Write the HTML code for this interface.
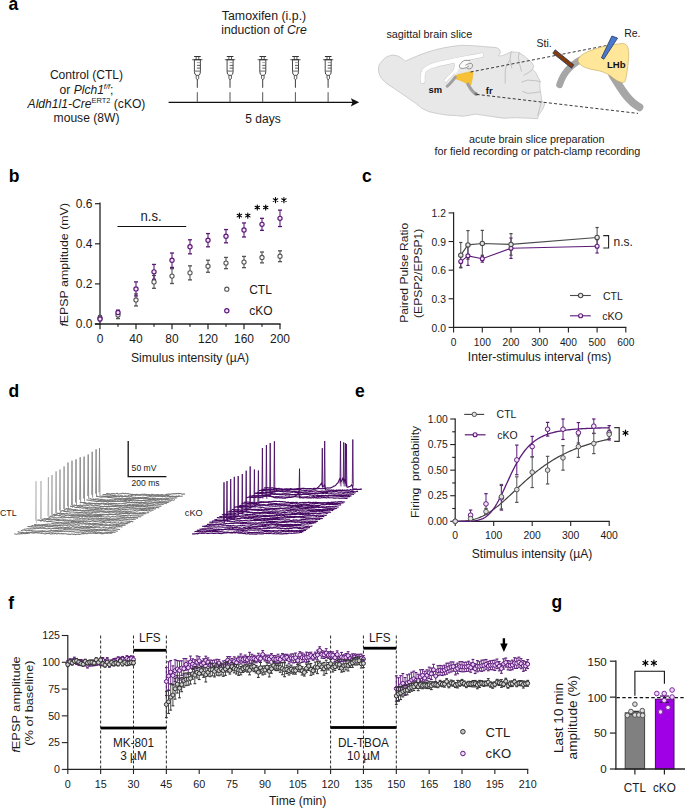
<!DOCTYPE html>
<html><head><meta charset="utf-8"><style>
html,body{margin:0;padding:0;background:#fff;}
svg{display:block;}
text{font-family:"Liberation Sans", sans-serif;}
</style></head><body>
<svg width="685" height="808" viewBox="0 0 685 808">
<rect x="0" y="0" width="685" height="808" fill="#fff"/>
<text transform="translate(8.6 9.8) scale(1 1.06)" font-size="17.5" text-anchor="start" font-weight="bold" font-style="normal" fill="#000" >a</text>
<text transform="translate(8.8 181.9) scale(1 1.06)" font-size="17.5" text-anchor="start" font-weight="bold" font-style="normal" fill="#000" >b</text>
<text transform="translate(362 181.9) scale(1 1.06)" font-size="17.5" text-anchor="start" font-weight="bold" font-style="normal" fill="#000" >c</text>
<text transform="translate(8.6 396.9) scale(1 1.06)" font-size="17.5" text-anchor="start" font-weight="bold" font-style="normal" fill="#000" >d</text>
<text transform="translate(355 396.9) scale(1 1.06)" font-size="17.5" text-anchor="start" font-weight="bold" font-style="normal" fill="#000" >e</text>
<text transform="translate(8.2 608.5) scale(1 1.06)" font-size="17.5" text-anchor="start" font-weight="bold" font-style="normal" fill="#000" >f</text>
<text transform="translate(551.6 608.4) scale(1 1.06)" font-size="17.5" text-anchor="start" font-weight="bold" font-style="normal" fill="#000" >g</text>
<text transform="translate(86.5 79.3) scale(1 1.06)" font-size="12.1" text-anchor="middle" fill="#1a1a1a">Control (CTL)</text>
<text transform="translate(86.5 93.6) scale(1 1.06)" font-size="12.1" text-anchor="middle" fill="#1a1a1a">or <tspan font-style="italic">Plch1</tspan><tspan font-style="italic" font-size="7.5" dy="-4.5">f/f</tspan><tspan dy="4.5">;</tspan></text>
<text transform="translate(86.5 108.2) scale(1 1.06)" font-size="12.1" text-anchor="middle" fill="#1a1a1a"><tspan font-style="italic">Aldh1l1-Cre</tspan><tspan font-size="7.5" dy="-4.5">ERT2</tspan><tspan dy="4.5"> (cKO)</tspan></text>
<text transform="translate(86.5 122.3) scale(1 1.06)" font-size="12.1" text-anchor="middle" fill="#1a1a1a">mouse (8W)</text>
<text transform="translate(264.0 19.8) scale(1 1.06)" font-size="12.35" text-anchor="middle" fill="#1a1a1a">Tamoxifen (i.p.)</text>
<text transform="translate(264.0 34.0) scale(1 1.06)" font-size="12.2" text-anchor="middle" fill="#1a1a1a">induction of <tspan font-style="italic">Cre</tspan></text>
<text transform="translate(263.0 123.3) scale(1 1.06)" font-size="12" text-anchor="middle" fill="#1a1a1a">5 days</text>
<line x1="168.6" y1="102.3" x2="353" y2="102.3" stroke="#111" stroke-width="1.35" />
<path d="M359.2,102.2 L350.8,98.2 L352.6,102.2 L350.8,106.4 Z" stroke="none" stroke-width="1" fill="#111" />
<line x1="197.3" y1="92.2" x2="197.3" y2="102.2" stroke="#555" stroke-width="1.0" />
<line x1="197.3" y1="79.2" x2="197.3" y2="87.8" stroke="#333333" stroke-width="0.95" />
<path d="M196.2,75.2 L196.2,78.6 L197.3,79.6 L198.7,78.6 L198.7,75.2" stroke="#333333" stroke-width="0.8" fill="#fff" />
<path d="M194.4,59.8 L194.4,71.6 Q194.4,74.8 196.3,75.3 L198.7,75.3 Q200.4,74.8 200.4,71.6 L200.4,59.8" stroke="#333333" stroke-width="0.9" fill="#fff" />
<line x1="194.4" y1="71.1" x2="200.4" y2="71.1" stroke="#555" stroke-width="0.9" />
<line x1="196.9" y1="62.6" x2="200.3" y2="62.6" stroke="#888" stroke-width="0.8" />
<line x1="196.9" y1="65.4" x2="200.3" y2="65.4" stroke="#333333" stroke-width="0.8" />
<line x1="196.9" y1="68.1" x2="200.3" y2="68.1" stroke="#333333" stroke-width="0.8" />
<line x1="192.1" y1="59.7" x2="202.5" y2="59.7" stroke="#777" stroke-width="1.1"/>
<line x1="193.7" y1="59.7" x2="201.1" y2="59.7" stroke="#333333" stroke-width="1.1" />
<line x1="196.2" y1="56.8" x2="196.2" y2="59.6" stroke="#333333" stroke-width="0.8" />
<line x1="198.8" y1="56.8" x2="198.8" y2="59.6" stroke="#333333" stroke-width="0.8" />
<line x1="194.1" y1="56.5" x2="200.7" y2="56.5" stroke="#333333" stroke-width="1.0" />
<line x1="230" y1="92.2" x2="230" y2="102.2" stroke="#555" stroke-width="1.0" />
<line x1="230" y1="79.2" x2="230" y2="87.8" stroke="#333333" stroke-width="0.95" />
<path d="M228.9,75.2 L228.9,78.6 L230,79.6 L231.4,78.6 L231.4,75.2" stroke="#333333" stroke-width="0.8" fill="#fff" />
<path d="M227.1,59.8 L227.1,71.6 Q227.1,74.8 229,75.3 L231.4,75.3 Q233.1,74.8 233.1,71.6 L233.1,59.8" stroke="#333333" stroke-width="0.9" fill="#fff" />
<line x1="227.1" y1="71.1" x2="233.1" y2="71.1" stroke="#555" stroke-width="0.9" />
<line x1="229.6" y1="62.6" x2="233" y2="62.6" stroke="#888" stroke-width="0.8" />
<line x1="229.6" y1="65.4" x2="233" y2="65.4" stroke="#333333" stroke-width="0.8" />
<line x1="229.6" y1="68.1" x2="233" y2="68.1" stroke="#333333" stroke-width="0.8" />
<line x1="224.8" y1="59.7" x2="235.2" y2="59.7" stroke="#777" stroke-width="1.1"/>
<line x1="226.4" y1="59.7" x2="233.8" y2="59.7" stroke="#333333" stroke-width="1.1" />
<line x1="228.9" y1="56.8" x2="228.9" y2="59.6" stroke="#333333" stroke-width="0.8" />
<line x1="231.5" y1="56.8" x2="231.5" y2="59.6" stroke="#333333" stroke-width="0.8" />
<line x1="226.8" y1="56.5" x2="233.4" y2="56.5" stroke="#333333" stroke-width="1.0" />
<line x1="262.7" y1="92.2" x2="262.7" y2="102.2" stroke="#555" stroke-width="1.0" />
<line x1="262.7" y1="79.2" x2="262.7" y2="87.8" stroke="#333333" stroke-width="0.95" />
<path d="M261.6,75.2 L261.6,78.6 L262.7,79.6 L264.1,78.6 L264.1,75.2" stroke="#333333" stroke-width="0.8" fill="#fff" />
<path d="M259.8,59.8 L259.8,71.6 Q259.8,74.8 261.7,75.3 L264.1,75.3 Q265.8,74.8 265.8,71.6 L265.8,59.8" stroke="#333333" stroke-width="0.9" fill="#fff" />
<line x1="259.8" y1="71.1" x2="265.8" y2="71.1" stroke="#555" stroke-width="0.9" />
<line x1="262.3" y1="62.6" x2="265.7" y2="62.6" stroke="#888" stroke-width="0.8" />
<line x1="262.3" y1="65.4" x2="265.7" y2="65.4" stroke="#333333" stroke-width="0.8" />
<line x1="262.3" y1="68.1" x2="265.7" y2="68.1" stroke="#333333" stroke-width="0.8" />
<line x1="257.5" y1="59.7" x2="267.9" y2="59.7" stroke="#777" stroke-width="1.1"/>
<line x1="259.1" y1="59.7" x2="266.5" y2="59.7" stroke="#333333" stroke-width="1.1" />
<line x1="261.6" y1="56.8" x2="261.6" y2="59.6" stroke="#333333" stroke-width="0.8" />
<line x1="264.2" y1="56.8" x2="264.2" y2="59.6" stroke="#333333" stroke-width="0.8" />
<line x1="259.5" y1="56.5" x2="266.1" y2="56.5" stroke="#333333" stroke-width="1.0" />
<line x1="295.4" y1="92.2" x2="295.4" y2="102.2" stroke="#555" stroke-width="1.0" />
<line x1="295.4" y1="79.2" x2="295.4" y2="87.8" stroke="#333333" stroke-width="0.95" />
<path d="M294.3,75.2 L294.3,78.6 L295.4,79.6 L296.8,78.6 L296.8,75.2" stroke="#333333" stroke-width="0.8" fill="#fff" />
<path d="M292.5,59.8 L292.5,71.6 Q292.5,74.8 294.4,75.3 L296.8,75.3 Q298.5,74.8 298.5,71.6 L298.5,59.8" stroke="#333333" stroke-width="0.9" fill="#fff" />
<line x1="292.5" y1="71.1" x2="298.5" y2="71.1" stroke="#555" stroke-width="0.9" />
<line x1="295" y1="62.6" x2="298.4" y2="62.6" stroke="#888" stroke-width="0.8" />
<line x1="295" y1="65.4" x2="298.4" y2="65.4" stroke="#333333" stroke-width="0.8" />
<line x1="295" y1="68.1" x2="298.4" y2="68.1" stroke="#333333" stroke-width="0.8" />
<line x1="290.2" y1="59.7" x2="300.6" y2="59.7" stroke="#777" stroke-width="1.1"/>
<line x1="291.8" y1="59.7" x2="299.2" y2="59.7" stroke="#333333" stroke-width="1.1" />
<line x1="294.3" y1="56.8" x2="294.3" y2="59.6" stroke="#333333" stroke-width="0.8" />
<line x1="296.9" y1="56.8" x2="296.9" y2="59.6" stroke="#333333" stroke-width="0.8" />
<line x1="292.2" y1="56.5" x2="298.8" y2="56.5" stroke="#333333" stroke-width="1.0" />
<line x1="328.1" y1="92.2" x2="328.1" y2="102.2" stroke="#555" stroke-width="1.0" />
<line x1="328.1" y1="79.2" x2="328.1" y2="87.8" stroke="#333333" stroke-width="0.95" />
<path d="M327,75.2 L327,78.6 L328.1,79.6 L329.5,78.6 L329.5,75.2" stroke="#333333" stroke-width="0.8" fill="#fff" />
<path d="M325.2,59.8 L325.2,71.6 Q325.2,74.8 327.1,75.3 L329.5,75.3 Q331.2,74.8 331.2,71.6 L331.2,59.8" stroke="#333333" stroke-width="0.9" fill="#fff" />
<line x1="325.2" y1="71.1" x2="331.2" y2="71.1" stroke="#555" stroke-width="0.9" />
<line x1="327.7" y1="62.6" x2="331.1" y2="62.6" stroke="#888" stroke-width="0.8" />
<line x1="327.7" y1="65.4" x2="331.1" y2="65.4" stroke="#333333" stroke-width="0.8" />
<line x1="327.7" y1="68.1" x2="331.1" y2="68.1" stroke="#333333" stroke-width="0.8" />
<line x1="322.9" y1="59.7" x2="333.3" y2="59.7" stroke="#777" stroke-width="1.1"/>
<line x1="324.5" y1="59.7" x2="331.9" y2="59.7" stroke="#333333" stroke-width="1.1" />
<line x1="327" y1="56.8" x2="327" y2="59.6" stroke="#333333" stroke-width="0.8" />
<line x1="329.6" y1="56.8" x2="329.6" y2="59.6" stroke="#333333" stroke-width="0.8" />
<line x1="324.9" y1="56.5" x2="331.5" y2="56.5" stroke="#333333" stroke-width="1.0" />
<text transform="translate(386.4 38.4) scale(1 1.0)" font-size="10.8" text-anchor="start" font-weight="normal" font-style="normal" fill="#1a1a1a" >sagittal brain slice</text>
<path d="M378.6,70.9 C378.2,66.5 379.2,63.8 381.2,62.3 C383,59.6 385.2,57.4 387.8,56.4 C389.6,55.6 391.4,55.1 393,55.1 C395.2,55.2 397.2,55.6 398.9,56.4 C400.6,57.4 402.2,58.6 403.5,59.7 C404.2,60.4 404.8,61 405.5,61 C407.6,60.2 409.4,59.2 411.4,58.4 C415.8,56.6 420.2,54.6 424.6,53.1 C429,51.6 433.4,50.2 437.7,49.2 C442,48.2 446.4,47.2 450.8,46.6 C455,46 459,45.5 462,45.3 C470,45.3 480,46.2 490,47.1 C492.5,47.3 494.5,47.3 496.1,47.6 C497.8,48.2 499.2,48.8 499.6,49.6 C500.2,50.8 500.4,52.2 500.2,53.2 C499.8,54.2 498.6,55 498.6,55.7 C499.8,56 501,55.9 502.2,55.7 C503.6,55.2 504.9,54.7 506.2,54.2 C507.9,53.4 509.6,52.4 511.3,51.7 C512.7,51.8 514.1,52 515.4,52.2 C516.8,52.3 518.1,52.4 519.4,52.7 C521.2,53.8 522.8,55 524.5,56.2 C525.9,57.4 527.2,58.6 528.6,59.8 C529.6,60.6 530.6,61.4 531.6,62.3 C532.5,63.6 533.4,65 533.7,66.4 C533.5,67.4 532.6,68.4 532.6,69.4 C533.6,70.4 534.8,71.4 535.7,72.5 C536.8,74.5 537.8,76.6 538.7,78.6 C539.3,79.6 540,80.6 540.3,81.6 C540.4,82.6 539.7,83.7 539.7,84.7 C539.9,86.8 540.1,88.8 540.3,90.8 C540.6,92.8 541,94.9 541.3,96.9 C541.5,98.2 541.6,99.6 541.8,100.9 C542.8,101.8 544.2,102.6 544.8,103.5 C544.4,105.4 543.6,107.2 542.8,109 C541.4,111 540,113 538.7,115.1 C538.3,116.3 537.9,117.5 537.7,118.7 C534.6,118.5 531.6,118.4 528.6,118.2 C524.2,118 519.8,117.8 515.4,117.7 C511.3,117.8 507.3,118 503.2,118.2 C499.3,117.6 495.4,117 491.5,116.4 C486,115.6 480.6,114.8 475.1,114.1 C470,115.3 466,115.9 462,116.2 C458.5,115.9 457.2,115.7 456.1,115.6 C452.6,115.4 449.1,115.2 445.6,114.9 C443,114.4 440.3,114 437.7,113.6 C434.6,113 431.6,112.3 428.5,111.6 C426.3,110.5 424.1,109.4 421.9,108.3 C419.7,106.6 417.6,104.8 415.4,103.1 C413.2,101.6 411,100 408.8,98.5 C406.6,97 404.4,95.4 402.2,93.9 C399.6,92.1 396.9,90.4 394.3,88.6 C391.7,86.9 389.1,85.2 386.5,83.4 C384.7,81.6 382.9,79.9 381.2,78.1 C379.8,75.8 378.8,73.4 378.6,70.9 Z" stroke="#bdbdbd" stroke-width="0.7" fill="#e8e8e8" />
<path d="M511.3,51.7 C510.6,54.6 510.4,57.5 509.8,60.3 C508.8,62.4 507.2,64.2 506.2,66.4 C505.4,68.8 505.2,71.1 505.2,73.5 C505.2,76.9 505.3,80.3 505.2,83.7" stroke="#a8a8a8" stroke-width="0.6" fill="none" />
<path d="M510.3,60.3 C510.8,63 511.2,65.8 511.8,68.4" stroke="#a8a8a8" stroke-width="0.6" fill="none" />
<path d="M519.4,52.7 C518.9,54.2 518.4,55.8 518.4,57.3 C518.7,59.3 519.1,61.4 519.4,63.4 C520,66.1 520.8,68.8 521.5,71.5" stroke="#a8a8a8" stroke-width="0.6" fill="none" />
<path d="M523.5,75.5 C525.2,74.5 526.9,73.5 528.6,72.5 C529.9,71.5 531.3,70.4 532.6,69.4" stroke="#a8a8a8" stroke-width="0.6" fill="none" />
<path d="M521.5,82.1 C523.5,81.4 525.6,80.8 527.6,80.1 C530,80.3 532.3,80.4 534.7,80.6 C536.6,80.9 538.4,81.3 540.3,81.6" stroke="#a8a8a8" stroke-width="0.6" fill="none" />
<path d="M522.5,91.3 C524.2,92 525.9,92.6 527.6,93.3 C529.6,93.2 531.7,93 533.7,92.8 C535.9,92.5 538.1,92.1 540.3,91.8" stroke="#a8a8a8" stroke-width="0.6" fill="none" />
<path d="M541.3,101.9 C540.1,106.5 538.9,111 537.7,115.6" stroke="#a8a8a8" stroke-width="0.6" fill="none" />
<path d="M422.8,81.2 C422.4,77 422.4,73.2 424.4,70.4 C427.2,67.2 431,65.8 436,64.6 C444,62.6 452,61.2 460,59.4 C467,58 474,56.4 481.4,55.2" stroke="#c4c4c4" stroke-width="5.0" fill="none" stroke-linecap="round"/>
<path d="M445.6,80.6 C447.2,78.8 450.6,75.6 453.2,72.8 C455,70.6 456.2,67.2 456.6,64.4 C456.8,63.2 456.8,62.4 456.7,61.8" stroke="#c4c4c4" stroke-width="3.6" fill="none" stroke-linecap="round"/>
<path d="M422.8,81.2 C422.4,77 422.4,73.2 424.4,70.4 C427.2,67.2 431,65.8 436,64.6 C444,62.6 452,61.2 460,59.4 C467,58 474,56.4 481.4,55.2" stroke="#ffffff" stroke-width="4.2" fill="none" stroke-linecap="round"/>
<path d="M445.6,80.6 C447.2,78.8 450.6,75.6 453.2,72.8 C455,70.6 456.2,67.2 456.6,64.4 C456.8,63.2 456.8,62.4 456.7,61.8" stroke="#ffffff" stroke-width="2.8" fill="none" stroke-linecap="round"/>
<path d="M453.8,61.6 C456.5,60.8 459,60.4 461.5,60.3 C462,62 460.6,63.6 459.8,65.6 C459.2,67.6 458.6,69.6 457.4,71.4 C456.4,72.6 455.2,73.6 454,74.6 C454.4,72.6 455.2,70.4 455.4,68.4 C455.6,66.2 455.2,63.6 453.8,61.6 Z" stroke="none" stroke-width="1" fill="#ffffff" />
<path d="M470.1,60.5 L464.9,60.3 C463,61 461.8,62 461.4,62.9 C460.2,64 459.4,65 459.4,66 C459.6,67.2 460,67.8 460.5,68.1 C461.4,68.4 462.3,68.5 463.1,68.4 C464.2,68.2 465.2,68 466.2,67.7 L468,63.5 Z" stroke="none" stroke-width="1" fill="#fafafa" />
<path d="M470.1,60.5 L464.9,60.3 C463,61 461.8,62 461.4,62.9 C460.2,64 459.4,65 459.4,66 C459.6,67.2 460,67.8 460.5,68.1 C461.4,68.4 462.3,68.5 463.1,68.4 C464.2,68.2 465.2,68 466.2,67.7" stroke="#555" stroke-width="0.6" fill="none" />
<path d="M465.3,65.3 C466.3,64.7 467.3,64.1 468.4,63.8 C469.3,63.4 470.1,63.2 471,63.3 C471.9,63.8 472.6,64.4 472.6,65.1 C472.6,65.7 472.5,66.1 472.3,66.6 C472,67.3 471.6,68 471.2,68.4 C470.4,68.8 469.6,69 468.8,69 C468,68.8 467.2,68.5 466.6,68.1 C466.8,67.6 467.1,67.1 467.5,66.8 C467.9,66.5 468.4,66.3 468.8,66.2" stroke="#555" stroke-width="0.6" fill="none" />
<path d="M453.9,77.0 C456,75.4 458,74.4 461,73.8 C465,72.8 469,71.8 471.0,71.5 C472.6,71.6 473.2,72.6 473.0,74.2 C472.6,77.5 472,81.5 470.9,85.0 C469.6,84.8 468,84.2 466.8,83.6 C463.8,81.8 460.4,80.4 457.2,79.4 C455.4,78.8 454.2,78.2 453.9,77.0 Z" stroke="#e5ad22" stroke-width="0.4" fill="#f7c136" />
<path d="M455.4,77.2 C453.6,79.6 451.6,82 449.6,84 C448.6,85 447.8,85.8 447.2,86.2" stroke="#a0a0a0" stroke-width="3.0" fill="none" stroke-linecap="round"/>
<path d="M467.8,84.2 C469.2,86.2 470.4,88.4 471.8,90.2 C473,91.8 474.4,93.2 476.4,94.2" stroke="#a0a0a0" stroke-width="3.2" fill="none" stroke-linecap="round"/>
<circle cx="475.8" cy="94.0" r="1.4" fill="#7a7a7a"/>
<text transform="translate(428.6 92.6) scale(1 1.0)" font-size="9.4" text-anchor="start" font-weight="bold" font-style="normal" fill="#111" >sm</text>
<text transform="translate(485.8 93.8) scale(1 1.0)" font-size="9.4" text-anchor="start" font-weight="bold" font-style="normal" fill="#111" >fr</text>
<line x1="470.6" y1="72" x2="608.5" y2="45.2" stroke="#222" stroke-width="0.9" stroke-dasharray="3,2.2"/>
<line x1="476.6" y1="94.4" x2="638" y2="113.4" stroke="#222" stroke-width="0.9" stroke-dasharray="3,2.2"/>
<path d="M559.6,84.8 C561.5,78.5 565.5,71.5 571,66.5 C574.5,63.2 578,61 582,59.2" stroke="#a6a6a6" stroke-width="6.8" fill="none" stroke-linecap="round"/>
<path d="M612.5,75 C617,82 621.5,90 626.5,96 C631,101.5 635,104.8 639.4,107.2" stroke="#a6a6a6" stroke-width="8.0" fill="none" stroke-linecap="round"/>
<path d="M578.2,58.9 C580,55.8 583,53.8 588,51.6 C594,49.2 600,47.2 606.7,45.8 C613,44.6 618.5,43.8 622.8,43.5 C625.4,43.6 627.2,45.2 628.2,48.4 C629.2,53.5 628.6,60 627.9,65.5 C627.2,71.5 626.4,77 625.4,80.6 C624.6,82.6 623.0,82.8 620.6,82.2 C616.4,80.8 613,78 609.6,75.2 C605,72.4 600.5,71 596,70.2 C590,69.2 585,68 581.4,65.4 C578.8,63.6 577.6,61.2 578.2,58.9 Z" stroke="#b59a48" stroke-width="0.5" fill="#ffe699" />
<text transform="translate(607 67.8) scale(1 1.02)" font-size="9.6" text-anchor="start" font-weight="bold" font-style="normal" fill="#111" >LHb</text>
<polygon points="611.9,36.0 617.6,38.1 603.8,59.2 601.4,57.8" fill="#4a78cc" stroke="#1f3864" stroke-width="0.8"/>
<polygon points="552.8,53.2 555.2,49.8 573.8,64.8 571.6,68.2" fill="#843c0c" stroke="#1f3864" stroke-width="0.8"/>
<text transform="translate(624.2 37.2) scale(1 1.0)" font-size="10.5" text-anchor="start" font-weight="normal" font-style="normal" fill="#1a1a1a" >Re.</text>
<text transform="translate(536.6 46.6) scale(1 1.0)" font-size="10.5" text-anchor="start" font-weight="normal" font-style="normal" fill="#1a1a1a" >Sti.</text>
<text transform="translate(536.8 142.8) scale(1 1.0)" font-size="10.8" text-anchor="middle" font-weight="normal" font-style="normal" fill="#1a1a1a" >acute brain slice preparation</text>
<text transform="translate(537.4 155.2) scale(1 1.0)" font-size="10.8" text-anchor="middle" font-weight="normal" font-style="normal" fill="#1a1a1a" >for field recording or patch-clamp recording</text>
<line x1="100" y1="202.5" x2="100" y2="324.6" stroke="#222" stroke-width="1.3" />
<line x1="94.8" y1="324" x2="280.6" y2="324" stroke="#222" stroke-width="1.3" />
<line x1="95" y1="324" x2="100" y2="324" stroke="#222" stroke-width="1.2" />
<text transform="translate(92.4 328.3) scale(1 1.06)" font-size="12.0" text-anchor="end" font-weight="normal" font-style="normal" fill="#1a1a1a" >0.0</text>
<line x1="95" y1="283.9" x2="100" y2="283.9" stroke="#222" stroke-width="1.2" />
<text transform="translate(92.4 288.2) scale(1 1.06)" font-size="12.0" text-anchor="end" font-weight="normal" font-style="normal" fill="#1a1a1a" >0.2</text>
<line x1="95" y1="243.8" x2="100" y2="243.8" stroke="#222" stroke-width="1.2" />
<text transform="translate(92.4 248.1) scale(1 1.06)" font-size="12.0" text-anchor="end" font-weight="normal" font-style="normal" fill="#1a1a1a" >0.4</text>
<line x1="95" y1="203.7" x2="100" y2="203.7" stroke="#222" stroke-width="1.2" />
<text transform="translate(92.4 208) scale(1 1.06)" font-size="12.0" text-anchor="end" font-weight="normal" font-style="normal" fill="#1a1a1a" >0.6</text>
<line x1="100" y1="324" x2="100" y2="329.2" stroke="#222" stroke-width="1.2" />
<text transform="translate(100 342.8) scale(1 1.06)" font-size="12.0" text-anchor="middle" font-weight="normal" font-style="normal" fill="#1a1a1a" >0</text>
<line x1="118" y1="324" x2="118" y2="326.8" stroke="#222" stroke-width="1.2" />
<line x1="136" y1="324" x2="136" y2="329.2" stroke="#222" stroke-width="1.2" />
<text transform="translate(136 342.8) scale(1 1.06)" font-size="12.0" text-anchor="middle" font-weight="normal" font-style="normal" fill="#1a1a1a" >40</text>
<line x1="154" y1="324" x2="154" y2="326.8" stroke="#222" stroke-width="1.2" />
<line x1="172" y1="324" x2="172" y2="329.2" stroke="#222" stroke-width="1.2" />
<text transform="translate(172 342.8) scale(1 1.06)" font-size="12.0" text-anchor="middle" font-weight="normal" font-style="normal" fill="#1a1a1a" >80</text>
<line x1="190" y1="324" x2="190" y2="326.8" stroke="#222" stroke-width="1.2" />
<line x1="208" y1="324" x2="208" y2="329.2" stroke="#222" stroke-width="1.2" />
<text transform="translate(208 342.8) scale(1 1.06)" font-size="12.0" text-anchor="middle" font-weight="normal" font-style="normal" fill="#1a1a1a" >120</text>
<line x1="226" y1="324" x2="226" y2="326.8" stroke="#222" stroke-width="1.2" />
<line x1="244" y1="324" x2="244" y2="329.2" stroke="#222" stroke-width="1.2" />
<text transform="translate(244 342.8) scale(1 1.06)" font-size="12.0" text-anchor="middle" font-weight="normal" font-style="normal" fill="#1a1a1a" >160</text>
<line x1="262" y1="324" x2="262" y2="326.8" stroke="#222" stroke-width="1.2" />
<line x1="280" y1="324" x2="280" y2="329.2" stroke="#222" stroke-width="1.2" />
<text transform="translate(280 342.8) scale(1 1.06)" font-size="12.0" text-anchor="middle" font-weight="normal" font-style="normal" fill="#1a1a1a" >200</text>
<text transform="translate(190 361.5) scale(1 1.06)" font-size="12.2" text-anchor="middle" font-weight="normal" font-style="normal" fill="#1a1a1a" >Simulus intensity (µA)</text>
<text transform="translate(68.2 264.8) rotate(-90) scale(1.1 1)" font-size="11.27" text-anchor="middle" fill="#1a1a1a"><tspan font-style="italic">f</tspan>EPSP amplitude (mV)</text>
<line x1="100" y1="315.58" x2="100" y2="320.39" stroke="#555" stroke-width="1.1" />
<line x1="98" y1="315.58" x2="102" y2="315.58" stroke="#555" stroke-width="1.32" />
<line x1="98" y1="320.39" x2="102" y2="320.39" stroke="#555" stroke-width="1.32" />
<line x1="118" y1="311.37" x2="118" y2="318.59" stroke="#555" stroke-width="1.1" />
<line x1="116" y1="311.37" x2="120" y2="311.37" stroke="#555" stroke-width="1.32" />
<line x1="116" y1="318.59" x2="120" y2="318.59" stroke="#555" stroke-width="1.32" />
<line x1="136" y1="293.93" x2="136" y2="305.95" stroke="#555" stroke-width="1.1" />
<line x1="134" y1="293.93" x2="138" y2="293.93" stroke="#555" stroke-width="1.32" />
<line x1="134" y1="305.95" x2="138" y2="305.95" stroke="#555" stroke-width="1.32" />
<line x1="154" y1="275.48" x2="154" y2="288.31" stroke="#555" stroke-width="1.1" />
<line x1="152" y1="275.48" x2="156" y2="275.48" stroke="#555" stroke-width="1.32" />
<line x1="152" y1="288.31" x2="156" y2="288.31" stroke="#555" stroke-width="1.32" />
<line x1="172" y1="268.66" x2="172" y2="283.5" stroke="#555" stroke-width="1.1" />
<line x1="170" y1="268.66" x2="174" y2="268.66" stroke="#555" stroke-width="1.32" />
<line x1="170" y1="283.5" x2="174" y2="283.5" stroke="#555" stroke-width="1.32" />
<line x1="190" y1="265.86" x2="190" y2="279.89" stroke="#555" stroke-width="1.1" />
<line x1="188" y1="265.86" x2="192" y2="265.86" stroke="#555" stroke-width="1.32" />
<line x1="188" y1="279.89" x2="192" y2="279.89" stroke="#555" stroke-width="1.32" />
<line x1="208" y1="260.24" x2="208" y2="272.27" stroke="#555" stroke-width="1.1" />
<line x1="206" y1="260.24" x2="210" y2="260.24" stroke="#555" stroke-width="1.32" />
<line x1="206" y1="272.27" x2="210" y2="272.27" stroke="#555" stroke-width="1.32" />
<line x1="226" y1="257.43" x2="226" y2="268.66" stroke="#555" stroke-width="1.1" />
<line x1="224" y1="257.43" x2="228" y2="257.43" stroke="#555" stroke-width="1.32" />
<line x1="224" y1="268.66" x2="228" y2="268.66" stroke="#555" stroke-width="1.32" />
<line x1="244" y1="256.43" x2="244" y2="267.66" stroke="#555" stroke-width="1.1" />
<line x1="242" y1="256.43" x2="246" y2="256.43" stroke="#555" stroke-width="1.32" />
<line x1="242" y1="267.66" x2="246" y2="267.66" stroke="#555" stroke-width="1.32" />
<line x1="262" y1="252.02" x2="262" y2="262.85" stroke="#555" stroke-width="1.1" />
<line x1="260" y1="252.02" x2="264" y2="252.02" stroke="#555" stroke-width="1.32" />
<line x1="260" y1="262.85" x2="264" y2="262.85" stroke="#555" stroke-width="1.32" />
<line x1="280" y1="250.82" x2="280" y2="261.64" stroke="#555" stroke-width="1.1" />
<line x1="278" y1="250.82" x2="282" y2="250.82" stroke="#555" stroke-width="1.32" />
<line x1="278" y1="261.64" x2="282" y2="261.64" stroke="#555" stroke-width="1.32" />
<line x1="100" y1="317.38" x2="100" y2="320.59" stroke="#5c1a78" stroke-width="1.1" />
<line x1="98" y1="317.38" x2="102" y2="317.38" stroke="#5c1a78" stroke-width="1.32" />
<line x1="98" y1="320.59" x2="102" y2="320.59" stroke="#5c1a78" stroke-width="1.32" />
<line x1="118" y1="310.17" x2="118" y2="314.98" stroke="#5c1a78" stroke-width="1.1" />
<line x1="116" y1="310.17" x2="120" y2="310.17" stroke="#5c1a78" stroke-width="1.32" />
<line x1="116" y1="314.98" x2="120" y2="314.98" stroke="#5c1a78" stroke-width="1.32" />
<line x1="136" y1="281.89" x2="136" y2="295.93" stroke="#5c1a78" stroke-width="1.1" />
<line x1="134" y1="281.89" x2="138" y2="281.89" stroke="#5c1a78" stroke-width="1.32" />
<line x1="134" y1="295.93" x2="138" y2="295.93" stroke="#5c1a78" stroke-width="1.32" />
<line x1="154" y1="264.45" x2="154" y2="279.29" stroke="#5c1a78" stroke-width="1.1" />
<line x1="152" y1="264.45" x2="156" y2="264.45" stroke="#5c1a78" stroke-width="1.32" />
<line x1="152" y1="279.29" x2="156" y2="279.29" stroke="#5c1a78" stroke-width="1.32" />
<line x1="172" y1="253.02" x2="172" y2="267.46" stroke="#5c1a78" stroke-width="1.1" />
<line x1="170" y1="253.02" x2="174" y2="253.02" stroke="#5c1a78" stroke-width="1.32" />
<line x1="170" y1="267.46" x2="174" y2="267.46" stroke="#5c1a78" stroke-width="1.32" />
<line x1="190" y1="239.79" x2="190" y2="253.82" stroke="#5c1a78" stroke-width="1.1" />
<line x1="188" y1="239.79" x2="192" y2="239.79" stroke="#5c1a78" stroke-width="1.32" />
<line x1="188" y1="253.82" x2="192" y2="253.82" stroke="#5c1a78" stroke-width="1.32" />
<line x1="208" y1="233.57" x2="208" y2="246.81" stroke="#5c1a78" stroke-width="1.1" />
<line x1="206" y1="233.57" x2="210" y2="233.57" stroke="#5c1a78" stroke-width="1.32" />
<line x1="206" y1="246.81" x2="210" y2="246.81" stroke="#5c1a78" stroke-width="1.32" />
<line x1="226" y1="229.56" x2="226" y2="242.8" stroke="#5c1a78" stroke-width="1.1" />
<line x1="224" y1="229.56" x2="228" y2="229.56" stroke="#5c1a78" stroke-width="1.32" />
<line x1="224" y1="242.8" x2="228" y2="242.8" stroke="#5c1a78" stroke-width="1.32" />
<line x1="244" y1="222.95" x2="244" y2="236.98" stroke="#5c1a78" stroke-width="1.1" />
<line x1="242" y1="222.95" x2="246" y2="222.95" stroke="#5c1a78" stroke-width="1.32" />
<line x1="242" y1="236.98" x2="246" y2="236.98" stroke="#5c1a78" stroke-width="1.32" />
<line x1="262" y1="218.34" x2="262" y2="230.37" stroke="#5c1a78" stroke-width="1.1" />
<line x1="260" y1="218.34" x2="264" y2="218.34" stroke="#5c1a78" stroke-width="1.32" />
<line x1="260" y1="230.37" x2="264" y2="230.37" stroke="#5c1a78" stroke-width="1.32" />
<line x1="280" y1="210.12" x2="280" y2="226.56" stroke="#5c1a78" stroke-width="1.1" />
<line x1="278" y1="210.12" x2="282" y2="210.12" stroke="#5c1a78" stroke-width="1.32" />
<line x1="278" y1="226.56" x2="282" y2="226.56" stroke="#5c1a78" stroke-width="1.32" />
<circle cx="100" cy="317.99" r="2.1" stroke="#555" stroke-width="1.1" fill="#fff"/>
<circle cx="118" cy="314.98" r="2.1" stroke="#555" stroke-width="1.1" fill="#fff"/>
<circle cx="136" cy="299.94" r="2.1" stroke="#555" stroke-width="1.1" fill="#fff"/>
<circle cx="154" cy="281.89" r="2.1" stroke="#555" stroke-width="1.1" fill="#fff"/>
<circle cx="172" cy="276.08" r="2.1" stroke="#555" stroke-width="1.1" fill="#fff"/>
<circle cx="190" cy="272.87" r="2.1" stroke="#555" stroke-width="1.1" fill="#fff"/>
<circle cx="208" cy="266.26" r="2.1" stroke="#555" stroke-width="1.1" fill="#fff"/>
<circle cx="226" cy="263.05" r="2.1" stroke="#555" stroke-width="1.1" fill="#fff"/>
<circle cx="244" cy="262.05" r="2.1" stroke="#555" stroke-width="1.1" fill="#fff"/>
<circle cx="262" cy="257.43" r="2.1" stroke="#555" stroke-width="1.1" fill="#fff"/>
<circle cx="280" cy="256.23" r="2.1" stroke="#555" stroke-width="1.1" fill="#fff"/>
<circle cx="100" cy="318.99" r="2.1" stroke="#5c1a78" stroke-width="1.2" fill="#f6e6ff"/>
<circle cx="118" cy="312.57" r="2.1" stroke="#5c1a78" stroke-width="1.2" fill="#f6e6ff"/>
<circle cx="136" cy="288.91" r="2.1" stroke="#5c1a78" stroke-width="1.2" fill="#f6e6ff"/>
<circle cx="154" cy="271.87" r="2.1" stroke="#5c1a78" stroke-width="1.2" fill="#f6e6ff"/>
<circle cx="172" cy="260.24" r="2.1" stroke="#5c1a78" stroke-width="1.2" fill="#f6e6ff"/>
<circle cx="190" cy="246.81" r="2.1" stroke="#5c1a78" stroke-width="1.2" fill="#f6e6ff"/>
<circle cx="208" cy="240.19" r="2.1" stroke="#5c1a78" stroke-width="1.2" fill="#f6e6ff"/>
<circle cx="226" cy="236.18" r="2.1" stroke="#5c1a78" stroke-width="1.2" fill="#f6e6ff"/>
<circle cx="244" cy="229.97" r="2.1" stroke="#5c1a78" stroke-width="1.2" fill="#f6e6ff"/>
<circle cx="262" cy="224.35" r="2.1" stroke="#5c1a78" stroke-width="1.2" fill="#f6e6ff"/>
<circle cx="280" cy="218.34" r="2.1" stroke="#5c1a78" stroke-width="1.2" fill="#f6e6ff"/>
<line x1="117.5" y1="226.5" x2="186.2" y2="226.5" stroke="#111" stroke-width="1.1" />
<text transform="translate(151.1 220.9) scale(1 1.06)" font-size="13.1" text-anchor="middle" font-weight="normal" font-style="normal" fill="#1a1a1a" >n.s.</text>
<path d="M239.4,213.05 L239.4,218.15 M237.19,214.32 L241.61,216.88 M237.19,216.88 L241.61,214.32" stroke="#000" stroke-width="1.1" stroke-linecap="round" fill="none"/>
<circle cx="239.4" cy="215.6" r="0.97" fill="#000"/>
<path d="M247.8,213.05 L247.8,218.15 M245.59,214.32 L250.01,216.88 M245.59,216.88 L250.01,214.32" stroke="#000" stroke-width="1.1" stroke-linecap="round" fill="none"/>
<circle cx="247.8" cy="215.6" r="0.97" fill="#000"/>
<path d="M257.3,204.95 L257.3,210.05 M255.09,206.22 L259.51,208.78 M255.09,208.78 L259.51,206.22" stroke="#000" stroke-width="1.1" stroke-linecap="round" fill="none"/>
<circle cx="257.3" cy="207.5" r="0.97" fill="#000"/>
<path d="M265.7,204.95 L265.7,210.05 M263.49,206.22 L267.91,208.78 M263.49,208.78 L267.91,206.22" stroke="#000" stroke-width="1.1" stroke-linecap="round" fill="none"/>
<circle cx="265.7" cy="207.5" r="0.97" fill="#000"/>
<path d="M275.5,197.55 L275.5,202.65 M273.29,198.82 L277.71,201.38 M273.29,201.38 L277.71,198.82" stroke="#000" stroke-width="1.1" stroke-linecap="round" fill="none"/>
<circle cx="275.5" cy="200.1" r="0.97" fill="#000"/>
<path d="M283.9,197.55 L283.9,202.65 M281.69,198.82 L286.11,201.38 M281.69,201.38 L286.11,198.82" stroke="#000" stroke-width="1.1" stroke-linecap="round" fill="none"/>
<circle cx="283.9" cy="200.1" r="0.97" fill="#000"/>
<circle cx="226.8" cy="289.2" r="2.1" stroke="#555" stroke-width="1.1" fill="#fff"/>
<text transform="translate(249.2 293.6) scale(1 1.06)" font-size="12" text-anchor="start" font-weight="normal" font-style="normal" fill="#1a1a1a" >CTL</text>
<circle cx="226.8" cy="310.7" r="2.1" stroke="#5c1a78" stroke-width="1.2" fill="#f6e6ff"/>
<text transform="translate(249.2 315) scale(1 1.06)" font-size="12" text-anchor="start" font-weight="normal" font-style="normal" fill="#1a1a1a" >cKO</text>
<line x1="453.6" y1="212.32" x2="453.6" y2="328" stroke="#222" stroke-width="1.2" />
<line x1="453" y1="327.4" x2="626.4" y2="327.4" stroke="#222" stroke-width="1.2" />
<line x1="448.6" y1="327.4" x2="453.6" y2="327.4" stroke="#222" stroke-width="1.1" />
<text transform="translate(445.9 331.6) scale(1 1.06)" font-size="10.3" text-anchor="end" font-weight="normal" font-style="normal" fill="#1a1a1a" >0.0</text>
<line x1="448.6" y1="298.78" x2="453.6" y2="298.78" stroke="#222" stroke-width="1.1" />
<text transform="translate(445.9 302.98) scale(1 1.06)" font-size="10.3" text-anchor="end" font-weight="normal" font-style="normal" fill="#1a1a1a" >0.3</text>
<line x1="448.6" y1="270.16" x2="453.6" y2="270.16" stroke="#222" stroke-width="1.1" />
<text transform="translate(445.9 274.36) scale(1 1.06)" font-size="10.3" text-anchor="end" font-weight="normal" font-style="normal" fill="#1a1a1a" >0.6</text>
<line x1="448.6" y1="241.54" x2="453.6" y2="241.54" stroke="#222" stroke-width="1.1" />
<text transform="translate(445.9 245.74) scale(1 1.06)" font-size="10.3" text-anchor="end" font-weight="normal" font-style="normal" fill="#1a1a1a" >0.9</text>
<line x1="448.6" y1="212.92" x2="453.6" y2="212.92" stroke="#222" stroke-width="1.1" />
<text transform="translate(445.9 217.12) scale(1 1.06)" font-size="10.3" text-anchor="end" font-weight="normal" font-style="normal" fill="#1a1a1a" >1.2</text>
<line x1="453.6" y1="327.4" x2="453.6" y2="332.6" stroke="#222" stroke-width="1.1" />
<text transform="translate(453.6 345.6) scale(1 1.06)" font-size="10.2" text-anchor="middle" font-weight="normal" font-style="normal" fill="#1a1a1a" >0</text>
<line x1="482.3" y1="327.4" x2="482.3" y2="332.6" stroke="#222" stroke-width="1.1" />
<text transform="translate(482.3 345.6) scale(1 1.06)" font-size="10.2" text-anchor="middle" font-weight="normal" font-style="normal" fill="#1a1a1a" >100</text>
<line x1="511" y1="327.4" x2="511" y2="332.6" stroke="#222" stroke-width="1.1" />
<text transform="translate(511 345.6) scale(1 1.06)" font-size="10.2" text-anchor="middle" font-weight="normal" font-style="normal" fill="#1a1a1a" >200</text>
<line x1="539.7" y1="327.4" x2="539.7" y2="332.6" stroke="#222" stroke-width="1.1" />
<text transform="translate(539.7 345.6) scale(1 1.06)" font-size="10.2" text-anchor="middle" font-weight="normal" font-style="normal" fill="#1a1a1a" >300</text>
<line x1="568.4" y1="327.4" x2="568.4" y2="332.6" stroke="#222" stroke-width="1.1" />
<text transform="translate(568.4 345.6) scale(1 1.06)" font-size="10.2" text-anchor="middle" font-weight="normal" font-style="normal" fill="#1a1a1a" >400</text>
<line x1="597.1" y1="327.4" x2="597.1" y2="332.6" stroke="#222" stroke-width="1.1" />
<text transform="translate(597.1 345.6) scale(1 1.06)" font-size="10.2" text-anchor="middle" font-weight="normal" font-style="normal" fill="#1a1a1a" >500</text>
<line x1="625.8" y1="327.4" x2="625.8" y2="332.6" stroke="#222" stroke-width="1.1" />
<text transform="translate(625.8 345.6) scale(1 1.06)" font-size="10.2" text-anchor="middle" font-weight="normal" font-style="normal" fill="#1a1a1a" >600</text>
<text transform="translate(539.6 361) scale(1 1.06)" font-size="12.2" text-anchor="middle" font-weight="normal" font-style="normal" fill="#1a1a1a" >Inter-stimulus interval (ms)</text>
<text transform="translate(407.6 272.8) rotate(-90) scale(1.1 1)" font-size="11.00" text-anchor="middle" fill="#1a1a1a">Paired Pulse Ratio</text>
<text transform="translate(421.6 273.3) rotate(-90) scale(1.1 1)" font-size="11.00" text-anchor="middle" fill="#1a1a1a">(EPSP2/EPSP1)</text>
<line x1="460.78" y1="255.85" x2="460.78" y2="267.3" stroke="#5c1a78" stroke-width="1.0" />
<line x1="459.18" y1="255.85" x2="462.38" y2="255.85" stroke="#5c1a78" stroke-width="1.2" />
<line x1="459.18" y1="267.3" x2="462.38" y2="267.3" stroke="#5c1a78" stroke-width="1.2" />
<line x1="467.95" y1="246.31" x2="467.95" y2="265.39" stroke="#5c1a78" stroke-width="1.0" />
<line x1="466.35" y1="246.31" x2="469.55" y2="246.31" stroke="#5c1a78" stroke-width="1.2" />
<line x1="466.35" y1="265.39" x2="469.55" y2="265.39" stroke="#5c1a78" stroke-width="1.2" />
<line x1="482.3" y1="255.28" x2="482.3" y2="262.15" stroke="#5c1a78" stroke-width="1.0" />
<line x1="480.7" y1="255.28" x2="483.9" y2="255.28" stroke="#5c1a78" stroke-width="1.2" />
<line x1="480.7" y1="262.15" x2="483.9" y2="262.15" stroke="#5c1a78" stroke-width="1.2" />
<line x1="511" y1="238.01" x2="511" y2="258.43" stroke="#5c1a78" stroke-width="1.0" />
<line x1="509.4" y1="238.01" x2="512.6" y2="238.01" stroke="#5c1a78" stroke-width="1.2" />
<line x1="509.4" y1="258.43" x2="512.6" y2="258.43" stroke="#5c1a78" stroke-width="1.2" />
<line x1="597.1" y1="239.63" x2="597.1" y2="252.99" stroke="#5c1a78" stroke-width="1.0" />
<line x1="595.5" y1="239.63" x2="598.7" y2="239.63" stroke="#5c1a78" stroke-width="1.2" />
<line x1="595.5" y1="252.99" x2="598.7" y2="252.99" stroke="#5c1a78" stroke-width="1.2" />
<line x1="460.78" y1="242.49" x2="460.78" y2="267.87" stroke="#4a4a4a" stroke-width="1.0" />
<line x1="459.18" y1="242.49" x2="462.38" y2="242.49" stroke="#4a4a4a" stroke-width="1.2" />
<line x1="459.18" y1="267.87" x2="462.38" y2="267.87" stroke="#4a4a4a" stroke-width="1.2" />
<line x1="467.95" y1="230.57" x2="467.95" y2="259.19" stroke="#4a4a4a" stroke-width="1.0" />
<line x1="466.35" y1="230.57" x2="469.55" y2="230.57" stroke="#4a4a4a" stroke-width="1.2" />
<line x1="466.35" y1="259.19" x2="469.55" y2="259.19" stroke="#4a4a4a" stroke-width="1.2" />
<line x1="482.3" y1="230.38" x2="482.3" y2="256.52" stroke="#4a4a4a" stroke-width="1.0" />
<line x1="480.7" y1="230.38" x2="483.9" y2="230.38" stroke="#4a4a4a" stroke-width="1.2" />
<line x1="480.7" y1="256.52" x2="483.9" y2="256.52" stroke="#4a4a4a" stroke-width="1.2" />
<line x1="511" y1="233.62" x2="511" y2="255.18" stroke="#4a4a4a" stroke-width="1.0" />
<line x1="509.4" y1="233.62" x2="512.6" y2="233.62" stroke="#4a4a4a" stroke-width="1.2" />
<line x1="509.4" y1="255.18" x2="512.6" y2="255.18" stroke="#4a4a4a" stroke-width="1.2" />
<line x1="597.1" y1="227.52" x2="597.1" y2="247.36" stroke="#4a4a4a" stroke-width="1.0" />
<line x1="595.5" y1="227.52" x2="598.7" y2="227.52" stroke="#4a4a4a" stroke-width="1.2" />
<line x1="595.5" y1="247.36" x2="598.7" y2="247.36" stroke="#4a4a4a" stroke-width="1.2" />
<polyline points="460.78,255.18 467.95,244.88 482.3,243.45 511,244.4 597.1,237.44" stroke="#4a4a4a" stroke-width="1.1" fill="none" />
<polyline points="460.78,261.57 467.95,255.85 482.3,258.71 511,248.22 597.1,246.31" stroke="#5c1a78" stroke-width="1.1" fill="none" />
<circle cx="460.78" cy="261.57" r="2" stroke="#5c1a78" stroke-width="1.1" fill="#f6e6ff"/>
<circle cx="467.95" cy="255.85" r="2" stroke="#5c1a78" stroke-width="1.1" fill="#f6e6ff"/>
<circle cx="482.3" cy="258.71" r="2" stroke="#5c1a78" stroke-width="1.1" fill="#f6e6ff"/>
<circle cx="511" cy="248.22" r="2" stroke="#5c1a78" stroke-width="1.1" fill="#f6e6ff"/>
<circle cx="597.1" cy="246.31" r="2" stroke="#5c1a78" stroke-width="1.1" fill="#f6e6ff"/>
<circle cx="460.78" cy="255.18" r="2.2" stroke="#4a4a4a" stroke-width="1.1" fill="#e6e6e6"/>
<circle cx="467.95" cy="244.88" r="2.2" stroke="#4a4a4a" stroke-width="1.1" fill="#e6e6e6"/>
<circle cx="482.3" cy="243.45" r="2.2" stroke="#4a4a4a" stroke-width="1.1" fill="#e6e6e6"/>
<circle cx="511" cy="244.4" r="2.2" stroke="#4a4a4a" stroke-width="1.1" fill="#e6e6e6"/>
<circle cx="597.1" cy="237.44" r="2.2" stroke="#4a4a4a" stroke-width="1.1" fill="#e6e6e6"/>
<path d="M603.2,235.6 L608.6,235.6 L608.6,248.0 L603.2,248.0" stroke="#222" stroke-width="1.1" fill="none" />
<text transform="translate(613.6 246) scale(1 1.06)" font-size="12.0" text-anchor="start" font-weight="normal" font-style="normal" fill="#1a1a1a" >n.s.</text>
<line x1="570" y1="295.5" x2="590.8" y2="295.5" stroke="#4a4a4a" stroke-width="1.1" />
<circle cx="580.6" cy="295.5" r="2.2" stroke="#4a4a4a" stroke-width="1.1" fill="#e6e6e6"/>
<text transform="translate(603 299.9) scale(1 1.06)" font-size="10.5" text-anchor="start" font-weight="normal" font-style="normal" fill="#1a1a1a" >CTL</text>
<line x1="570" y1="315.8" x2="590.8" y2="315.8" stroke="#5c1a78" stroke-width="1.1" />
<circle cx="580.6" cy="315.8" r="2" stroke="#5c1a78" stroke-width="1.1" fill="#f6e6ff"/>
<text transform="translate(602.2 319.6) scale(1 1.06)" font-size="10.6" text-anchor="start" font-weight="normal" font-style="normal" fill="#1a1a1a" >cKO</text>
<polyline points="106,493.62 107,493.81 108,493.57 109,493.88 110,494 111,494.12 112,493.54 113,493.67 114,493.45 115,493.97 116,493.83 117,493.26 118,493.98 119,493.94 120,493.68 121,493.66 122,493.31 123,493.24 124,493.7 125,493.39 126,493.56 127,493.68 128,493.6 129,494.03 130,494.1 131,494.5 132,494.31 133,494.47 134,494.41 135,494.58 136,494.44 137,494.31 138,494.9 139,494.89 140,494.76 141,494.64 142,494.32 143,494.23 144,494.27 145,494.09 146,494.65 147,494.37 148,494.74 149,494.41 150,494.9 151,494.86 152,494.24 153,494.46 154,495.08 155,494.78 156,495.25 157,494.82 158,494.6 159,495.07 160,495.2 161,494.78 162,494.61 163,494.76 164,495.21 165,494.97 166,494.37 167,494.37 168,494.14 169,493.99 170,494.47 171,493.86 172,494.06 173,493.88 174,493.59 175,493.95 176,493.42 177,493.8 178,493.37 179,493.63 180,493.49 181,493.58 182,494.2 183,494.14 184,493.82 185,494.37" stroke="#767676" stroke-width="1.05" fill="none" stroke-linejoin="round"/>
<polyline points="99,492.4 99.5,448.2 99.95,495.2" stroke="#808080" stroke-width="0.85" fill="none" stroke-linejoin="round"/>
<polyline points="102.72,494.09 103.72,494.96 104.72,494.47 105.72,494.62 106.72,495.12 107.72,494.85 108.72,494.91 109.72,494.81 110.72,494.9 111.72,495.39 112.72,495.21 113.72,495.59 114.72,495.51 115.72,495.68 116.72,496.18 117.72,495.9 118.72,496.06 119.72,496.36 120.72,495.87 121.72,495.88 122.72,496.5 123.72,496.42 124.72,495.93 125.72,495.82 126.72,496.19 127.72,496.26 128.72,495.55 129.72,496.04 130.72,495.87 131.72,495.53 132.72,495.27 133.72,494.92 134.72,494.78 135.72,495.45 136.72,494.82 137.72,495.17 138.72,494.81 139.72,495.27 140.72,495.12 141.72,494.93 142.72,494.89 143.72,495.39 144.72,494.93 145.72,495.12 146.72,495.44 147.72,495.73 148.72,495.57 149.72,495.33 150.72,495.85 151.72,495.28 152.72,495.12 153.72,495.3 154.72,495.41 155.72,495.07 156.72,495.14 157.72,495.27 158.72,495.42 159.72,495.07 160.72,495.27 161.72,495.72 162.72,495.84 163.72,495.65 164.72,495.76 165.72,495.76 166.72,495.51 167.72,495.53 168.72,495.61 169.72,496.42 170.72,496.34 171.72,496.63 172.72,495.93 173.72,496.45 174.72,496.34 175.72,496.53 176.72,496.16 177.72,496.65 178.72,495.83 179.72,496.12 180.72,496.17 181.72,496.19 182.72,495.95" stroke="#767676" stroke-width="1.05" fill="none" stroke-linejoin="round"/>
<polyline points="95.6,493.61 96.1,449.3 96.55,496.41" stroke="#808080" stroke-width="0.85" fill="none" stroke-linejoin="round"/>
<polyline points="99.45,495.72 100.45,496.06 101.45,496.19 102.45,495.95 103.45,496.36 104.45,496.5 105.45,496.34 106.45,496.43 107.45,496.27 108.45,496.44 109.45,496.47 110.45,496.03 111.45,496.46 112.45,496.72 113.45,496.6 114.45,496.45 115.45,496.15 116.45,496.4 117.45,496.26 118.45,496.14 119.45,496.46 120.45,495.87 121.45,496.44 122.45,495.9 123.45,496.42 124.45,496.39 125.45,496.27 126.45,496.74 127.45,496.68 128.45,496.88 129.45,497.24 130.45,496.82 131.45,496.73 132.45,497.06 133.45,497.46 134.45,497.16 135.45,497.2 136.45,497.84 137.45,497.67 138.45,497.52 139.45,497.87 140.45,497.4 141.45,497.64 142.45,497.21 143.45,497.33 144.45,497.55 145.45,497.56 146.45,497.44 147.45,496.95 148.45,497.01 149.45,496.71 150.45,496.47 151.45,496.68 152.45,496.89 153.45,496.84 154.45,496.68 155.45,496.84 156.45,496.28 157.45,496.18 158.45,496.41 159.45,496.28 160.45,496.24 161.45,496.43 162.45,496.63 163.45,496.55 164.45,496.44 165.45,496.89 166.45,497.03 167.45,496.62 168.45,496.34 169.45,496.31 170.45,496.98 171.45,496.31 172.45,496.84 173.45,496.71 174.45,496.49 175.45,496.85 176.45,496.22 177.45,496.29 178.45,496.54 179.45,496.19" stroke="#767676" stroke-width="1.05" fill="none" stroke-linejoin="round"/>
<polyline points="91.7,494.83 92.2,451.8 92.65,497.63" stroke="#808080" stroke-width="0.85" fill="none" stroke-linejoin="round"/>
<polyline points="96.17,496.36 97.17,496.34 98.17,496.59 99.17,496.72 100.17,496.93 101.17,497.15 102.17,497.02 103.17,496.72 104.17,497.03 105.17,496.88 106.17,496.83 107.17,497.29 108.17,497.57 109.17,497.24 110.17,497.4 111.17,497.54 112.17,497.91 113.17,497.85 114.17,498 115.17,498.19 116.17,497.97 117.17,498.35 118.17,498.49 119.17,497.88 120.17,498.6 121.17,498.46 122.17,498.01 123.17,498.28 124.17,498.43 125.17,498.66 126.17,498.22 127.17,498.37 128.18,498.6 129.18,498.52 130.18,498.61 131.18,498.21 132.18,498.34 133.18,497.96 134.18,498.35 135.18,498.41 136.18,498.26 137.18,498.31 138.18,497.91 139.18,498.46 140.18,498.53 141.18,498.54 142.18,498.21 143.18,498.44 144.18,498.09 145.18,498.6 146.18,498.6 147.18,498.23 148.18,498.07 149.18,498.4 150.18,498.53 151.18,498.75 152.18,498.57 153.18,498.24 154.18,498.9 155.18,498.33 156.18,498.94 157.18,498.46 158.18,498.59 159.18,498.95 160.18,498.43 161.18,498.42 162.18,498.68 163.18,498.81 164.18,498.86 165.18,498.69 166.18,498.84 167.18,498.42 168.18,498.72 169.18,497.96 170.18,497.99 171.18,498.16 172.18,497.9 173.18,498.18 174.18,498.04 175.18,497.88 176.18,498.08 177.18,497.8" stroke="#767676" stroke-width="1.05" fill="none" stroke-linejoin="round"/>
<polyline points="87.7,496.06 88.2,454.5 88.65,498.86" stroke="#808080" stroke-width="0.85" fill="none" stroke-linejoin="round"/>
<polyline points="92.9,498.7 93.9,499.2 94.9,499.29 95.9,498.96 96.9,499.06 97.9,498.83 98.9,499.2 99.9,499.29 100.9,499.49 101.9,499.16 102.9,500.04 103.9,499.79 104.9,499.79 105.9,500.19 106.9,500.05 107.9,500.01 108.9,500.16 109.9,499.62 110.9,499.94 111.9,499.77 112.9,500.11 113.9,499.99 114.9,499.37 115.9,499.45 116.9,499.11 117.9,499.3 118.9,499.58 119.9,499.63 120.9,499.3 121.9,499.2 122.9,499.13 123.9,499.51 124.9,499.79 125.9,499.18 126.9,499.71 127.9,499.1 128.9,499.22 129.9,499.2 130.9,499.5 131.9,499.12 132.9,499.04 133.9,499.14 134.9,498.61 135.9,499.01 136.9,498.42 137.9,498.65 138.9,498.39 139.9,498.32 140.9,498.58 141.9,498.54 142.9,498.55 143.9,498.66 144.9,498.85 145.9,498.67 146.9,498.82 147.9,499.27 148.9,499.38 149.9,499.38 150.9,499.7 151.9,499.56 152.9,499.77 153.9,499.28 154.9,499.67 155.9,499.7 156.9,499.73 157.9,499.23 158.9,499.19 159.9,499.66 160.9,499.09 161.9,499.73 162.9,499.67 163.9,499.12 164.9,499.27 165.9,499.75 166.9,499.46 167.9,499.43 168.9,500.1 169.9,499.85 170.9,500.2 171.9,499.71 172.9,499.94 173.9,500.14 174.9,499.56" stroke="#767676" stroke-width="1.05" fill="none" stroke-linejoin="round"/>
<polyline points="89.62,498.1 90.62,498.71 91.62,499.21 92.62,499.29 93.62,499.69 94.62,499.53 95.62,499.63 96.62,499.83 97.62,499.9 98.62,500.41 99.62,500.44 100.62,500.52 101.62,500.19 102.62,500.22 103.62,500.23 104.62,500.73 105.62,500.85 106.62,500.82 107.62,500.19 108.62,500.21 109.62,500.99 110.62,500.68 111.62,501.02 112.62,500.77 113.62,500.98 114.62,501.1 115.62,501.1 116.62,501.28 117.62,500.83 118.62,501.37 119.62,501.44 120.62,500.83 121.62,500.95 122.62,501.06 123.62,500.66 124.62,500.36 125.62,500.2 126.62,500.36 127.62,499.87 128.62,500.49 129.62,500.37 130.62,500.27 131.62,500.4 132.62,500.24 133.62,500.1 134.62,500.31 135.62,500.29 136.62,500.73 137.62,500.63 138.62,500.22 139.62,500.75 140.62,500.6 141.62,500.6 142.62,500.58 143.62,500.19 144.62,500.52 145.62,500.44 146.62,500.24 147.62,500.26 148.62,500.24 149.62,499.96 150.62,500.25 151.62,499.79 152.62,500.1 153.62,500.32 154.62,500.08 155.62,500.5 156.62,500.86 157.62,500.98 158.62,500.78 159.62,501.44 160.62,501.28 161.62,501.06 162.62,501.32 163.62,501.23 164.62,501.15 165.62,500.97 166.62,501.38 167.62,501.02 168.62,500.99 169.62,500.97 170.62,501.1 171.62,500.3" stroke="#767676" stroke-width="1.05" fill="none" stroke-linejoin="round"/>
<polyline points="83.6,498.57 84.1,456.6 84.55,501.37" stroke="#808080" stroke-width="0.85" fill="none" stroke-linejoin="round"/>
<polyline points="86.35,499.68 87.35,499.92 88.35,500.17 89.35,500.05 90.35,500.27 91.35,500.89 92.35,500.7 93.35,500.76 94.35,501.23 95.35,501 96.35,501.44 97.35,501.25 98.35,501.47 99.35,500.97 100.35,501.46 101.35,501.66 102.35,501.14 103.35,501.89 104.35,501.3 105.35,501.57 106.35,501.33 107.35,501.58 108.35,501.65 109.35,501.18 110.35,501.86 111.35,501.39 112.35,501.44 113.35,501.45 114.35,501.23 115.35,501.13 116.35,501.4 117.35,501.31 118.35,501.09 119.35,501.45 120.35,501.14 121.35,500.96 122.35,501.2 123.35,501.1 124.35,501.27 125.35,501.83 126.35,501.63 127.35,502.13 128.35,502.11 129.35,501.64 130.35,502.47 131.35,502.52 132.35,501.89 133.35,502.61 134.35,502.27 135.35,502.33 136.35,502.74 137.35,502.16 138.35,502.37 139.35,502.68 140.35,502.47 141.35,502.23 142.35,502.59 143.35,502.42 144.35,502.2 145.35,501.77 146.35,502.14 147.35,501.98 148.35,501.76 149.35,501.63 150.35,502.01 151.35,501.7 152.35,501.98 153.35,502.2 154.35,502.07 155.35,501.96 156.35,502.27 157.35,502.19 158.35,502.53 159.35,502.37 160.35,502.78 161.35,502.78 162.35,502.62 163.35,502.22 164.35,502.11 165.35,502.71 166.35,502.58 167.35,502.4 168.35,502.12 169.35,501.97" stroke="#767676" stroke-width="1.05" fill="none" stroke-linejoin="round"/>
<polyline points="79.7,499.84 80.2,457.2 80.65,502.64" stroke="#808080" stroke-width="0.85" fill="none" stroke-linejoin="round"/>
<polyline points="83.08,502.77 84.08,502.38 85.08,502.51 86.08,503.19 87.08,503.25 88.08,503.33 89.08,502.77 90.08,502.9 91.08,503.17 92.08,503.38 93.08,503.62 94.08,503.25 95.08,503.64 96.08,503.29 97.08,503.3 98.08,503.75 99.08,503.62 100.08,503.64 101.08,503.39 102.08,503.42 103.08,503.16 104.08,503.22 105.08,503.51 106.08,503.56 107.08,502.94 108.08,502.98 109.08,503.55 110.08,503.43 111.08,503.59 112.08,503.19 113.08,503.41 114.08,503.33 115.08,503.82 116.08,503.5 117.08,503.76 118.08,504.04 119.08,503.5 120.08,503.65 121.08,503.77 122.08,503.84 123.08,503.37 124.08,503.22 125.08,502.9 126.08,503.41 127.08,502.66 128.07,502.55 129.07,502.83 130.07,502.68 131.07,502.76 132.07,502.39 133.07,502.74 134.07,502.16 135.07,502.27 136.07,502.65 137.07,502.22 138.07,502.45 139.07,502.85 140.07,502.89 141.07,502.62 142.07,502.57 143.07,502.8 144.07,503.14 145.07,502.88 146.07,502.7 147.07,503.18 148.07,503.06 149.07,503.31 150.07,503.3 151.07,503.24 152.07,502.82 153.07,503.07 154.07,502.64 155.07,502.63 156.07,502.68 157.07,503.11 158.07,503.1 159.07,502.62 160.07,502.77 161.07,502.85 162.07,502.94 163.07,503.06 164.07,503.16 165.07,503.12 166.07,503.52 167.07,503.8" stroke="#767676" stroke-width="1.05" fill="none" stroke-linejoin="round"/>
<polyline points="79.8,502.43 80.8,502.77 81.8,502.53 82.8,502.54 83.8,503.12 84.8,503.31 85.8,503.47 86.8,503.9 87.8,503.75 88.8,503.95 89.8,503.41 90.8,503.85 91.8,504.08 92.8,503.54 93.8,503.55 94.8,504.09 95.8,504.23 96.8,503.59 97.8,504.04 98.8,503.67 99.8,504.17 100.8,504.11 101.8,503.82 102.8,503.84 103.8,504.32 104.8,504.18 105.8,504.44 106.8,504.21 107.8,504.24 108.8,504.82 109.8,504.66 110.8,504.6 111.8,504.72 112.8,504.95 113.8,505.02 114.8,505.26 115.8,504.92 116.8,505.31 117.8,505.23 118.8,505.41 119.8,505.4 120.8,505.44 121.8,505.48 122.8,505.52 123.8,505.24 124.8,505.11 125.8,505.21 126.8,505.22 127.8,504.85 128.8,504.77 129.8,504.47 130.8,504.86 131.8,504.98 132.8,504.4 133.8,504.15 134.8,504.1 135.8,504.2 136.8,504.03 137.8,504.51 138.8,503.73 139.8,503.89 140.8,503.71 141.8,504.11 142.8,504.21 143.8,503.73 144.8,503.64 145.8,503.97 146.8,504.09 147.8,504.38 148.8,503.71 149.8,503.8 150.8,503.89 151.8,503.95 152.8,503.99 153.8,504.4 154.8,504.33 155.8,504.05 156.8,504.03 157.8,504.11 158.8,504.02 159.8,504.49 160.8,504.12 161.8,504.29 162.8,504.49 163.8,504.2" stroke="#767676" stroke-width="1.05" fill="none" stroke-linejoin="round"/>
<polyline points="75.5,502.43 76,459.3 76.45,505.23" stroke="#808080" stroke-width="0.85" fill="none" stroke-linejoin="round"/>
<polyline points="76.53,505.67 77.53,505.94 78.53,505.49 79.53,505.21 80.53,505 81.53,505.65 82.53,505.48 83.53,505.09 84.53,505.16 85.53,505.12 86.53,504.92 87.53,505.49 88.53,505.24 89.53,504.93 90.53,504.8 91.53,505.23 92.53,505.23 93.53,505.66 94.53,505.69 95.53,505.71 96.53,505.46 97.53,505.57 98.53,505.81 99.53,505.87 100.53,506.45 101.53,506.26 102.53,506.43 103.53,506.77 104.53,506.23 105.53,506.47 106.53,506.17 107.53,506.66 108.53,506.02 109.53,506.63 110.53,506.6 111.53,506.51 112.53,505.85 113.53,505.92 114.53,506.19 115.53,505.62 116.53,505.84 117.53,505.75 118.53,506.07 119.53,505.71 120.53,505.88 121.53,505.39 122.53,505.74 123.53,505.42 124.53,505.81 125.53,505.15 126.53,505.74 127.53,505.26 128.53,505.54 129.53,505.54 130.53,505.27 131.53,505.83 132.53,505.43 133.53,505.44 134.53,505.26 135.53,505.44 136.53,505.57 137.53,505.75 138.53,505.45 139.53,505.69 140.53,505.2 141.53,505.4 142.53,505.43 143.53,505.8 144.53,505.67 145.53,505.51 146.53,504.99 147.53,505.27 148.53,505.55 149.53,505.19 150.53,505.48 151.53,505.44 152.53,505.13 153.53,505.98 154.53,505.9 155.53,505.51 156.53,505.93 157.53,505.76 158.53,505.92 159.53,506.14 160.53,506.04 161.53,506.15" stroke="#767676" stroke-width="1.05" fill="none" stroke-linejoin="round"/>
<polyline points="73.25,505.48 74.25,504.92 75.25,505.54 76.25,505.47 77.25,505.86 78.25,505.8 79.25,506.43 80.25,506.05 81.25,506.29 82.25,506.42 83.25,507.04 84.25,507.2 85.25,506.89 86.25,507.17 87.25,507.59 88.25,507.45 89.25,507.09 90.25,507.23 91.25,507.18 92.25,507.14 93.25,507.35 94.25,507.05 95.25,507.68 96.25,507.23 97.25,507.23 98.25,507.27 99.25,507.29 100.25,507.26 101.25,506.84 102.25,506.73 103.25,506.73 104.25,506.35 105.25,506.6 106.25,506.8 107.25,506.99 108.25,506.81 109.25,506.69 110.25,506.65 111.25,506.18 112.25,506.44 113.25,506.47 114.25,506.75 115.25,506.35 116.25,506.6 117.25,506.74 118.25,507 119.25,507.07 120.25,506.93 121.25,506.6 122.25,507.1 123.25,507.23 124.25,506.96 125.25,506.8 126.25,506.91 127.25,506.61 128.25,507.05 129.25,507.24 130.25,506.84 131.25,506.96 132.25,507.02 133.25,506.47 134.25,507.03 135.25,506.74 136.25,506.37 137.25,506.25 138.25,506.36 139.25,506.61 140.25,506.71 141.25,506.43 142.25,506.92 143.25,506.5 144.25,506.62 145.25,506.4 146.25,507.14 147.25,506.54 148.25,507.23 149.25,507.02 150.25,507.11 151.25,507.2 152.25,507.04 153.25,507.64 154.25,507.78 155.25,507.72 156.25,507.61 157.25,507.28 158.25,507.89 159.25,507.5" stroke="#767676" stroke-width="1.05" fill="none" stroke-linejoin="round"/>
<polyline points="71.5,505.07 72,460.7 72.45,507.87" stroke="#868686" stroke-width="0.85" fill="none" stroke-linejoin="round"/>
<polyline points="69.97,506.06 70.97,506.38 71.97,506.17 72.97,506.32 73.97,506.61 74.97,507.41 75.97,507.5 76.97,507.39 77.97,507.22 78.97,507.63 79.97,507.8 80.97,507.64 81.97,507.94 82.97,508.26 83.97,507.78 84.97,508.08 85.97,508.45 86.97,508.33 87.97,508.65 88.97,508.91 89.97,508.68 90.97,509.02 91.97,508.85 92.97,509.1 93.97,508.89 94.97,509.09 95.97,508.54 96.97,508.97 97.97,508.47 98.97,509.03 99.97,508.66 100.97,508.48 101.97,508.38 102.97,508.51 103.97,508.54 104.97,508.6 105.97,508.61 106.97,508.43 107.97,508.87 108.97,508.79 109.97,508.85 110.97,508.53 111.97,508.57 112.97,508.68 113.97,508.94 114.97,508.6 115.97,508.54 116.97,508.39 117.97,508.68 118.97,508.11 119.97,507.78 120.97,508.21 121.97,508.24 122.97,508.02 123.97,507.84 124.97,507.91 125.97,507.53 126.97,507.76 127.97,507.36 128.97,507.46 129.97,507.78 130.97,507.91 131.97,507.91 132.97,507.73 133.97,508.33 134.97,508.28 135.97,508.11 136.97,508.21 137.97,508.31 138.97,508.19 139.97,508.05 140.97,508.7 141.97,508.71 142.97,508.42 143.97,508.54 144.97,508.15 145.97,508.43 146.97,507.95 147.97,508.38 148.97,508.26 149.97,508.58 150.97,508.01 151.97,508.66 152.97,508.23 153.97,508.67 154.97,509.11 155.97,508.46" stroke="#767676" stroke-width="1.05" fill="none" stroke-linejoin="round"/>
<polyline points="67.5,506.41 68,462.5 68.45,509.21" stroke="#8c8c8c" stroke-width="0.85" fill="none" stroke-linejoin="round"/>
<polyline points="66.7,510.12 67.7,510.13 68.7,509.88 69.7,509.92 70.7,510.18 71.7,509.81 72.7,509.86 73.7,510.61 74.7,510.18 75.7,510.37 76.7,510.75 77.7,510.8 78.7,510.41 79.7,510.2 80.7,510.26 81.7,510.75 82.7,510.7 83.7,510.11 84.7,510.58 85.7,510.15 86.7,510.2 87.7,509.91 88.7,510.43 89.7,510.47 90.7,509.79 91.7,510.09 92.7,509.69 93.7,510.21 94.7,509.51 95.7,509.52 96.7,509.99 97.7,509.65 98.7,510.1 99.7,510.07 100.7,509.95 101.7,509.49 102.7,509.94 103.7,510.15 104.7,509.77 105.7,509.49 106.7,509.62 107.7,509.7 108.7,510.04 109.7,509.64 110.7,509.63 111.7,509.68 112.7,510.02 113.7,510.11 114.7,509.77 115.7,509.98 116.7,510.13 117.7,509.86 118.7,509.53 119.7,509.54 120.7,510 121.7,509.73 122.7,509.37 123.7,509.6 124.7,509.1 125.7,509.76 126.7,509.26 127.7,509.28 128.7,509.23 129.7,508.8 130.7,509.2 131.7,508.92 132.7,508.87 133.7,509.3 134.7,508.72 135.7,508.89 136.7,509.28 137.7,508.9 138.7,508.96 139.7,509.22 140.7,508.98 141.7,509.61 142.7,509.74 143.7,509.05 144.7,509.47 145.7,509.77 146.7,509.56 147.7,510.07 148.7,509.81 149.7,509.62 150.7,509.99 151.7,510.13 152.7,509.96 153.7,510.25" stroke="#767676" stroke-width="1.05" fill="none" stroke-linejoin="round"/>
<polyline points="63.42,511.22 64.42,510.23 65.42,509.35 66.42,508.43 67.42,508.93 68.42,508.55 69.42,509.03 70.42,508.87 71.42,509.17 72.42,509.56 73.42,509.71 74.42,509.86 75.42,509.57 76.42,509.93 77.42,509.88 78.42,510.34 79.42,510.44 80.42,510.23 81.42,510.82 82.42,511.04 83.42,511.04 84.42,511.36 85.42,510.86 86.42,510.87 87.42,510.77 88.42,511.15 89.42,511.08 90.42,511.05 91.42,510.87 92.42,511.27 93.42,510.67 94.42,511.34 95.42,511.08 96.42,511.1 97.42,511.35 98.42,510.98 99.42,510.99 100.42,511.23 101.42,511.12 102.42,511.44 103.42,511.78 104.42,511.79 105.42,511.64 106.42,511.94 107.42,511.56 108.42,512.13 109.42,511.58 110.42,511.59 111.42,511.44 112.42,511.77 113.42,511.78 114.42,511.65 115.42,510.98 116.42,511.17 117.42,511.07 118.42,510.9 119.42,511.48 120.42,510.73 121.42,511.1 122.42,511.34 123.42,511.56 124.42,510.93 125.42,511.22 126.42,511.49 127.42,510.95 128.43,511.13 129.43,511.64 130.43,511 131.43,511.15 132.43,511 133.43,511.01 134.43,510.63 135.43,510.49 136.43,511.15 137.43,510.86 138.43,510.75 139.43,510.27 140.43,510.24 141.43,510.46 142.43,510.21 143.43,510.41 144.43,510.84 145.43,510.45 146.43,510.51 147.43,511.11 148.43,510.91 149.43,510.54 150.43,510.9 151.43,511.16" stroke="#767676" stroke-width="1.05" fill="none" stroke-linejoin="round"/>
<polyline points="63.6,509.15 64.1,466.4 64.55,511.95" stroke="#929292" stroke-width="0.85" fill="none" stroke-linejoin="round"/>
<polyline points="60.15,512.25 61.15,511.18 62.15,510.64 63.15,510.76 64.15,511.4 65.15,511.3 66.15,511.86 67.15,511.6 68.15,511.85 69.15,511.83 70.15,512.2 71.15,511.93 72.15,512 73.15,512.03 74.15,512.25 75.15,512.15 76.15,512.29 77.15,512.78 78.15,512.58 79.15,512.8 80.15,512.35 81.15,512.58 82.15,512.41 83.15,512.98 84.15,512.78 85.15,512.75 86.15,512.57 87.15,512.7 88.15,512.74 89.15,512.79 90.15,513.14 91.15,512.87 92.15,512.4 93.15,512.35 94.15,512.06 95.15,512.57 96.15,512.01 97.15,512.24 98.15,512.14 99.15,512.25 100.15,511.52 101.15,511.77 102.15,511.86 103.15,511.67 104.15,512.37 105.15,512 106.15,512.42 107.15,512.29 108.15,511.97 109.15,512.29 110.15,512.18 111.15,512.03 112.15,512.1 113.15,512.43 114.15,511.93 115.15,512.1 116.15,512.14 117.15,512.19 118.15,511.83 119.15,512.26 120.15,511.91 121.15,512.3 122.15,512.3 123.15,511.96 124.15,512.1 125.15,512.27 126.15,512.73 127.15,512.61 128.15,512.72 129.15,513.22 130.15,512.81 131.15,512.94 132.15,513.04 133.15,512.96 134.15,512.83 135.15,512.79 136.15,513.23 137.15,513.12 138.15,513.24 139.15,513.29 140.15,512.67 141.15,512.9 142.15,513.04 143.15,512.44 144.15,512.79 145.15,512.77 146.15,513.01 147.15,512.97 148.15,512.5 149.15,512.87" stroke="#767676" stroke-width="1.05" fill="none" stroke-linejoin="round"/>
<polyline points="59.5,510.53 60,469.5 60.45,513.33" stroke="#989898" stroke-width="0.85" fill="none" stroke-linejoin="round"/>
<polyline points="56.88,513.18 57.88,513.18 58.88,513.37 59.88,513.26 60.88,513.22 61.88,513.49 62.88,513.61 63.88,513.44 64.88,513.91 65.88,513.64 66.88,513.58 67.88,513.85 68.88,513.97 69.88,513.8 70.88,514.19 71.88,514.33 72.88,514.24 73.88,514.38 74.88,513.86 75.88,514.16 76.88,514.15 77.88,513.9 78.88,514.17 79.88,513.88 80.88,514.21 81.88,514.27 82.88,514.15 83.88,514.02 84.88,513.94 85.88,513.74 86.88,513.98 87.88,514.4 88.88,514.13 89.88,513.88 90.88,514.21 91.88,513.83 92.88,514.06 93.88,514.19 94.88,514.48 95.88,514.03 96.88,514.23 97.88,514.55 98.88,514.44 99.88,514.36 100.88,514.38 101.88,514.25 102.88,514.28 103.88,514.19 104.88,514.65 105.88,514.7 106.88,514.31 107.88,514.73 108.88,514.03 109.88,514.09 110.88,514.36 111.88,514.17 112.88,514.17 113.88,514.61 114.88,513.9 115.88,513.87 116.88,513.83 117.88,514.12 118.88,513.69 119.88,513.42 120.88,513.78 121.88,513.58 122.88,513.38 123.88,513.51 124.88,513.57 125.88,513.43 126.88,513.43 127.88,513.34 128.88,513.52 129.88,513.6 130.88,513.07 131.88,513.07 132.88,513.51 133.88,513.06 134.88,513.41 135.88,513.42 136.88,513.45 137.88,513.72 138.88,513.66 139.88,513.19 140.88,513.62 141.88,513.58 142.88,513.71 143.88,513.62 144.88,513.61 145.88,514.05" stroke="#767676" stroke-width="1.05" fill="none" stroke-linejoin="round"/>
<polyline points="53.6,515.26 54.6,515.6 55.6,515.37 56.6,514.29 57.6,513.47 58.6,513.44 59.6,514.12 60.6,513.9 61.6,514.43 62.6,514.92 63.6,514.88 64.6,514.78 65.6,515.47 66.6,515.57 67.6,514.98 68.6,515.18 69.6,515.4 70.6,515.64 71.6,515.31 72.6,515.55 73.6,515.15 74.6,515.49 75.6,515.15 76.6,515.13 77.6,515.45 78.6,515.5 79.6,515.48 80.6,515.28 81.6,515.17 82.6,515.41 83.6,515.37 84.6,515.56 85.6,515.57 86.6,515.07 87.6,515.3 88.6,515.57 89.6,515.25 90.6,515.24 91.6,515.12 92.6,515.58 93.6,515.86 94.6,515.87 95.6,515.18 96.6,515.59 97.6,515.33 98.6,515.44 99.6,515.19 100.6,515.54 101.6,515.51 102.6,514.68 103.6,515.14 104.6,514.58 105.6,514.45 106.6,514.58 107.6,514.89 108.6,515.05 109.6,514.32 110.6,514.47 111.6,514.23 112.6,514.65 113.6,514.63 114.6,514.57 115.6,514.57 116.6,515.02 117.6,515.11 118.6,514.74 119.6,514.89 120.6,515.15 121.6,515.33 122.6,515.57 123.6,515.16 124.6,515.45 125.6,515.38 126.6,515.61 127.6,515.11 128.6,515.14 129.6,515.09 130.6,515.74 131.6,515.18 132.6,515.35 133.6,515.03 134.6,515.16 135.6,514.89 136.6,515.3 137.6,514.94 138.6,515.31 139.6,515.02 140.6,514.98 141.6,515.19 142.6,515.12 143.6,515.07" stroke="#767676" stroke-width="1.05" fill="none" stroke-linejoin="round"/>
<polyline points="55.6,513.35 56.1,471.4 56.55,516.15" stroke="#9e9e9e" stroke-width="0.85" fill="none" stroke-linejoin="round"/>
<polyline points="50.33,516.09 51.33,516.19 52.33,515.66 53.33,514.97 54.33,514.17 55.33,514.87 56.33,514.83 57.33,515.08 58.33,515.68 59.33,515.62 60.33,515.6 61.33,516.23 62.33,516.52 63.33,516.68 64.33,516.57 65.33,517.24 66.33,517.3 67.33,517.5 68.33,517.13 69.33,517.49 70.33,517.43 71.33,516.99 72.33,516.85 73.33,516.93 74.33,516.83 75.33,516.73 76.33,516.88 77.33,517.11 78.33,516.66 79.33,516.72 80.33,516.23 81.33,516.29 82.33,516.81 83.33,515.97 84.33,516.32 85.33,516.49 86.33,516.44 87.33,516.37 88.33,516.09 89.33,516.41 90.33,516.45 91.33,516.43 92.33,516.64 93.33,515.98 94.33,516.71 95.33,516.33 96.33,516.64 97.33,516.33 98.33,516.92 99.33,516.27 100.33,516.76 101.33,516.52 102.33,516.69 103.33,516.7 104.33,516.96 105.33,517.09 106.33,516.74 107.33,516.96 108.33,516.73 109.33,516.67 110.33,517.16 111.33,516.68 112.33,516.49 113.33,516.68 114.33,517.01 115.33,516.59 116.33,517.03 117.33,516.89 118.33,517.02 119.33,516.65 120.33,516.63 121.33,516.71 122.33,516.92 123.33,517.03 124.33,516.74 125.33,517.18 126.33,517.15 127.33,517.12 128.32,517.32 129.32,517.67 130.32,517.08 131.32,517.61 132.32,517.14 133.32,517.46 134.32,516.89 135.32,517.54 136.32,517.02 137.32,517.36 138.32,516.68 139.32,516.73 140.32,516.87 141.32,516.34" stroke="#767676" stroke-width="1.05" fill="none" stroke-linejoin="round"/>
<polyline points="51.5,514.79 52,475 52.45,517.59" stroke="#a5a5a5" stroke-width="0.85" fill="none" stroke-linejoin="round"/>
<polyline points="47.05,518.59 48.05,518.78 49.05,518 50.05,516.61 51.05,516.94 52.05,516.88 53.05,517.28 54.05,517.1 55.05,517.57 56.05,517.89 57.05,517.94 58.05,517.8 59.05,517.73 60.05,517.79 61.05,517.42 62.05,517.99 63.05,517.86 64.05,517.65 65.05,517.81 66.05,517.6 67.05,517.57 68.05,517.45 69.05,517.75 70.05,517.75 71.05,517.72 72.05,517.37 73.05,517.88 74.05,517.77 75.05,517.93 76.05,517.97 77.05,518.28 78.05,517.69 79.05,517.98 80.05,518.43 81.05,518.24 82.05,517.92 83.05,518.27 84.05,518.47 85.05,518 86.05,518.36 87.05,517.76 88.05,518.44 89.05,518.03 90.05,517.81 91.05,518.29 92.05,518.13 93.05,518.37 94.05,518.29 95.05,518.29 96.05,518.09 97.05,518.52 98.05,517.82 99.05,518.52 100.05,518.46 101.05,518.16 102.05,518.68 103.05,518.48 104.05,518.62 105.05,518.95 106.05,518.48 107.05,518.61 108.05,518.95 109.05,518.53 110.05,518.94 111.05,519.13 112.05,518.89 113.05,518.66 114.05,519.07 115.05,519.05 116.05,518.91 117.05,518.65 118.05,518.84 119.05,518.65 120.05,518.03 121.05,518.09 122.05,517.77 123.05,517.61 124.05,517.75 125.05,518.08 126.05,517.97 127.05,517.33 128.05,517.33 129.05,517.46 130.05,517.81 131.05,517.62 132.05,517.87 133.05,517.23 134.05,518.01 135.05,517.44 136.05,517.85 137.05,518.12 138.05,518.08" stroke="#767676" stroke-width="1.05" fill="none" stroke-linejoin="round"/>
<polyline points="47.9,516.23 48.4,477.3 48.85,519.03" stroke="#aaaaaa" stroke-width="0.85" fill="none" stroke-linejoin="round"/>
<polyline points="43.78,518.82 44.78,518.8 45.78,519.06 46.78,518.8 47.78,519.09 48.78,519.2 49.78,518.84 50.78,518.85 51.78,519.36 52.78,519.24 53.78,519.04 54.78,519.11 55.78,519.84 56.78,519.65 57.78,519.53 58.78,519.47 59.78,520.18 60.78,520 61.78,520.1 62.78,519.86 63.78,519.87 64.78,519.99 65.78,519.81 66.78,520.23 67.78,520.08 68.78,520.41 69.78,520.09 70.78,520.13 71.78,520.16 72.78,520.49 73.78,520 74.78,520.26 75.78,519.86 76.78,520.11 77.78,519.84 78.78,520.28 79.78,519.79 80.78,520.21 81.78,520.04 82.78,519.84 83.78,520.21 84.78,519.75 85.78,520.03 86.78,519.9 87.78,519.78 88.78,519.47 89.78,519.76 90.78,519.66 91.78,519.79 92.78,520.22 93.78,519.7 94.78,520.04 95.78,520.03 96.78,519.71 97.78,519.85 98.78,519.64 99.78,520.25 100.78,519.74 101.78,519.87 102.78,519.8 103.78,520.17 104.78,520.17 105.78,519.94 106.78,519.87 107.78,519.47 108.78,520.07 109.78,519.37 110.78,519.54 111.78,519.49 112.78,519.71 113.78,519.61 114.78,519.28 115.78,519.66 116.78,519.64 117.78,518.84 118.78,519.28 119.78,519.1 120.78,518.97 121.78,519.01 122.78,518.87 123.78,519.13 124.78,519.06 125.78,519.35 126.78,519.36 127.78,519.39 128.78,518.94 129.78,519.32 130.78,519.22 131.78,519.32 132.78,519.61 133.78,518.93 134.78,519.32 135.78,519.35" stroke="#767676" stroke-width="1.05" fill="none" stroke-linejoin="round"/>
<polyline points="40.5,521.47 41.5,520.09 42.5,519.28 43.5,519.33 44.5,518.83 45.5,519 46.5,519.5 47.5,519.58 48.5,519.76 49.5,519.45 50.5,519.96 51.5,519.96 52.5,520.05 53.5,519.59 54.5,519.93 55.5,519.64 56.5,520.39 57.5,520.54 58.5,520.59 59.5,519.99 60.5,520.35 61.5,520.6 62.5,520.71 63.5,520.48 64.5,521.12 65.5,520.84 66.5,521.1 67.5,520.88 68.5,521.32 69.5,521.05 70.5,521.08 71.5,521.47 72.5,521.34 73.5,521.76 74.5,521.36 75.5,521.5 76.5,521.21 77.5,521.34 78.5,521.51 79.5,521.57 80.5,521.46 81.5,521.75 82.5,521.12 83.5,521.68 84.5,521.09 85.5,521.71 86.5,521.33 87.5,521.21 88.5,521.35 89.5,521.54 90.5,521.6 91.5,521.15 92.5,520.83 93.5,520.94 94.5,521.47 95.5,521.4 96.5,521.39 97.5,520.94 98.5,521.24 99.5,520.84 100.5,520.89 101.5,521.03 102.5,521.55 103.5,521.27 104.5,521.41 105.5,520.73 106.5,520.99 107.5,520.68 108.5,520.79 109.5,520.62 110.5,521.22 111.5,520.71 112.5,520.8 113.5,520.89 114.5,521.05 115.5,521.07 116.5,520.75 117.5,520.69 118.5,521.02 119.5,520.62 120.5,520.58 121.5,520.97 122.5,520.63 123.5,520.78 124.5,520.9 125.5,521.01 126.5,521 127.5,521.15 128.5,521.26 129.5,521.03 130.5,521.75 131.5,521.22 132.5,521.68 133.5,521.76" stroke="#767676" stroke-width="1.05" fill="none" stroke-linejoin="round"/>
<polyline points="40.5,519.18 41,481 41.45,521.98" stroke="#b6b6b6" stroke-width="0.85" fill="none" stroke-linejoin="round"/>
<polyline points="37.23,520.3 38.23,520.11 39.23,519.93 40.23,520.49 41.23,520.45 42.23,520.22 43.23,520.69 44.23,521.27 45.23,520.63 46.23,521.23 47.23,521.64 48.23,521.28 49.23,521.59 50.23,521.53 51.23,521.6 52.23,521.97 53.23,522.08 54.23,521.98 55.23,522.24 56.23,522.36 57.23,522.66 58.23,522.19 59.23,522.3 60.23,522.49 61.23,522.56 62.23,523.02 63.23,522.75 64.22,523.11 65.22,522.75 66.22,522.64 67.22,522.94 68.22,522.44 69.22,523.12 70.22,522.97 71.22,522.53 72.22,522.5 73.22,522.88 74.22,522.84 75.22,522.72 76.22,522.25 77.22,522.84 78.22,522.29 79.22,522.79 80.22,522.79 81.22,523.15 82.22,522.98 83.22,522.56 84.22,523.36 85.22,523.29 86.22,523.23 87.22,522.84 88.22,523.48 89.22,523.28 90.22,523.52 91.22,523.79 92.22,523.75 93.22,523.08 94.22,523.63 95.22,523.32 96.22,523.53 97.22,523.18 98.22,523.18 99.22,523.1 100.22,522.78 101.22,522.87 102.22,523.13 103.22,522.53 104.22,522.51 105.22,523.04 106.22,522.86 107.22,522.74 108.22,522.37 109.22,522.37 110.22,522.53 111.22,523.06 112.22,522.77 113.22,523.09 114.22,522.55 115.22,522.75 116.22,522.89 117.22,523.16 118.22,522.62 119.22,523.24 120.22,522.93 121.22,522.58 122.22,522.89 123.22,522.83 124.22,523.03 125.22,523.19 126.22,522.78 127.22,522.87 128.22,522.55 129.22,522.78 130.22,522.16" stroke="#767676" stroke-width="1.05" fill="none" stroke-linejoin="round"/>
<polyline points="35.5,520.67 36,481.2 36.45,523.47" stroke="#bebebe" stroke-width="0.85" fill="none" stroke-linejoin="round"/>
<polyline points="33.95,524.74 34.95,524.63 35.95,524.8 36.95,525 37.95,524.93 38.95,524.81 39.95,524.93 40.95,525.1 41.95,524.65 42.95,524.77 43.95,524.61 44.95,524.93 45.95,524.32 46.95,524.53 47.95,524.07 48.95,524 49.95,524.29 50.95,524.08 51.95,523.75 52.95,523.53 53.95,524.08 54.95,523.68 55.95,523.91 56.95,523.66 57.95,523.79 58.95,523.74 59.95,524.08 60.95,524.04 61.95,523.7 62.95,523.75 63.95,523.58 64.95,524.03 65.95,523.55 66.95,523.75 67.95,524.22 68.95,523.6 69.95,524.16 70.95,524.08 71.95,524.08 72.95,523.92 73.95,523.78 74.95,524.42 75.95,524.26 76.95,524.29 77.95,523.71 78.95,524.24 79.95,523.77 80.95,523.73 81.95,523.98 82.95,524.03 83.95,523.62 84.95,524.13 85.95,523.99 86.95,524.25 87.95,524.29 88.95,524.13 89.95,523.9 90.95,524.41 91.95,524.28 92.95,523.99 93.95,524.51 94.95,524.48 95.95,524.18 96.95,524.25 97.95,524.14 98.95,524.63 99.95,524.47 100.95,524.57 101.95,524.59 102.95,524.54 103.95,524.86 104.95,524.72 105.95,524.74 106.95,524.74 107.95,524.91 108.95,525.18 109.95,524.57 110.95,525.08 111.95,525.01 112.95,524.75 113.95,524.62 114.95,524.68 115.95,524.44 116.95,524.44 117.95,524.56 118.95,524.36 119.95,523.86 120.95,523.62 121.95,524.25 122.95,523.73 123.95,524.01 124.95,523.53 125.95,523.67 126.95,523.58 127.95,523.86" stroke="#767676" stroke-width="1.05" fill="none" stroke-linejoin="round"/>
<polyline points="30.68,525.82 31.68,526.3 32.67,525.54 33.67,526.11 34.67,525.8 35.67,525.25 36.67,525.85 37.67,525.15 38.67,525.48 39.67,525.09 40.67,525.76 41.67,525.21 42.67,525.66 43.67,525.02 44.67,525.52 45.67,525.07 46.67,525.07 47.67,525.53 48.67,525.89 49.67,525.68 50.67,525.83 51.67,525.79 52.67,525.59 53.67,525.24 54.67,525.59 55.67,525.3 56.67,525.54 57.67,525.37 58.67,525.45 59.67,525.17 60.67,525.53 61.67,525.26 62.67,525.27 63.67,524.91 64.67,525.21 65.67,525.24 66.67,525.57 67.67,525.24 68.67,524.92 69.67,525.08 70.67,525.15 71.67,525.5 72.67,525.76 73.67,525.87 74.67,525.93 75.67,526.01 76.67,526.05 77.67,526.21 78.67,525.58 79.67,526.05 80.67,526.21 81.67,526.37 82.67,526.37 83.67,526.43 84.67,526.72 85.67,526.07 86.67,526.42 87.67,526.76 88.67,526 89.67,526.03 90.67,526.59 91.67,526.61 92.67,525.8 93.67,525.74 94.67,526.31 95.67,526.13 96.67,525.93 97.67,525.92 98.67,526.01 99.67,526 100.67,525.32 101.67,525.35 102.67,525.91 103.67,526.05 104.67,525.94 105.67,525.61 106.67,525.57 107.67,525.6 108.67,525.35 109.67,525.97 110.67,525.59 111.67,525.86 112.67,525.81 113.67,525.66 114.67,525.92 115.67,525.72 116.67,525.52 117.67,525.99 118.67,525.38 119.67,525.3 120.67,525.32 121.67,525.43 122.67,525.6 123.67,525.17 124.67,525.02 125.67,525.29" stroke="#767676" stroke-width="1.05" fill="none" stroke-linejoin="round"/>
<polyline points="27.4,526.55 28.4,526.57 29.4,526.63 30.4,526.68 31.4,527.05 32.4,527.06 33.4,527.21 34.4,527.07 35.4,526.76 36.4,527.34 37.4,526.95 38.4,526.93 39.4,527.06 40.4,527.48 41.4,526.93 42.4,526.84 43.4,527.2 44.4,527.18 45.4,526.61 46.4,526.34 47.4,526.8 48.4,526.76 49.4,526.39 50.4,526.77 51.4,526.48 52.4,526.47 53.4,526.79 54.4,527.01 55.4,526.9 56.4,527.27 57.4,526.73 58.4,527.2 59.4,527.17 60.4,526.97 61.4,527.67 62.4,527.06 63.4,527.09 64.4,527.6 65.4,527.62 66.4,527.54 67.4,527.01 68.4,527.44 69.4,526.77 70.4,527.21 71.4,527.4 72.4,526.83 73.4,526.83 74.4,527.34 75.4,527.59 76.4,527.57 77.4,527.85 78.4,527.56 79.4,527.6 80.4,527.49 81.4,527.68 82.4,528.26 83.4,527.59 84.4,527.68 85.4,527.79 86.4,527.5 87.4,527.64 88.4,527.47 89.4,527.34 90.4,527.59 91.4,527.53 92.4,527.5 93.4,527.62 94.4,527.42 95.4,527.76 96.4,527.1 97.4,527.25 98.4,527.2 99.4,527.45 100.4,527.88 101.4,528.07 102.4,527.79 103.4,527.55 104.4,527.7 105.4,527.88 106.4,527.62 107.4,527.96 108.4,528.03 109.4,527.52 110.4,527.53 111.4,527.61 112.4,527.19 113.4,526.87 114.4,527.38 115.4,527.34 116.4,526.53 117.4,527.09 118.4,526.8 119.4,526.54 120.4,526.67 121.4,526.73 122.4,527.24" stroke="#767676" stroke-width="1.05" fill="none" stroke-linejoin="round"/>
<polyline points="24.12,529.02 25.12,529.19 26.12,529.07 27.12,528.85 28.12,528.71 29.12,528.92 30.12,528.66 31.12,528.76 32.12,528.96 33.12,528.66 34.12,528.64 35.12,528.65 36.12,528.3 37.12,528.24 38.12,528.59 39.12,528.29 40.12,528.12 41.12,528.21 42.12,528.16 43.12,528.09 44.12,528.6 45.12,528.12 46.12,528.75 47.12,528.75 48.12,528.84 49.12,528.32 50.12,528.64 51.12,529.05 52.12,528.5 53.12,528.39 54.12,528.8 55.12,528.36 56.12,528.58 57.12,528.17 58.12,528.73 59.12,528.14 60.12,527.93 61.12,528.36 62.12,528.07 63.12,528.23 64.12,528.21 65.12,528.59 66.12,528.33 67.12,528.31 68.12,528.1 69.12,528.6 70.12,528.53 71.12,528.88 72.12,529.02 73.12,528.96 74.12,528.73 75.12,529.09 76.12,529.1 77.12,529.23 78.12,529.47 79.12,528.89 80.12,528.97 81.12,528.63 82.12,529.15 83.12,528.65 84.12,529.09 85.12,529.04 86.12,528.61 87.12,529.14 88.12,528.86 89.12,528.86 90.12,529.03 91.12,529.43 92.12,529.16 93.12,529.25 94.12,529.18 95.12,529.7 96.12,529.5 97.12,529.41 98.12,529.32 99.12,529.33 100.12,529.8 101.12,529.73 102.12,529.81 103.12,529.68 104.12,529.41 105.12,529.41 106.12,529.26 107.12,529.26 108.12,529.18 109.12,528.64 110.12,529.12 111.12,528.7 112.12,528.67 113.12,529.23 114.12,528.56 115.12,529 116.12,528.92 117.12,529.33 118.12,529.23 119.12,529.51 120.12,529.54" stroke="#767676" stroke-width="1.05" fill="none" stroke-linejoin="round"/>
<polyline points="20.85,530.48 21.85,530.4 22.85,529.97 23.85,529.89 24.85,530.33 25.85,530.42 26.85,530.64 27.85,530.41 28.85,530.07 29.85,530.61 30.85,530.14 31.85,530.86 32.85,530.85 33.85,530.94 34.85,531.08 35.85,530.9 36.85,531.26 37.85,531.07 38.85,531 39.85,530.96 40.85,530.96 41.85,530.71 42.85,530.83 43.85,531.34 44.85,530.86 45.85,531.18 46.85,531.23 47.85,531.12 48.85,530.91 49.85,530.68 50.85,530.57 51.85,530.42 52.85,530.7 53.85,530.64 54.85,530.75 55.85,530.17 56.85,530.55 57.85,530.46 58.85,529.88 59.85,530.33 60.85,530 61.85,530.22 62.85,530.03 63.85,529.64 64.85,529.57 65.85,529.76 66.85,529.73 67.85,529.38 68.85,530.06 69.85,529.83 70.85,529.82 71.85,530.08 72.85,529.73 73.85,529.75 74.85,530.11 75.85,529.9 76.85,530.03 77.85,529.89 78.85,529.93 79.85,530.23 80.85,530.41 81.85,530.79 82.85,530.59 83.85,530.44 84.85,530.46 85.85,530.34 86.85,530.54 87.85,530.94 88.85,530.27 89.85,530.52 90.85,530.72 91.85,530.77 92.85,530.59 93.85,530.65 94.85,530.88 95.85,530.84 96.85,530.31 97.85,530.54 98.85,530.91 99.85,530.53 100.85,530.27 101.85,530.74 102.85,530.19 103.85,530.29 104.85,530.63 105.85,530.44 106.85,530.82 107.85,530.86 108.85,530.56 109.85,530.95 110.85,530.88 111.85,530.95 112.85,530.76 113.85,530.76 114.85,530.5 115.85,530.79 116.85,531.17 117.85,531.1" stroke="#767676" stroke-width="1.05" fill="none" stroke-linejoin="round"/>
<polyline points="17.57,532.09 18.57,531.87 19.57,532.15 20.57,532.32 21.57,532.51 22.57,532.31 23.57,532.57 24.57,532.65 25.57,532.65 26.57,532.23 27.57,532.78 28.57,532.32 29.57,532.24 30.57,532.53 31.57,532.11 32.58,532.07 33.58,532.24 34.58,532.2 35.58,531.8 36.58,532.38 37.58,532.2 38.58,531.82 39.58,531.82 40.58,531.55 41.58,532.04 42.58,531.33 43.58,531.48 44.58,531.43 45.58,531.97 46.58,531.73 47.58,531.7 48.58,531.74 49.58,532.17 50.58,531.71 51.58,532.16 52.58,532.11 53.58,531.89 54.58,531.81 55.58,531.82 56.58,531.78 57.58,531.6 58.58,531.77 59.58,531.52 60.58,531.35 61.58,531.65 62.58,531.32 63.58,531.28 64.58,531.57 65.58,531.21 66.58,531.15 67.58,531.59 68.58,531.7 69.58,531.61 70.58,531.38 71.58,531.68 72.58,531.83 73.58,531.57 74.58,532 75.58,532.27 76.58,532.1 77.58,532.16 78.58,532.01 79.58,532.21 80.58,531.86 81.58,532.28 82.58,532.07 83.58,532.38 84.58,531.83 85.58,532.08 86.58,531.48 87.58,531.77 88.58,532.03 89.58,531.62 90.58,531.92 91.58,531.63 92.58,531.83 93.58,532.37 94.58,531.81 95.58,532.48 96.58,531.89 97.58,532.41 98.58,532.69 99.58,532.79 100.58,532.51 101.58,532.73 102.58,532.86 103.58,532.92 104.58,532.9 105.58,532.74 106.58,532.44 107.58,532.74 108.58,532.56 109.58,532.47 110.58,532.74 111.58,531.99 112.58,532.44 113.58,532.02 114.58,532.3 115.58,532.45" stroke="#767676" stroke-width="1.05" fill="none" stroke-linejoin="round"/>
<polyline points="14.3,533.55 15.3,533.94 16.3,534.16 17.3,533.97 18.3,533.65 19.3,534.03 20.3,533.67 21.3,533.39 22.3,533.69 23.3,533.49 24.3,533.46 25.3,533.73 26.3,533.3 27.3,533.52 28.3,532.95 29.3,533.2 30.3,532.6 31.3,532.73 32.3,533.02 33.3,533 34.3,533.12 35.3,532.79 36.3,532.75 37.3,532.87 38.3,533.09 39.3,532.75 40.3,533.12 41.3,533.43 42.3,533.11 43.3,533.32 44.3,533.85 45.3,533.96 46.3,533.47 47.3,533.45 48.3,533.43 49.3,533.41 50.3,533.98 51.3,533.93 52.3,533.53 53.3,533.68 54.3,533.82 55.3,533.26 56.3,533.87 57.3,533.88 58.3,533.35 59.3,533.74 60.3,533.75 61.3,533.48 62.3,533.95 63.3,533.47 64.3,533.74 65.3,533.68 66.3,533.85 67.3,534.22 68.3,534.11 69.3,534.21 70.3,534.58 71.3,534.02 72.3,534.06 73.3,534.41 74.3,534.04 75.3,534.68 76.3,534.16 77.3,534.19 78.3,534.12 79.3,534.37 80.3,534.35 81.3,534.06 82.3,533.56 83.3,533.61 84.3,533.79 85.3,533.3 86.3,533.75 87.3,533.67 88.3,533.1 89.3,533.16 90.3,533.02 91.3,533.4 92.3,532.86 93.3,533.39 94.3,532.91 95.3,533.56 96.3,533.36 97.3,533.43 98.3,533.08 99.3,533.07 100.3,533.34 101.3,533.86 102.3,533.56 103.3,533.76 104.3,533.1 105.3,533.1 106.3,533 107.3,533.49 108.3,533.02 109.3,533.04 110.3,533.3 111.3,533.27 112.3,532.93" stroke="#767676" stroke-width="1.05" fill="none" stroke-linejoin="round"/>
<polyline points="264,488 265,487.87 266,487.94 267,487.67 268,487.74 269,487.95 270,487.83 271,488.05 272,487.8 273,487.91 274,488.42 275,488.29 276,488.43 277,488.66 278,488.47 279,488.33 280,488.9 281,488.83 282,488.93 283,488.95 284,489.24 285,488.85 286,489.15 287,488.89 288,489.05 289,489.11 290,488.86 291,488.69 292,488.95 293,489.09 294,488.98 295,488.85 296,488.96 297,488.61 298,488.57 299,488.65 300,488.96 301,488.5 302,488.42 303,488.39 304,488.34 305,488.49 306,488.68 307,488.85 308,488.5 309,488.52 310,488.47 311,488.47 312,488.8 313,488.64 314,488.43 315,488.32 316,488.79 317,488.72 318,488.8 319,488.37 320,488.56 321,488.8 322,488.54 323,488.76 324,488.19 325,488.72 326,488.04 327,488.08 328,487.72 329,488.17 330,487.79 331,487.81 332,487.27 333,486.84 334,486.08 335,485.79 336,484.85 337,483.59 338,482.78 339,480.57 340,478.32 341,481.74 342,480.27 343,477.83 344,481.38 345,479.33 346,482.54 347,487.23 348,487.24 349,486.59 350,486.32 351,485.8 352,484.47 353,489.14 354,489.51 355,489.22 356,489.17 357,489.56 358,489.5 359,489.54 360,489.36 361,489.13 362,489.27" stroke="#460a62" stroke-width="1.15" fill="none" stroke-linejoin="round"/>
<polyline points="340,483.6 340.5,441 340.95,486.4" stroke="#460a62" stroke-width="0.85" fill="none" stroke-linejoin="round"/>
<polyline points="343.2,483.6 343.7,442.4 344.15,486.4" stroke="#460a62" stroke-width="0.85" fill="none" stroke-linejoin="round"/>
<polyline points="344.9,483.6 345.4,443 345.85,486.4" stroke="#460a62" stroke-width="0.85" fill="none" stroke-linejoin="round"/>
<polyline points="345.9,483.6 346.4,444 346.85,486.4" stroke="#460a62" stroke-width="0.85" fill="none" stroke-linejoin="round"/>
<polyline points="352.3,483.6 352.8,439.5 353.25,486.4" stroke="#460a62" stroke-width="0.85" fill="none" stroke-linejoin="round"/>
<polyline points="261.52,489.27 262.52,489.5 263.52,489.33 264.52,489.33 265.52,489.53 266.52,489.05 267.52,489.45 268.52,489.28 269.52,489.48 270.52,489.72 271.52,489.36 272.52,489.9 273.52,489.34 274.52,489.72 275.52,489.74 276.52,489.55 277.52,489.8 278.52,489.75 279.52,489.73 280.52,489.91 281.52,489.4 282.52,489.64 283.52,489.89 284.52,489.41 285.52,489.88 286.52,489.37 287.52,489.67 288.52,489.28 289.52,489.45 290.52,489.41 291.52,489.16 292.52,489.59 293.52,489.45 294.52,489.61 295.52,489.54 296.52,489.6 297.52,489.63 298.52,489.54 299.52,490.03 300.52,489.55 301.52,490.18 302.52,490.26 303.52,490.09 304.52,490.37 305.52,490.38 306.52,490.41 307.52,490.25 308.52,490.15 309.52,490.16 310.52,490.1 311.52,490.29 312.52,489.7 313.52,489.51 314.52,489.25 315.52,489.15 316.52,488.44 317.52,487.87 318.52,486.88 319.52,485.91 320.52,484.52 321.52,483.01 322.52,486.81 323.52,486.27 324.52,484.83 325.52,489.79 326.52,490.01 327.52,489.77 328.52,490.08 329.52,490 330.52,490.31 331.52,489.91 332.52,490.36 333.52,489.97 334.52,490.52 335.52,490.31 336.52,489.93 337.52,490.5 338.52,490.15 339.52,490.22 340.52,490.08 341.52,490.56 342.52,490.02 343.52,490.44 344.52,490.16 345.52,490.31 346.52,489.98 347.52,489.76 348.52,490.27 349.52,490 350.52,489.58 351.52,490.06 352.52,489.93 353.52,489.33 354.52,489.14 355.52,489.49 356.52,489.1 357.52,489.47 358.52,489.25 359.52,489.4 360.52,489.29" stroke="#460a62" stroke-width="1.15" fill="none" stroke-linejoin="round"/>
<polyline points="321.8,484.91 322.3,448.2 322.75,487.71" stroke="#460a62" stroke-width="0.85" fill="none" stroke-linejoin="round"/>
<polyline points="324.2,484.91 324.7,441 325.15,487.71" stroke="#460a62" stroke-width="0.85" fill="none" stroke-linejoin="round"/>
<polyline points="259.03,490.65 260.03,490.45 261.03,490.37 262.03,490.88 263.03,490.41 264.03,490.58 265.03,490.52 266.03,490.78 267.03,490.77 268.03,491.05 269.03,490.82 270.03,490.82 271.03,491.08 272.03,491.19 273.03,491.36 274.03,490.95 275.03,491.37 276.03,491.43 277.03,491.42 278.03,490.8 279.03,490.94 280.03,491.18 281.03,491.18 282.03,490.59 283.03,490.81 284.03,491.01 285.03,491.03 286.03,490.88 287.03,490.67 288.03,490.85 289.03,490.66 290.03,490.91 291.03,491.08 292.03,491.45 293.03,491.39 294.03,491.38 295.03,491.36 296.03,491.51 297.03,491.85 298.03,491.77 299.03,491.64 300.03,492.14 301.03,491.99 302.03,492.27 303.03,491.95 304.03,491.97 305.03,491.78 306.03,491.84 307.03,491.99 308.03,491.95 309.03,491.64 310.03,491.4 311.03,491.08 312.03,491.56 313.03,491.19 314.03,491.15 315.03,490.9 316.03,490.88 317.03,491.13 318.03,491.56 319.03,491.42 320.03,491.42 321.03,491.43 322.03,491.18 323.03,491.13 324.03,491.44 325.03,491.07 326.03,491.42 327.03,491.34 328.03,491.32 329.03,490.97 330.03,490.86 331.03,491.06 332.03,490.74 333.03,490.99 334.03,490.67 335.03,490.8 336.03,490.81 337.03,490.64 338.03,490.54 339.03,490.27 340.03,490.37 341.03,490.82 342.03,490.35 343.03,490.41 344.03,490.62 345.03,490.74 346.03,491 347.03,490.75 348.03,491.31 349.03,490.75 350.03,491.38 351.03,491.31 352.03,491.61 353.03,491.14 354.03,491.56 355.03,491.76 356.03,491.57 357.03,491.18 358.03,491.72" stroke="#460a62" stroke-width="1.15" fill="none" stroke-linejoin="round"/>
<polyline points="256.55,492.28 257.55,492.74 258.55,492.65 259.55,492.78 260.55,492.53 261.55,492.42 262.55,492.24 263.55,492.44 264.55,492.72 265.55,492.48 266.55,492.64 267.55,492.17 268.55,492.55 269.55,492.55 270.55,492.1 271.55,492.63 272.55,492.18 273.55,492.21 274.55,491.8 275.55,491.16 276.55,490.56 277.55,491.19 278.55,490.65 279.55,491.36 280.55,491.47 281.55,491.46 282.55,491.57 283.55,491.82 284.55,491.78 285.55,491.5 286.55,492.02 287.55,491.76 288.55,491.97 289.55,491.97 290.55,492.28 291.55,491.99 292.55,492.34 293.55,491.85 294.55,492.07 295.55,492.37 296.55,492.39 297.55,492.6 298.55,492.23 299.55,492.72 300.55,492.78 301.55,492.4 302.55,492.47 303.55,492.85 304.55,493.19 305.55,493.01 306.55,492.94 307.55,493.05 308.55,493.3 309.55,493.14 310.55,493.18 311.55,493.24 312.55,493.48 313.55,493.38 314.55,493.39 315.55,492.97 316.55,493.16 317.55,493.27 318.55,493.13 319.55,493.23 320.55,493.12 321.55,492.49 322.55,492.67 323.55,492.47 324.55,492.27 325.55,492.38 326.55,492.63 327.55,492.39 328.55,491.84 329.55,491.86 330.55,491.88 331.55,492.18 332.55,491.84 333.55,491.59 334.55,491.84 335.55,491.62 336.55,491.48 337.55,491.88 338.55,492.19 339.55,492.08 340.55,492.1 341.55,491.76 342.55,492.11 343.55,492.24 344.55,492.41 345.55,492.28 346.55,492.09 347.55,492.8 348.55,492.42 349.55,492.84 350.55,492.73 351.55,493.02 352.55,492.78 353.55,492.67 354.55,492.96 355.55,493.04" stroke="#460a62" stroke-width="1.15" fill="none" stroke-linejoin="round"/>
<polyline points="273.9,490.55 274.4,441.3 274.85,493.35" stroke="#460a62" stroke-width="0.85" fill="none" stroke-linejoin="round"/>
<polyline points="254.07,493.32 255.07,492.92 256.07,493.43 257.07,493.5 258.07,492.9 259.07,493.54 260.07,493.55 261.07,493.56 262.07,493.23 263.07,493.75 264.07,493.86 265.07,493.84 266.07,494.15 267.07,494.2 268.07,494.04 269.07,494.29 270.07,493.78 271.07,493.91 272.07,494.09 273.07,494.09 274.07,494.38 275.07,494.15 276.07,494.12 277.07,494.1 278.07,494.31 279.07,493.91 280.07,494.13 281.07,494.02 282.07,493.88 283.07,493.84 284.07,493.72 285.07,493.64 286.07,493.9 287.07,493.92 288.07,493.81 289.07,494.15 290.07,494.11 291.07,494.56 292.07,494.52 293.07,494.49 294.07,494.66 295.07,494.29 296.07,494.2 297.07,494.56 298.07,494.29 299.07,494.8 300.07,494.37 301.07,494.65 302.07,494.14 303.07,493.95 304.07,494.24 305.07,494.19 306.07,493.78 307.07,494.15 308.07,494.08 309.07,493.77 310.07,493.88 311.07,493.8 312.07,493.14 313.07,493.48 314.07,493.44 315.07,493.4 316.07,493.11 317.07,493.25 318.07,493.29 319.07,493.5 320.07,492.98 321.07,493.26 322.07,493.27 323.07,493.67 324.07,493.26 325.07,493.29 326.07,493.39 327.07,493.45 328.07,493.73 329.07,494.07 330.07,493.75 331.07,493.6 332.07,494.01 333.07,493.78 334.07,493.95 335.07,494.06 336.07,493.84 337.07,494.02 338.07,493.92 339.07,494.07 340.07,493.99 341.07,494.08 342.07,493.97 343.07,493.65 344.07,493.82 345.07,494.04 346.07,494.08 347.07,494.09 348.07,494.23 349.07,494.28 350.07,494.15 351.07,494.29 352.07,493.94 353.07,494.32 354.07,494.56" stroke="#460a62" stroke-width="1.15" fill="none" stroke-linejoin="round"/>
<polyline points="251.59,496.15 252.59,496.01 253.59,495.69 254.59,495.58 255.59,496.16 256.59,495.92 257.59,495.56 258.59,496.13 259.59,495.79 260.59,495.86 261.59,495.83 262.59,495.39 263.59,495.51 264.59,495.21 265.59,495.47 266.59,495.29 267.59,495.5 268.59,494.99 269.59,495.03 270.59,494.46 271.59,493.4 272.59,493.55 273.59,494.03 274.59,494.12 275.59,493.82 276.59,494.45 277.59,494.18 278.59,494.32 279.59,494.72 280.59,494.59 281.59,494.61 282.59,494.6 283.59,494.72 284.59,494.77 285.59,495.3 286.59,494.7 287.59,495.04 288.59,494.79 289.59,495.12 290.59,494.58 291.59,494.8 292.59,495 293.59,494.45 294.59,494.66 295.59,494.55 296.59,494.61 297.59,494.66 298.59,494.24 299.59,494.76 300.59,494.32 301.59,494.66 302.59,494.22 303.59,494.2 304.59,494.3 305.59,494.26 306.59,494.43 307.59,494.41 308.59,494.45 309.59,495.06 310.59,494.92 311.59,494.98 312.59,495.08 313.59,495.38 314.59,494.93 315.59,495.01 316.59,495.52 317.59,495.12 318.59,495.53 319.59,495.66 320.59,495.86 321.59,495.29 322.59,495.59 323.59,495.53 324.59,495.72 325.59,495.32 326.59,495.81 327.59,495.92 328.59,495.61 329.59,495.66 330.59,495.74 331.59,495.72 332.59,495.67 333.59,495.41 334.59,495.11 335.59,495.59 336.59,495.62 337.59,495.51 338.59,495.25 339.59,495.73 340.59,495.5 341.59,495.31 342.59,495.67 343.59,495.31 344.59,495.35 345.59,495.85 346.59,495.29 347.59,495.89 348.59,495.58 349.59,495.72 350.59,495.81 351.59,495.95" stroke="#460a62" stroke-width="1.15" fill="none" stroke-linejoin="round"/>
<polyline points="269.7,493.22 270.2,443 270.65,496.02" stroke="#460a62" stroke-width="0.85" fill="none" stroke-linejoin="round"/>
<polyline points="249.1,496.42 250.1,496.14 251.1,496.05 252.1,496.31 253.1,495.88 254.1,495.96 255.1,495.98 256.1,495.71 257.1,496.16 258.1,496.18 259.1,495.54 260.1,496.06 261.1,495.62 262.1,496.01 263.1,495.56 264.1,496.07 265.1,496.25 266.1,495.83 267.1,495.83 268.1,496.03 269.1,496.48 270.1,496.51 271.1,496.16 272.1,496.77 273.1,496.74 274.1,496.98 275.1,497.07 276.1,496.57 277.1,497.03 278.1,496.59 279.1,496.75 280.1,497.03 281.1,496.84 282.1,496.84 283.1,496.94 284.1,497 285.1,497.3 286.1,497.04 287.1,497 288.1,497.08 289.1,496.68 290.1,497.07 291.1,497.01 292.1,497.02 293.1,496.73 294.1,496.78 295.1,496.43 296.1,496.7 297.1,496.82 298.1,497.04 299.1,497.02 300.1,496.64 301.1,496.96 302.1,497.05 303.1,497.15 304.1,496.98 305.1,496.76 306.1,497.17 307.1,496.59 308.1,496.99 309.1,496.92 310.1,497.21 311.1,497.02 312.1,496.7 313.1,496.65 314.1,496.52 315.1,496.97 316.1,496.93 317.1,496.57 318.1,496.39 319.1,496.55 320.1,496.21 321.1,496.36 322.1,496.15 323.1,496.05 324.1,496.23 325.1,495.85 326.1,495.85 327.1,495.96 328.1,496.18 329.1,495.6 330.1,495.69 331.1,495.67 332.1,495.71 333.1,495.86 334.1,496.13 335.1,495.73 336.1,496.16 337.1,496.03 338.1,496.2 339.1,496.22 340.1,496.37 341.1,496.16 342.1,496.54 343.1,496.47 344.1,496.8 345.1,496.73 346.1,496.66 347.1,497.11 348.1,496.58 349.1,496.5 350.1,496.59" stroke="#460a62" stroke-width="1.15" fill="none" stroke-linejoin="round"/>
<polyline points="246.62,497.4 247.62,497.56 248.62,497.08 249.62,497.31 250.62,497.66 251.62,497.43 252.62,497.17 253.62,497.51 254.62,497.27 255.62,497.45 256.62,497.14 257.62,497.2 258.62,497.47 259.62,497.56 260.62,497.58 261.62,497.27 262.62,497.12 263.62,496.16 264.62,495.99 265.62,496.07 266.62,496.33 267.62,495.19 268.62,495.38 269.62,495.44 270.62,496.27 271.62,496.56 272.62,496.49 273.62,497.37 274.62,497.64 275.62,497.67 276.62,497.88 277.62,497.94 278.62,497.57 279.62,497.83 280.62,497.86 281.62,497.75 282.62,498.2 283.62,498.17 284.62,498 285.62,498.08 286.62,497.64 287.62,497.58 288.62,497.34 289.62,497.27 290.62,497.53 291.62,497.06 292.62,496.97 293.62,496.74 294.62,496.2 295.62,495.5 296.62,495.3 297.62,493.9 298.62,493.14 299.62,497.88 300.62,497.74 301.62,497.51 302.62,497.85 303.62,497.81 304.62,497.8 305.62,497.5 306.62,497.81 307.62,497.81 308.62,497.96 309.62,497.75 310.62,498.05 311.62,497.92 312.62,497.57 313.62,497.84 314.62,497.57 315.62,497.87 316.62,497.66 317.62,498.12 318.62,497.66 319.62,497.96 320.62,497.98 321.62,497.64 322.62,497.78 323.62,497.52 324.62,497.62 325.62,497.66 326.62,497.85 327.62,497.71 328.62,497.47 329.62,497.83 330.62,497.76 331.62,497.79 332.62,497.77 333.62,498.11 334.62,498 335.62,498.06 336.62,498 337.62,497.99 338.62,498.07 339.62,498.31 340.62,498.21 341.62,498.01 342.62,498.17 343.62,498.11 344.62,498.16 345.62,498.42 346.62,498.46 347.62,498.54" stroke="#460a62" stroke-width="1.15" fill="none" stroke-linejoin="round"/>
<polyline points="261.9,495.94 262.4,448 262.85,498.74" stroke="#460a62" stroke-width="0.85" fill="none" stroke-linejoin="round"/>
<polyline points="265.9,495.94 266.4,445 266.85,498.74" stroke="#460a62" stroke-width="0.85" fill="none" stroke-linejoin="round"/>
<polyline points="299,492.94 299.5,468.7 299.95,495.74" stroke="#460a62" stroke-width="0.85" fill="none" stroke-linejoin="round"/>
<polyline points="244.14,502.19 245.14,502.33 246.14,502.51 247.14,502.02 248.14,502 249.14,502.31 250.14,502.64 251.14,502.48 252.14,502.32 253.14,502.77 254.14,502.58 255.14,502.7 256.14,502.72 257.14,502.15 258.14,502.26 259.14,502.66 260.14,502.35 261.14,502.67 262.14,502.04 263.14,502.59 264.14,502.31 265.14,502.09 266.14,502.31 267.14,502.03 268.14,501.9 269.14,501.63 270.14,501.98 271.14,501.47 272.14,501.53 273.14,501.33 274.14,501.25 275.14,501.43 276.14,501.25 277.14,501.55 278.14,501.49 279.14,501.3 280.14,501.66 281.14,501.59 282.14,501.62 283.14,501.92 284.14,501.85 285.14,501.74 286.14,502.44 287.14,502.56 288.14,502.12 289.14,502.49 290.14,502.51 291.14,502.33 292.14,502.58 293.14,502.43 294.14,502.46 295.14,502.6 296.14,502.32 297.14,502.44 298.14,502.96 299.14,502.79 300.14,502.46 301.14,502.9 302.14,502.4 303.14,502.74 304.14,502.34 305.14,502.72 306.14,502.4 307.14,502.69 308.14,502.17 309.14,502.36 310.14,502.35 311.14,502.68 312.14,502.77 313.14,502.3 314.14,502.53 315.14,502.41 316.14,502.39 317.14,502.48 318.14,502.48 319.14,502.68 320.14,502.8 321.14,503.16 322.14,503 323.14,503.07 324.14,502.76 325.14,502.73 326.14,502.76 327.14,502.58 328.14,502.37 329.14,502.48 330.14,502.86 331.14,502.16 332.14,502.38 333.14,502.1 334.14,502.37 335.14,501.77 336.14,502.02 337.14,502.09 338.14,501.83 339.14,501.55 340.14,502.02 341.14,501.38 342.14,501.99 343.14,501.9 344.14,501.95 345.14,501.95" stroke="#460a62" stroke-width="1.15" fill="none" stroke-linejoin="round"/>
<polyline points="241.66,503.15 242.66,503.46 243.66,503.08 244.66,503.27 245.66,502.96 246.66,502.99 247.66,503.61 248.66,503.29 249.66,503.35 250.66,503.82 251.66,503.67 252.66,503.29 253.66,503.58 254.66,503.53 255.66,503.6 256.66,503.34 257.66,503.3 258.66,503.24 259.66,502.01 260.66,501.73 261.66,501.84 262.66,501.99 263.66,501.71 264.66,502.25 265.66,502.17 266.66,502.06 267.66,502.31 268.66,502.91 269.66,502.95 270.66,503.13 271.66,503 272.66,503.25 273.66,503.23 274.66,503.61 275.66,503.62 276.66,503.62 277.66,504.17 278.66,503.94 279.66,503.7 280.66,504.3 281.66,503.84 282.66,503.99 283.66,504.11 284.66,503.93 285.66,504.07 286.66,504.02 287.66,504.04 288.66,504.08 289.66,504.06 290.66,503.57 291.66,503.67 292.66,503.56 293.66,503.71 294.66,503.8 295.66,504.09 296.66,503.54 297.66,504.13 298.66,503.72 299.66,504.19 300.66,504.32 301.66,504.46 302.66,504.22 303.66,503.89 304.66,504.07 305.66,504.18 306.66,504.33 307.66,504.51 308.66,504.39 309.66,503.76 310.66,503.72 311.66,503.99 312.66,503.58 313.66,503.74 314.66,503.58 315.66,503.5 316.66,503.26 317.66,503.57 318.66,503.07 319.66,503.06 320.66,502.89 321.66,502.96 322.66,502.85 323.66,503.22 324.66,502.82 325.66,503.02 326.66,503.47 327.66,503.56 328.66,503.26 329.66,503.59 330.66,503.69 331.66,503.61 332.66,503.62 333.66,503.72 334.66,503.42 335.66,503.41 336.66,503.33 337.66,503.27 338.66,503.43 339.66,503.4 340.66,503.11 341.66,502.99 342.66,502.91 343.66,503.02" stroke="#460a62" stroke-width="1.15" fill="none" stroke-linejoin="round"/>
<polyline points="257.9,501.69 258.4,470.5 258.85,504.49" stroke="#460a62" stroke-width="0.85" fill="none" stroke-linejoin="round"/>
<polyline points="239.17,505.83 240.17,505.62 241.17,505.31 242.17,505.71 243.17,505.65 244.17,505.13 245.17,505.17 246.17,505.36 247.17,505.31 248.17,504.87 249.17,504.98 250.17,504.95 251.17,505.04 252.17,505.23 253.17,504.76 254.17,504.93 255.17,505.33 256.17,504.83 257.17,504.85 258.17,505.3 259.17,505.19 260.17,505.09 261.17,505.07 262.17,504.78 263.17,505.15 264.17,504.84 265.17,504.91 266.17,505.19 267.17,504.81 268.17,504.67 269.17,504.56 270.17,504.45 271.17,504.61 272.17,504.63 273.17,504.17 274.17,504.06 275.17,504.33 276.17,504.18 277.17,504.52 278.17,504.27 279.17,504.58 280.17,504.64 281.17,505.09 282.17,504.74 283.17,504.82 284.17,504.99 285.17,505.33 286.17,505.14 287.17,505.24 288.17,505.65 289.17,505.59 290.17,505.32 291.17,505.89 292.17,505.4 293.17,505.52 294.17,505.67 295.17,505.57 296.17,505.74 297.17,505.26 298.17,505.55 299.17,505.16 300.17,505.06 301.17,505.42 302.17,505.43 303.17,504.93 304.17,504.85 305.17,504.96 306.17,505.22 307.17,504.85 308.17,505.51 309.17,504.88 310.17,505.41 311.17,505.48 312.17,505.21 313.17,505.52 314.17,505.08 315.17,505.49 316.17,505.33 317.17,505.49 318.17,505.4 319.17,505.34 320.17,505.32 321.17,504.8 322.17,504.56 323.17,504.56 324.17,504.87 325.17,504.62 326.17,504.52 327.17,504.43 328.17,504.07 329.17,504.66 330.17,504.39 331.17,504.4 332.17,504.36 333.17,504.68 334.17,504.45 335.17,504.57 336.17,504.84 337.17,504.49 338.17,505.07 339.17,505.04 340.17,504.94 341.17,504.92" stroke="#460a62" stroke-width="1.15" fill="none" stroke-linejoin="round"/>
<polyline points="236.69,506.73 237.69,506.76 238.69,506.6 239.69,506.31 240.69,506.65 241.69,506.18 242.69,506.22 243.69,506.41 244.69,506.61 245.69,506.26 246.69,506.29 247.69,506.96 248.69,506.36 249.69,506.89 250.69,506.71 251.69,507.04 252.69,506.93 253.69,506.59 254.69,506.04 255.69,505.17 256.69,504.59 257.69,504.39 258.69,505.13 259.69,504.89 260.69,505.14 261.69,505.04 262.69,504.8 263.69,504.91 264.69,505.11 265.69,505.73 266.69,505.74 267.69,505.49 268.69,505.72 269.69,506.2 270.69,505.98 271.69,505.94 272.69,506.15 273.69,505.95 274.69,506.25 275.69,505.9 276.69,506.19 277.69,505.86 278.69,505.75 279.69,506.18 280.69,505.93 281.69,505.62 282.69,505.73 283.69,506.02 284.69,505.63 285.69,505.56 286.69,505.72 287.69,506.05 288.69,505.91 289.69,505.89 290.69,506.08 291.69,505.99 292.69,506.49 293.69,506.12 294.69,506.16 295.69,506.41 296.69,506.67 297.69,506.68 298.69,506.6 299.69,506.12 300.69,506.64 301.69,506.67 302.69,506.06 303.69,506.05 304.69,506.01 305.69,505.9 306.69,505.88 307.69,506.11 308.69,506.25 309.69,506.12 310.69,506.22 311.69,506.4 312.69,506.58 313.69,506.78 314.69,506.7 315.69,506.65 316.69,506.44 317.69,506.69 318.69,506.69 319.69,507.28 320.69,507.14 321.69,506.72 322.69,506.85 323.69,506.87 324.69,506.96 325.69,507.14 326.69,506.63 327.69,506.82 328.69,506.57 329.69,506.87 330.69,506.57 331.69,506.75 332.69,506.64 333.69,506.77 334.69,506.86 335.69,506.67 336.69,506.8 337.69,507.01 338.69,507.16" stroke="#460a62" stroke-width="1.15" fill="none" stroke-linejoin="round"/>
<polyline points="253.9,504.48 254.4,469.5 254.85,507.28" stroke="#460a62" stroke-width="0.85" fill="none" stroke-linejoin="round"/>
<polyline points="234.21,507.07 235.21,507.06 236.21,506.92 237.21,506.98 238.21,507.11 239.21,507.14 240.21,507.42 241.21,507.92 242.21,507.6 243.21,508.03 244.21,507.94 245.21,508.16 246.21,508.01 247.21,508.26 248.21,508.17 249.21,507.66 250.21,507.59 251.21,506.98 252.21,506.21 253.21,506.43 254.21,506.75 255.21,506.91 256.21,506.72 257.21,506.71 258.21,507.01 259.21,507.21 260.21,506.9 261.21,507.52 262.21,507.08 263.21,507.47 264.21,507.91 265.21,508.07 266.21,508.17 267.21,508.3 268.21,508.12 269.21,508.21 270.21,508.34 271.21,508.44 272.21,508.29 273.21,508.44 274.21,508.54 275.21,508.22 276.21,508.58 277.21,508.19 278.21,508.49 279.21,508.07 280.21,508.08 281.21,508.18 282.21,508.31 283.21,508.38 284.21,508.14 285.21,508.09 286.21,507.76 287.21,507.76 288.21,507.73 289.21,508 290.21,507.9 291.21,507.32 292.21,507.8 293.21,507.84 294.21,507.99 295.21,508.05 296.21,507.71 297.21,507.75 298.21,507.65 299.21,507.64 300.21,508.12 301.21,508.02 302.21,508.07 303.21,507.68 304.21,507.95 305.21,507.37 306.21,507.65 307.21,507.45 308.21,507.37 309.21,507.78 310.21,507.02 311.21,507.62 312.21,507.37 313.21,507.56 314.21,507.12 315.21,507.46 316.21,507.23 317.21,507.28 318.21,507.36 319.21,507.17 320.21,507.49 321.21,507.28 322.21,507.27 323.21,507.85 324.21,507.47 325.21,508.19 326.21,507.8 327.21,508.36 328.21,508.01 329.21,508.35 330.21,508.13 331.21,508.4 332.21,508.05 333.21,508.08 334.21,508.09 335.21,508.57 336.21,508.48 337.21,508.08" stroke="#460a62" stroke-width="1.15" fill="none" stroke-linejoin="round"/>
<polyline points="249.7,505.89 250.2,466.4 250.65,508.69" stroke="#460a62" stroke-width="0.85" fill="none" stroke-linejoin="round"/>
<polyline points="231.72,509.31 232.72,509.47 233.72,509.53 234.72,509.55 235.72,509.88 236.72,509.7 237.72,509.84 238.72,509.76 239.72,509.88 240.72,510.25 241.72,509.9 242.72,510.36 243.72,509.72 244.72,509.6 245.72,509.69 246.72,509.79 247.72,509.57 248.72,509.55 249.72,509.71 250.72,509.58 251.72,509.22 252.72,509.62 253.72,509.22 254.72,509.35 255.72,509.21 256.72,509.5 257.72,509.4 258.72,509.39 259.72,509.2 260.72,509.18 261.72,509.36 262.72,509.81 263.72,509.89 264.72,509.55 265.72,509.32 266.72,509.39 267.72,509.87 268.72,509.26 269.72,509.4 270.72,509.08 271.72,509.28 272.72,509.08 273.72,509.43 274.72,509.34 275.72,508.91 276.72,509.07 277.72,508.89 278.72,508.69 279.72,508.88 280.72,508.35 281.72,508.45 282.72,508.93 283.72,508.76 284.72,508.92 285.72,508.93 286.72,509.15 287.72,508.8 288.72,508.81 289.72,508.94 290.72,509.38 291.72,509.15 292.72,509.34 293.72,509.34 294.72,509.02 295.72,509.26 296.72,509.25 297.72,509 298.72,508.95 299.72,508.85 300.72,508.78 301.72,508.55 302.72,508.77 303.72,508.94 304.72,508.51 305.72,508.63 306.72,508.63 307.72,508.62 308.72,509.13 309.72,509.06 310.72,508.7 311.72,509.1 312.72,509.08 313.72,509.19 314.72,509.1 315.72,509.52 316.72,509.42 317.72,509.69 318.72,509.34 319.72,509.64 320.72,509.58 321.72,509.71 322.72,509.27 323.72,509.74 324.72,509.51 325.72,509.27 326.72,509.17 327.72,509.58 328.72,508.99 329.72,509.37 330.72,509.17 331.72,509.21 332.72,509.68 333.72,509.14 334.72,509.24" stroke="#460a62" stroke-width="1.15" fill="none" stroke-linejoin="round"/>
<polyline points="229.24,511.09 230.24,511.34 231.24,510.85 232.24,511.21 233.24,511.51 234.24,511 235.24,511.02 236.24,511.28 237.24,510.98 238.24,511.36 239.24,511.54 240.24,511.56 241.24,511.01 242.24,511.3 243.24,511.24 244.24,511.17 245.24,510.95 246.24,511.12 247.24,509.56 248.24,509.6 249.24,509.19 250.24,509.24 251.24,509.97 252.24,509.73 253.24,509.9 254.24,510.09 255.24,510.16 256.24,509.93 257.24,510.57 258.24,510.76 259.24,510.37 260.24,510.42 261.24,510.49 262.24,510.82 263.24,510.79 264.24,510.88 265.24,510.97 266.24,510.78 267.24,511.01 268.24,511.07 269.24,511.17 270.24,511.22 271.24,511.48 272.24,510.91 273.24,511.18 274.24,511.25 275.24,510.94 276.24,511.07 277.24,510.96 278.24,511.14 279.24,511.21 280.24,510.86 281.24,510.94 282.24,510.7 283.24,510.78 284.24,511.12 285.24,510.98 286.24,510.54 287.24,510.46 288.24,510.28 289.24,510.7 290.24,510.67 291.24,510 292.24,510.23 293.24,510.15 294.24,510 295.24,510.27 296.24,510.36 297.24,510.02 298.24,510.45 299.24,510.19 300.24,509.94 301.24,510.27 302.24,509.91 303.24,510.13 304.24,510.28 305.24,510.04 306.24,510.03 307.24,510.26 308.24,510.63 309.24,510.22 310.24,510.44 311.24,510.58 312.24,510.31 313.24,510.47 314.24,510.84 315.24,510.8 316.24,510.65 317.24,510.7 318.24,510.26 319.24,510.42 320.24,510.49 321.24,510.26 322.24,510.51 323.24,510.6 324.24,510.61 325.24,510.54 326.24,510.45 327.24,510.65 328.24,510.21 329.24,510.22 330.24,510.16 331.24,510.19 332.24,510.58 333.24,510.29" stroke="#460a62" stroke-width="1.15" fill="none" stroke-linejoin="round"/>
<polyline points="245.7,508.74 246.2,470.7 246.65,511.54" stroke="#460a62" stroke-width="0.85" fill="none" stroke-linejoin="round"/>
<polyline points="226.76,511.73 227.76,512.03 228.76,511.91 229.76,511.96 230.76,511.85 231.76,511.97 232.76,511.9 233.76,511.38 234.76,511.68 235.76,511.55 236.76,511.47 237.76,511.31 238.76,511.73 239.76,511.3 240.76,511.38 241.76,511.47 242.76,511.94 243.76,511.72 244.76,511.58 245.76,511.72 246.76,511.89 247.76,512.35 248.76,511.88 249.76,512.14 250.76,512.56 251.76,512.18 252.76,512.57 253.76,512.78 254.76,512.53 255.76,512.69 256.76,512.58 257.76,512.77 258.76,512.8 259.76,512.49 260.76,512.54 261.76,512.48 262.76,512.54 263.76,512.22 264.76,512.38 265.76,512.22 266.76,512.54 267.76,512.55 268.76,512.26 269.76,512.46 270.76,512.84 271.76,512.74 272.76,512.45 273.76,512.7 274.76,512.48 275.76,512.66 276.76,513.07 277.76,512.65 278.76,512.95 279.76,513.03 280.76,513.12 281.76,512.69 282.76,512.35 283.76,512.52 284.76,512.58 285.76,512.56 286.76,512.52 287.76,511.87 288.76,512.04 289.76,512.17 290.76,511.79 291.76,512.12 292.76,512.21 293.76,511.74 294.76,511.94 295.76,511.56 296.76,512.03 297.76,512.26 298.76,512.18 299.76,511.91 300.76,512.37 301.76,511.75 302.76,512.16 303.76,511.81 304.76,512.05 305.76,511.92 306.76,511.78 307.76,512.25 308.76,512.14 309.76,511.88 310.76,511.54 311.76,511.71 312.76,511.44 313.76,511.6 314.76,511.63 315.76,511.79 316.76,511.28 317.76,511.3 318.76,511.26 319.76,511.83 320.76,511.79 321.76,511.55 322.76,511.69 323.76,512.06 324.76,511.99 325.76,512.1 326.76,512.07 327.76,512.28 328.76,511.94 329.76,512.12 330.76,512.63" stroke="#460a62" stroke-width="1.15" fill="none" stroke-linejoin="round"/>
<polyline points="224.28,514.18 225.28,514.31 226.28,514.4 227.28,514.42 228.28,513.89 229.28,513.94 230.28,513.83 231.28,513.94 232.28,513.92 233.28,513.88 234.28,513.57 235.28,513.43 236.28,513 237.28,512.89 238.28,512.81 239.28,513.19 240.28,513.13 241.28,512.74 242.28,513.34 243.28,511.96 244.28,511.67 245.28,511.42 246.28,511.65 247.28,512.03 248.28,512.09 249.28,512.43 250.28,512.68 251.28,512.79 252.28,512.72 253.28,513.3 254.28,512.87 255.28,513.14 256.28,513.07 257.28,512.86 258.28,513.1 259.28,513.32 260.28,513.47 261.28,513.14 262.28,512.97 263.28,513.31 264.28,512.9 265.28,513.24 266.28,512.99 267.28,513.43 268.28,513.52 269.28,513.59 270.28,513.36 271.28,513.75 272.28,513.64 273.28,513.54 274.28,513.97 275.28,513.72 276.28,514.33 277.28,514.33 278.28,513.84 279.28,514.39 280.28,514.27 281.28,514.03 282.28,514.35 283.28,514.43 284.28,514.02 285.28,514.08 286.28,514.45 287.28,514.04 288.28,514.38 289.28,513.97 290.28,514.06 291.28,513.77 292.28,513.43 293.28,513.8 294.28,513.45 295.28,513.56 296.28,513.6 297.28,513.44 298.28,513.15 299.28,513.11 300.28,513.56 301.28,513.61 302.28,513.23 303.28,513.44 304.28,513.71 305.28,513.17 306.28,513.44 307.28,513.67 308.28,513.6 309.28,513.55 310.28,513.71 311.28,513.42 312.28,513.3 313.28,513.34 314.28,513.31 315.28,513.36 316.28,513.09 317.28,513.55 318.28,513.36 319.28,513.35 320.28,513.27 321.28,513.31 322.28,513.05 323.28,512.9 324.28,512.87 325.28,512.8 326.28,513.42 327.28,513.26 328.28,513.29" stroke="#460a62" stroke-width="1.15" fill="none" stroke-linejoin="round"/>
<polyline points="241.8,511.63 242.3,474 242.75,514.43" stroke="#460a62" stroke-width="0.85" fill="none" stroke-linejoin="round"/>
<polyline points="221.79,514.73 222.79,514.57 223.79,514.36 224.79,515 225.79,514.73 226.79,514.42 227.79,514.62 228.79,514.71 229.79,514.87 230.79,514.55 231.79,514.87 232.79,515.07 233.79,515.1 234.79,514.89 235.79,515.17 236.79,514.78 237.79,514.71 238.79,513.77 239.79,513.28 240.79,513.67 241.79,513.41 242.79,513.98 243.79,514.01 244.79,514.2 245.79,514.44 246.79,514.33 247.79,514.44 248.79,514.63 249.79,514.6 250.79,514.51 251.79,514.76 252.79,514.41 253.79,514.97 254.79,514.53 255.79,515.22 256.79,515.1 257.79,515.35 258.79,515.21 259.79,515.11 260.79,515.25 261.79,515.28 262.79,515.09 263.79,515.67 264.79,515.26 265.79,515.35 266.79,515.47 267.79,515.77 268.79,515.6 269.79,515.55 270.79,515.76 271.79,515.57 272.79,515.47 273.79,515.89 274.79,515.62 275.79,515.75 276.79,515.24 277.79,515.86 278.79,515.24 279.79,515.43 280.79,515.09 281.79,515.12 282.79,515.35 283.79,515.08 284.79,515.33 285.79,514.63 286.79,515.08 287.79,515.03 288.79,514.55 289.79,514.9 290.79,514.39 291.79,514.64 292.79,514.33 293.79,514.44 294.79,514.49 295.79,514.63 296.79,514.26 297.79,514.09 298.79,514.25 299.79,514.6 300.79,514.35 301.79,514.48 302.79,514.66 303.79,514.55 304.79,514.94 305.79,514.66 306.79,514.78 307.79,515.12 308.79,514.61 309.79,514.9 310.79,515.16 311.79,515.2 312.79,515.1 313.79,515.14 314.79,515.51 315.79,515.53 316.79,515.11 317.79,515.26 318.79,514.97 319.79,515.05 320.79,515.22 321.79,515.23 322.79,515.46 323.79,515.06 324.79,515.26 325.79,515.52 326.79,515.01" stroke="#460a62" stroke-width="1.15" fill="none" stroke-linejoin="round"/>
<polyline points="237.7,513.08 238.2,476 238.65,515.88" stroke="#460a62" stroke-width="0.85" fill="none" stroke-linejoin="round"/>
<polyline points="219.31,516.62 220.31,516.68 221.31,516.68 222.31,516.74 223.31,516.74 224.31,516.67 225.31,516.13 226.31,516.25 227.31,516.06 228.31,516.09 229.31,516.39 230.31,516.46 231.31,516.63 232.31,516.89 233.31,516.33 234.31,516.92 235.31,516.72 236.31,516.27 237.31,516.58 238.31,516.1 239.31,515.97 240.31,516.27 241.31,515.81 242.31,516.08 243.31,515.84 244.31,515.95 245.31,515.68 246.31,515.89 247.31,515.56 248.31,516.15 249.31,516.18 250.31,515.97 251.31,516.28 252.31,516 253.31,516.48 254.31,516.3 255.31,516.88 256.31,516.35 257.31,516.32 258.31,516.93 259.31,516.77 260.31,516.7 261.31,516.28 262.31,516.48 263.31,516.64 264.31,516.14 265.31,516.63 266.31,516.49 267.31,516.18 268.31,516.5 269.31,516.5 270.31,516.85 271.31,516.79 272.31,517.09 273.31,517.15 274.31,517.07 275.31,516.95 276.31,517.58 277.31,517.15 278.31,517.39 279.31,517.52 280.31,517.03 281.31,516.87 282.31,517.31 283.31,517.17 284.31,516.67 285.31,516.67 286.31,516.8 287.31,516.69 288.31,516.83 289.31,516.54 290.31,516.32 291.31,516.73 292.31,516.51 293.31,516.45 294.31,516.41 295.31,516.53 296.31,516.48 297.31,516.53 298.31,516.79 299.31,516.49 300.31,516.5 301.31,516.8 302.31,516.35 303.31,516.65 304.31,516.02 305.31,516.11 306.31,515.88 307.31,516.05 308.31,515.93 309.31,516.05 310.31,515.79 311.31,516.07 312.31,515.54 313.31,515.96 314.31,515.65 315.31,515.93 316.31,516.42 317.31,516.05 318.31,516.01 319.31,516.73 320.31,516.11 321.31,516.56 322.31,516.25 323.31,516.57 324.31,516.69" stroke="#460a62" stroke-width="1.15" fill="none" stroke-linejoin="round"/>
<polyline points="216.83,517.57 217.83,517.66 218.83,517.9 219.83,517.92 220.83,517.42 221.83,517.89 222.83,517.7 223.83,517.3 224.83,517.66 225.83,517.49 226.83,517.71 227.83,517.88 228.83,517.45 229.83,517.45 230.83,517.46 231.83,517.83 232.83,517.99 233.83,517.69 234.83,517.17 235.83,516.64 236.83,516.3 237.83,516.14 238.83,516.24 239.83,516.47 240.83,517.06 241.83,517.24 242.83,516.78 243.83,517.31 244.83,517.58 245.83,517.21 246.83,517.73 247.83,517.66 248.83,517.29 249.83,517.34 250.83,517.84 251.83,517.5 252.83,517.36 253.83,517.4 254.83,517.92 255.83,517.98 256.83,517.68 257.83,518.26 258.83,517.94 259.83,517.94 260.83,518 261.83,518.36 262.83,518.51 263.83,518.64 264.83,518.15 265.83,518.6 266.83,518.44 267.83,518.32 268.83,518.75 269.83,518.44 270.83,518.39 271.83,519.02 272.83,518.36 273.83,518.65 274.83,518.55 275.83,518.35 276.83,518.87 277.83,518.16 278.83,518.08 279.83,518.18 280.83,518.28 281.83,518.17 282.83,518.18 283.83,518 284.83,517.83 285.83,518.1 286.83,517.4 287.83,517.58 288.83,517.41 289.83,517.8 290.83,517.41 291.83,517.38 292.83,517.55 293.83,517.68 294.83,517.45 295.83,517.01 296.83,517.12 297.83,517.13 298.83,517.11 299.83,517.15 300.83,517.85 301.83,517.53 302.83,517.83 303.83,517.56 304.83,517.6 305.83,518.21 306.83,517.65 307.83,518.26 308.83,517.76 309.83,518.1 310.83,518.13 311.83,518.26 312.83,518.32 313.83,518.01 314.83,518.55 315.83,518.1 316.83,518.14 317.83,518 318.83,518.11 319.83,518.36 320.83,518.27 321.83,518.59 322.83,518.48" stroke="#460a62" stroke-width="1.15" fill="none" stroke-linejoin="round"/>
<polyline points="233.8,516.03 234.3,476.8 234.75,518.83" stroke="#460a62" stroke-width="0.85" fill="none" stroke-linejoin="round"/>
<polyline points="214.34,519.62 215.34,519.85 216.34,519.59 217.34,520.13 218.34,520.13 219.34,520.02 220.34,520.09 221.34,520.31 222.34,519.98 223.34,519.96 224.34,520.13 225.34,520.22 226.34,519.97 227.34,519.79 228.34,520.3 229.34,520.06 230.34,519.97 231.34,518.5 232.34,518.1 233.34,518.11 234.34,518.32 235.34,517.99 236.34,517.9 237.34,518.4 238.34,518.54 239.34,518.36 240.34,518.5 241.34,518.26 242.34,518.27 243.34,518.16 244.34,518.18 245.34,518.7 246.34,518.76 247.34,518.64 248.34,518.69 249.34,518.73 250.34,519 251.34,518.58 252.34,518.75 253.34,518.79 254.34,519.45 255.34,519.19 256.34,519.41 257.34,519.2 258.34,519.61 259.34,519.64 260.34,519.42 261.34,519.87 262.34,519.89 263.34,519.74 264.34,519.46 265.34,519.88 266.34,519.89 267.34,519.59 268.34,519.43 269.34,519.6 270.34,519.37 271.34,519.21 272.34,519.33 273.34,519.39 274.34,519.46 275.34,519.5 276.34,519.79 277.34,519.62 278.34,519.52 279.34,519.59 280.34,519.86 281.34,519.8 282.34,519.71 283.34,519.75 284.34,520.07 285.34,520.07 286.34,519.92 287.34,519.83 288.34,519.9 289.34,519.84 290.34,520.35 291.34,520.46 292.34,520.27 293.34,519.88 294.34,520.08 295.34,519.96 296.34,519.82 297.34,520.11 298.34,520.21 299.34,520.12 300.34,520.01 301.34,519.53 302.34,519.77 303.34,519.37 304.34,519.32 305.34,519.53 306.34,518.93 307.34,519.27 308.34,519 309.34,519.06 310.34,518.85 311.34,518.81 312.34,519.33 313.34,518.98 314.34,518.81 315.34,519.14 316.34,519.33 317.34,519.09 318.34,519.19 319.34,519.4 320.34,519.48" stroke="#460a62" stroke-width="1.15" fill="none" stroke-linejoin="round"/>
<polyline points="230.2,517.52 230.7,479 231.15,520.32" stroke="#460a62" stroke-width="0.85" fill="none" stroke-linejoin="round"/>
<polyline points="211.86,521.48 212.86,520.91 213.86,521.04 214.86,520.73 215.86,520.58 216.86,520.61 217.86,520.65 218.86,520.46 219.86,520.87 220.86,520.37 221.86,520.76 222.86,520.54 223.86,520.69 224.86,520.36 225.86,520.04 226.86,520.14 227.86,518.92 228.86,518.58 229.86,518.56 230.86,518.86 231.86,519.24 232.86,519.56 233.86,519.42 234.86,519.75 235.86,520.14 236.86,519.83 237.86,520.37 238.86,520.05 239.86,520.1 240.86,520.71 241.86,520.61 242.86,520.7 243.86,520.52 244.86,520.45 245.86,520.76 246.86,520.58 247.86,521.05 248.86,520.91 249.86,520.96 250.86,520.44 251.86,520.56 252.86,520.55 253.86,520.35 254.86,520.58 255.86,520.66 256.86,520.44 257.86,520.36 258.86,520.27 259.86,520.43 260.86,520.64 261.86,521.03 262.86,520.88 263.86,520.61 264.86,520.69 265.86,520.71 266.86,521.25 267.86,520.72 268.86,521.43 269.86,521.41 270.86,521.16 271.86,521.41 272.86,521.17 273.86,521.65 274.86,521.28 275.86,521.94 276.86,521.58 277.86,521.77 278.86,522.02 279.86,521.98 280.86,521.92 281.86,521.77 282.86,521.58 283.86,521.66 284.86,521.78 285.86,521.43 286.86,521.82 287.86,521.54 288.86,521.71 289.86,521.11 290.86,521.31 291.86,521.27 292.86,521.08 293.86,521.23 294.86,521.16 295.86,521.04 296.86,520.95 297.86,521.12 298.86,521.03 299.86,520.94 300.86,520.81 301.86,521.11 302.86,521.29 303.86,520.94 304.86,521.5 305.86,521 306.86,521 307.86,520.99 308.86,521.54 309.86,521.12 310.86,521.05 311.86,521.49 312.86,521.17 313.86,521.23 314.86,521.37 315.86,521.13 316.86,521.51 317.86,521.14" stroke="#460a62" stroke-width="1.15" fill="none" stroke-linejoin="round"/>
<polyline points="226.5,519.02 227,481 227.45,521.82" stroke="#460a62" stroke-width="0.85" fill="none" stroke-linejoin="round"/>
<polyline points="209.38,522.36 210.38,522.16 211.38,522.25 212.38,522.41 213.38,522.06 214.38,521.96 215.38,522.18 216.38,522.09 217.38,522.13 218.38,521.95 219.38,521.94 220.38,521.79 221.38,521.72 222.38,522.23 223.38,522.17 224.38,521.81 225.38,520.59 226.38,521.01 227.38,520.67 228.38,521.26 229.38,521.25 230.38,521.7 231.38,521.69 232.38,521.58 233.38,522.01 234.38,521.64 235.38,522.06 236.38,522.01 237.38,522.12 238.38,522.22 239.38,521.75 240.38,522.3 241.38,522.27 242.38,522.38 243.38,522.58 244.38,522.42 245.38,522.66 246.38,522.58 247.38,523.02 248.38,522.82 249.38,522.96 250.38,522.7 251.38,523.06 252.38,522.91 253.38,522.87 254.38,523.25 255.38,522.92 256.38,522.91 257.38,523.46 258.38,522.86 259.38,522.87 260.38,523.06 261.38,522.49 262.38,522.98 263.38,522.64 264.38,522.3 265.38,522.28 266.38,522.41 267.38,522.65 268.38,522.55 269.38,522.43 270.38,522.3 271.38,522.8 272.38,522.51 273.38,522.69 274.38,522.69 275.38,522.81 276.38,523.06 277.38,522.94 278.38,522.96 279.38,522.47 280.38,522.65 281.38,522.58 282.38,522.54 283.38,522.19 284.38,522.44 285.38,522.03 286.38,522.22 287.38,521.86 288.38,521.98 289.38,521.61 290.38,521.61 291.38,521.84 292.38,521.94 293.38,521.92 294.38,522.23 295.38,522.32 296.38,522.11 297.38,521.95 298.38,522.24 299.38,522.17 300.38,522.69 301.38,522.35 302.38,522.65 303.38,522.7 304.38,522.5 305.38,522.77 306.38,522.38 307.38,522.41 308.38,522.7 309.38,522.14 310.38,522.47 311.38,521.99 312.38,522.15 313.38,522.34 314.38,522.69 315.38,522.71 316.38,522.73" stroke="#460a62" stroke-width="1.15" fill="none" stroke-linejoin="round"/>
<polyline points="223.5,520.53 224,482.3 224.45,523.33" stroke="#460a62" stroke-width="0.85" fill="none" stroke-linejoin="round"/>
<polyline points="206.9,524.36 207.9,524.44 208.9,524.19 209.9,524.31 210.9,524.16 211.9,524.16 212.9,523.98 213.9,524.45 214.9,524.42 215.9,524.11 216.9,524.08 217.9,524.54 218.9,523.96 219.9,524.12 220.9,523.76 221.9,524.3 222.9,524.13 223.9,523.9 224.9,523.73 225.9,523.5 226.9,523.44 227.9,523.72 228.9,523.52 229.9,523.39 230.9,523.47 231.9,523.19 232.9,523.59 233.9,523.41 234.9,523.05 235.9,523.2 236.9,523.04 237.9,523.32 238.9,523.3 239.9,523.17 240.9,523.75 241.9,523.6 242.9,523.43 243.9,523.66 244.9,523.74 245.9,523.42 246.9,523.79 247.9,523.92 248.9,523.78 249.9,523.91 250.9,524.16 251.9,524.22 252.9,524.45 253.9,524 254.9,524.16 255.9,524.55 256.9,524.03 257.9,524.04 258.9,524.04 259.9,524.19 260.9,524.1 261.9,524.24 262.9,524.31 263.9,524.12 264.9,524.33 265.9,524.4 266.9,524.11 267.9,523.96 268.9,524.53 269.9,524.13 270.9,523.87 271.9,523.89 272.9,524.31 273.9,524.12 274.9,524.48 275.9,524.36 276.9,523.91 277.9,524.41 278.9,524.59 279.9,524.65 280.9,524.59 281.9,524.47 282.9,524.72 283.9,524.67 284.9,524.45 285.9,524.4 286.9,524.24 287.9,524.32 288.9,524.56 289.9,524.35 290.9,524.39 291.9,524.62 292.9,524.47 293.9,524.94 294.9,524.37 295.9,524.59 296.9,524.52 297.9,524.38 298.9,524.59 299.9,524.63 300.9,524.47 301.9,523.86 302.9,523.98 303.9,523.94 304.9,524.21 305.9,523.98 306.9,523.68 307.9,523.85 308.9,523.97 309.9,523.29 310.9,523.87 311.9,523.22 312.9,523.12 313.9,523.13" stroke="#460a62" stroke-width="1.15" fill="none" stroke-linejoin="round"/>
<polyline points="204.41,525.64 205.41,526.25 206.41,525.64 207.41,526.12 208.41,526 209.41,525.66 210.41,525.23 211.41,525.12 212.41,525.11 213.41,524.98 214.41,525.26 215.41,524.8 216.41,524.88 217.41,524.59 218.41,525.09 219.41,524.73 220.41,524.52 221.41,525.05 222.41,525.08 223.41,525.02 224.41,525.29 225.41,525.09 226.41,525.52 227.41,525.62 228.41,525.48 229.41,525.77 230.41,525.52 231.41,525.76 232.41,525.86 233.41,525.49 234.41,525.89 235.41,526.03 236.41,526.14 237.41,526.14 238.41,525.7 239.41,525.8 240.41,525.43 241.41,526.02 242.41,525.36 243.41,525.77 244.41,525.65 245.41,525.92 246.41,526.04 247.41,526.09 248.41,526.17 249.41,526.19 250.41,525.63 251.41,525.75 252.41,526.07 253.41,526.24 254.41,526.4 255.41,526.4 256.41,526.34 257.41,526.12 258.41,525.89 259.41,525.84 260.41,526.12 261.41,525.73 262.41,525.44 263.41,525.74 264.41,525.55 265.41,525.5 266.41,525.25 267.41,524.98 268.41,525.4 269.41,525.01 270.41,525 271.41,525.04 272.41,524.58 273.41,524.71 274.41,524.86 275.41,525.33 276.41,524.76 277.41,525.46 278.41,525.3 279.41,525.25 280.41,525.54 281.41,525.7 282.41,525.69 283.41,525.2 284.41,525.82 285.41,525.49 286.41,525.83 287.41,525.58 288.41,525.82 289.41,525.24 290.41,525.52 291.41,525.73 292.41,525.36 293.41,525.71 294.41,525.23 295.41,525.54 296.41,525.19 297.41,525.74 298.41,525.47 299.41,525.83 300.41,525.49 301.41,525.82 302.41,526 303.41,525.8 304.41,525.98 305.41,526.32 306.41,526.28 307.41,526.35 308.41,525.98 309.41,526.47 310.41,526.25 311.41,526.29 312.41,525.81" stroke="#460a62" stroke-width="1.15" fill="none" stroke-linejoin="round"/>
<polyline points="201.93,526.3 202.93,526.23 203.93,526.38 204.93,526.83 205.93,526.45 206.93,526.69 207.93,527.09 208.93,526.74 209.93,527.19 210.93,526.74 211.93,526.93 212.93,527 213.93,526.8 214.93,526.89 215.93,527.19 216.93,527.05 217.93,526.76 218.93,526.92 219.93,526.9 220.93,526.98 221.93,527.06 222.93,526.95 223.93,527.23 224.93,527.22 225.93,527.13 226.93,526.97 227.93,527.32 228.93,526.92 229.93,527.06 230.93,526.89 231.93,527.2 232.93,527.67 233.93,527.74 234.93,527.35 235.93,527.54 236.93,527.47 237.93,527.69 238.93,527.97 239.93,527.67 240.93,528.2 241.93,528.21 242.93,528.04 243.93,527.6 244.93,527.51 245.93,528.09 246.93,528.03 247.93,527.71 248.93,527.38 249.93,527.28 250.93,527.61 251.93,527.03 252.93,527.18 253.93,526.86 254.93,526.8 255.93,527.22 256.93,527.17 257.93,526.93 258.93,526.74 259.93,526.6 260.93,526.52 261.93,526.55 262.93,526.69 263.93,526.55 264.93,526.74 265.93,526.67 266.93,527.06 267.93,527.12 268.93,527.32 269.93,526.77 270.93,527.25 271.93,527.24 272.93,527.27 273.93,527.09 274.93,527.15 275.93,527.14 276.93,526.53 277.93,526.97 278.93,526.99 279.93,526.99 280.93,526.73 281.93,526.56 282.93,526.47 283.93,526.57 284.93,526.45 285.93,526.47 286.93,526.78 287.93,526.73 288.93,526.59 289.93,526.84 290.93,526.45 291.93,527.04 292.93,526.94 293.93,526.96 294.93,527.5 295.93,527.08 296.93,527.17 297.93,527.78 298.93,527.71 299.93,527.43 300.93,527.81 301.93,527.97 302.93,527.8 303.93,527.56 304.93,527.56 305.93,527.71 306.93,527.62 307.93,527.98 308.93,527.5 309.93,527.68" stroke="#460a62" stroke-width="1.15" fill="none" stroke-linejoin="round"/>
<polyline points="199.45,529.06 200.45,529.23 201.45,528.96 202.45,528.76 203.45,528.82 204.45,528.94 205.45,528.82 206.45,528.72 207.45,528.73 208.45,528.68 209.45,529.01 210.45,528.55 211.45,528.73 212.45,528.65 213.45,529.31 214.45,529.02 215.45,529.42 216.45,528.99 217.45,529.55 218.45,529.14 219.45,529.31 220.45,529.32 221.45,529.4 222.45,529.53 223.45,529.52 224.45,529.3 225.45,529.15 226.45,529.24 227.45,528.79 228.45,528.72 229.45,528.48 230.45,528.77 231.45,528.99 232.45,528.51 233.45,528.88 234.45,529.05 235.45,528.96 236.45,528.89 237.45,529.43 238.45,529.36 239.45,528.87 240.45,529.03 241.45,529.16 242.45,529.04 243.45,529.15 244.45,528.82 245.45,528.66 246.45,528.52 247.45,528.55 248.45,528.76 249.45,528.45 250.45,528.17 251.45,528.31 252.45,528.08 253.45,528.12 254.45,528.4 255.45,528.69 256.45,528.71 257.45,528.85 258.45,528.89 259.45,528.5 260.45,528.36 261.45,528.97 262.45,528.96 263.45,528.37 264.45,528.38 265.45,528.35 266.45,528.62 267.45,528.15 268.45,527.96 269.45,528.44 270.45,527.8 271.45,528.2 272.45,528.27 273.45,527.88 274.45,527.87 275.45,527.73 276.45,527.99 277.45,528.34 278.45,528.06 279.45,528.06 280.45,528.54 281.45,528.67 282.45,528.32 283.45,528.69 284.45,528.49 285.45,528.46 286.45,528.38 287.45,528.23 288.45,528.69 289.45,528.35 290.45,528.31 291.45,528.43 292.45,528.22 293.45,527.78 294.45,527.9 295.45,527.84 296.45,527.86 297.45,527.99 298.45,528.49 299.45,528.57 300.45,528.47 301.45,528.99 302.45,528.46 303.45,528.86 304.45,529.24 305.45,529.23 306.45,529.19 307.45,529.05" stroke="#460a62" stroke-width="1.15" fill="none" stroke-linejoin="round"/>
<polyline points="196.97,530.02 197.97,530.33 198.97,530.34 199.97,530.29 200.97,530.18 201.97,529.81 202.97,529.83 203.97,530.1 204.97,529.77 205.97,529.81 206.97,530.5 207.97,530.07 208.97,530.25 209.97,530.59 210.97,530.06 211.97,530.44 212.97,530.31 213.97,530.39 214.97,530.4 215.97,530.38 216.97,530.25 217.97,529.85 218.97,530.3 219.97,529.64 220.97,529.75 221.97,530.02 222.97,529.92 223.97,529.48 224.97,529.32 225.97,529.28 226.97,529.75 227.97,529.75 228.97,529.81 229.97,529.44 230.97,529.76 231.97,529.61 232.97,529.72 233.97,529.49 234.97,529.94 235.97,529.72 236.97,530.26 237.97,529.88 238.97,530.28 239.97,529.81 240.97,530.38 241.97,530.5 242.97,530.3 243.97,530.48 244.97,530.17 245.97,530.15 246.97,530.44 247.97,529.87 248.97,529.77 249.97,530.21 250.97,529.75 251.97,530.2 252.97,530.01 253.97,530.14 254.97,530.08 255.97,529.95 256.97,530.04 257.97,530.13 258.97,530.16 259.97,529.82 260.97,529.97 261.97,530.19 262.97,530.52 263.97,530.34 264.97,530.42 265.97,530.63 266.97,530.5 267.97,530.41 268.97,530.46 269.97,530.68 270.97,530.9 271.97,530.87 272.97,530.72 273.97,530.53 274.97,530.85 275.97,530.92 276.97,530.78 277.97,530.85 278.97,530.28 279.97,530.21 280.97,530.28 281.97,530.58 282.97,530.46 283.97,530.45 284.97,530.05 285.97,530.1 286.97,530.22 287.97,530.31 288.97,530.19 289.97,530.83 290.97,530.84 291.97,530.32 292.97,530.95 293.97,530.86 294.97,530.88 295.97,530.77 296.97,530.58 297.97,531.07 298.97,530.68 299.97,530.69 300.97,530.54 301.97,530.55 302.97,530.41 303.97,530.68 304.97,530.22 305.97,530.7" stroke="#460a62" stroke-width="1.15" fill="none" stroke-linejoin="round"/>
<polyline points="194.48,531.64 195.48,531.5 196.48,531.39 197.48,531.64 198.48,531.58 199.48,531.97 200.48,531.37 201.48,532.01 202.48,531.61 203.48,531.96 204.48,531.52 205.48,531.76 206.48,531.34 207.48,531.5 208.48,531.48 209.48,531.35 210.48,531.36 211.48,531.07 212.48,531.61 213.48,531.56 214.48,531.45 215.48,531.57 216.48,531.41 217.48,531.6 218.48,531.9 219.48,531.77 220.48,531.48 221.48,531.67 222.48,531.74 223.48,532.31 224.48,532.1 225.48,532.21 226.48,532.19 227.48,532.04 228.48,532.23 229.48,532.42 230.48,532.58 231.48,532.2 232.48,532.49 233.48,532.1 234.48,531.94 235.48,532.39 236.48,531.8 237.48,532.2 238.48,531.66 239.48,532.08 240.48,531.93 241.48,532.24 242.48,531.69 243.48,531.72 244.48,532.18 245.48,531.88 246.48,531.98 247.48,532.11 248.48,532.63 249.48,532.18 250.48,532.63 251.48,532.64 252.48,532.68 253.48,532.53 254.48,532.38 255.48,532.53 256.48,532.25 257.48,532.64 258.48,531.93 259.48,532.42 260.48,531.95 261.48,532.18 262.48,532.11 263.48,532.15 264.48,531.41 265.48,531.44 266.48,531.87 267.48,531.57 268.48,531.91 269.48,531.87 270.48,531.94 271.48,532.12 272.48,531.51 273.48,531.6 274.48,532.26 275.48,532.14 276.48,532.13 277.48,531.68 278.48,532.2 279.48,532.1 280.48,531.88 281.48,532.15 282.48,531.44 283.48,531.58 284.48,531.78 285.48,531.45 286.48,531.73 287.48,531.14 288.48,531.52 289.48,531.29 290.48,531.26 291.48,531.46 292.48,531.41 293.48,530.91 294.48,531.45 295.48,530.92 296.48,531.35 297.48,531.03 298.48,531.3 299.48,531.75 300.48,531.68 301.48,531.74 302.48,531.39 303.48,531.96" stroke="#460a62" stroke-width="1.15" fill="none" stroke-linejoin="round"/>
<polyline points="192,534.01 193,533.86 194,533.73 195,533.92 196,533.55 197,533.62 198,533.83 199,533.19 200,533.3 201,533.01 202,533.6 203,532.97 204,533.49 205,532.97 206,532.92 207,533.43 208,533.4 209,533.33 210,533.3 211,533.11 212,533.06 213,533.41 214,533.51 215,533.31 216,533.29 217,533.26 218,533.12 219,533.41 220,533.3 221,533.57 222,533.31 223,533.24 224,532.88 225,532.79 226,532.96 227,532.65 228,532.53 229,532.76 230,532.45 231,532.96 232,532.94 233,532.81 234,532.52 235,532.92 236,532.79 237,532.76 238,532.88 239,533.09 240,533.13 241,532.87 242,533.08 243,533.6 244,533.51 245,533.41 246,533.87 247,533.96 248,533.49 249,533.82 250,534.14 251,534.03 252,533.67 253,534.23 254,533.8 255,534.24 256,533.87 257,534.08 258,533.71 259,533.73 260,533.9 261,533.73 262,533.81 263,533.94 264,533.38 265,533.52 266,533.4 267,533.56 268,533.35 269,533.76 270,533.25 271,533.54 272,533.72 273,533.63 274,533.48 275,533.73 276,533.94 277,533.54 278,533.61 279,533.71 280,533.88 281,533.78 282,533.92 283,533.91 284,533.66 285,533.61 286,533.36 287,533.82 288,533.36 289,533.08 290,533.23 291,533.14 292,533.47 293,533.28 294,532.88 295,533.23 296,532.91 297,532.73 298,533.03 299,532.8 300,532.44 301,532.32 302,532.37" stroke="#460a62" stroke-width="1.15" fill="none" stroke-linejoin="round"/>
<path d="M128.2,441.1 L128.2,476.6 L166.4,476.6" stroke="#111" stroke-width="1.3" fill="none" />
<text transform="translate(131.6 471) scale(1 1.06)" font-size="8.6" text-anchor="start" font-weight="normal" font-style="normal" fill="#1a1a1a" >50 mV</text>
<text transform="translate(131.6 486.3) scale(1 1.06)" font-size="8.5" text-anchor="start" font-weight="normal" font-style="normal" fill="#1a1a1a" >200 ms</text>
<text transform="translate(0 516) scale(1 1.06)" font-size="8.8" text-anchor="start" font-weight="normal" font-style="normal" fill="#1a1a1a" >CTL</text>
<text transform="translate(184.8 516.2) scale(1 1.06)" font-size="9.2" text-anchor="start" font-weight="normal" font-style="normal" fill="#1a1a1a" >cKO</text>
<line x1="455.2" y1="418.4" x2="455.2" y2="521.9" stroke="#222" stroke-width="1.2" />
<line x1="454.6" y1="521.3" x2="609.8" y2="521.3" stroke="#222" stroke-width="1.2" />
<line x1="450.2" y1="521.3" x2="455.2" y2="521.3" stroke="#222" stroke-width="1.1" />
<text transform="translate(447.7 524.9) scale(1 1.06)" font-size="10.3" text-anchor="end" font-weight="normal" font-style="normal" fill="#1a1a1a" >0.00</text>
<line x1="452.2" y1="508.51" x2="455.2" y2="508.51" stroke="#222" stroke-width="1.1" />
<line x1="450.2" y1="495.72" x2="455.2" y2="495.72" stroke="#222" stroke-width="1.1" />
<text transform="translate(447.7 499.32) scale(1 1.06)" font-size="10.3" text-anchor="end" font-weight="normal" font-style="normal" fill="#1a1a1a" >0.25</text>
<line x1="452.2" y1="482.94" x2="455.2" y2="482.94" stroke="#222" stroke-width="1.1" />
<line x1="450.2" y1="470.15" x2="455.2" y2="470.15" stroke="#222" stroke-width="1.1" />
<text transform="translate(447.7 473.75) scale(1 1.06)" font-size="10.3" text-anchor="end" font-weight="normal" font-style="normal" fill="#1a1a1a" >0.50</text>
<line x1="452.2" y1="457.36" x2="455.2" y2="457.36" stroke="#222" stroke-width="1.1" />
<line x1="450.2" y1="444.57" x2="455.2" y2="444.57" stroke="#222" stroke-width="1.1" />
<text transform="translate(447.7 448.17) scale(1 1.06)" font-size="10.3" text-anchor="end" font-weight="normal" font-style="normal" fill="#1a1a1a" >0.75</text>
<line x1="452.2" y1="431.79" x2="455.2" y2="431.79" stroke="#222" stroke-width="1.1" />
<line x1="450.2" y1="419" x2="455.2" y2="419" stroke="#222" stroke-width="1.1" />
<text transform="translate(447.7 422.6) scale(1 1.06)" font-size="10.3" text-anchor="end" font-weight="normal" font-style="normal" fill="#1a1a1a" >1.00</text>
<line x1="455.2" y1="521.3" x2="455.2" y2="525.9" stroke="#222" stroke-width="1.1" />
<text transform="translate(455.2 538.6) scale(1 1.06)" font-size="10.4" text-anchor="middle" font-weight="normal" font-style="normal" fill="#1a1a1a" >0</text>
<line x1="493.7" y1="521.3" x2="493.7" y2="525.9" stroke="#222" stroke-width="1.1" />
<text transform="translate(493.7 538.6) scale(1 1.06)" font-size="10.4" text-anchor="middle" font-weight="normal" font-style="normal" fill="#1a1a1a" >100</text>
<line x1="532.2" y1="521.3" x2="532.2" y2="525.9" stroke="#222" stroke-width="1.1" />
<text transform="translate(532.2 538.6) scale(1 1.06)" font-size="10.4" text-anchor="middle" font-weight="normal" font-style="normal" fill="#1a1a1a" >200</text>
<line x1="570.7" y1="521.3" x2="570.7" y2="525.9" stroke="#222" stroke-width="1.1" />
<text transform="translate(570.7 538.6) scale(1 1.06)" font-size="10.4" text-anchor="middle" font-weight="normal" font-style="normal" fill="#1a1a1a" >300</text>
<line x1="609.2" y1="521.3" x2="609.2" y2="525.9" stroke="#222" stroke-width="1.1" />
<text transform="translate(609.2 538.6) scale(1 1.06)" font-size="10.4" text-anchor="middle" font-weight="normal" font-style="normal" fill="#1a1a1a" >400</text>
<text transform="translate(532 557.9) scale(1 1.06)" font-size="12.1" text-anchor="middle" font-weight="normal" font-style="normal" fill="#1a1a1a" >Stimulus intensity (µA)</text>
<text transform="translate(419.4 471.9) rotate(-90) scale(1.1 1)" font-size="11.00" text-anchor="middle" fill="#1a1a1a" xml:space="preserve">Firing  probability</text>
<polyline points="455.2,521.3 456.74,521.3 458.28,521.28 459.82,521.26 461.36,521.2 462.9,521.12 464.44,521.01 465.98,520.86 467.52,520.67 469.06,520.43 470.6,520.15 472.14,519.82 473.68,519.44 475.22,519 476.76,518.51 478.3,517.95 479.84,517.34 481.38,516.67 482.92,515.95 484.46,515.16 486,514.31 487.54,513.41 489.08,512.45 490.62,511.44 492.16,510.38 493.7,509.26 495.24,508.1 496.78,506.9 498.32,505.66 499.86,504.38 501.4,503.07 502.94,501.72 504.48,500.35 506.02,498.96 507.56,497.55 509.1,496.13 510.64,494.69 512.18,493.25 513.72,491.8 515.26,490.35 516.8,488.9 518.34,487.46 519.88,486.03 521.42,484.6 522.96,483.19 524.5,481.79 526.04,480.4 527.58,479.04 529.12,477.69 530.66,476.37 532.2,475.07 533.74,473.79 535.28,472.54 536.82,471.31 538.36,470.11 539.9,468.93 541.44,467.78 542.98,466.66 544.52,465.56 546.06,464.49 547.6,463.45 549.14,462.43 550.68,461.44 552.22,460.48 553.76,459.55 555.3,458.64 556.84,457.75 558.38,456.89 559.92,456.05 561.46,455.24 563,454.46 564.54,453.69 566.08,452.95 567.62,452.23 569.16,451.53 570.7,450.85 572.24,450.19 573.78,449.55 575.32,448.93 576.86,448.33 578.4,447.75 579.94,447.19 581.48,446.64 583.02,446.11 584.56,445.59 586.1,445.09 587.64,444.61 589.18,444.14 590.72,443.68 592.26,443.24 593.8,442.81 595.34,442.39 596.88,441.99 598.42,441.6 599.96,441.22 601.5,440.85 603.04,440.49 604.58,440.14 606.12,439.81 607.66,439.48 609.2,439.16" stroke="#3f3f3f" stroke-width="1.2" fill="none" />
<polyline points="455.2,521.3 456.74,521.3 458.28,521.3 459.82,521.3 461.36,521.3 462.9,521.3 464.44,521.29 465.98,521.27 467.52,521.25 469.06,521.21 470.6,521.15 472.14,521.06 473.68,520.93 475.22,520.75 476.76,520.5 478.3,520.17 479.84,519.75 481.38,519.21 482.92,518.54 484.46,517.72 486,516.72 487.54,515.54 489.08,514.14 490.62,512.52 492.16,510.68 493.7,508.6 495.24,506.29 496.78,503.75 498.32,501 499.86,498.07 501.4,494.98 502.94,491.76 504.48,488.46 506.02,485.09 507.56,481.72 509.1,478.36 510.64,475.06 512.18,471.83 513.72,468.72 515.26,465.73 516.8,462.89 518.34,460.2 519.88,457.66 521.42,455.29 522.96,453.08 524.5,451.02 526.04,449.12 527.58,447.36 529.12,445.74 530.66,444.26 532.2,442.89 533.74,441.64 535.28,440.49 536.82,439.44 538.36,438.48 539.9,437.59 541.44,436.79 542.98,436.05 544.52,435.38 546.06,434.76 547.6,434.2 549.14,433.68 550.68,433.2 552.22,432.77 553.76,432.37 555.3,432 556.84,431.66 558.38,431.35 559.92,431.07 561.46,430.81 563,430.56 564.54,430.34 566.08,430.13 567.62,429.94 569.16,429.77 570.7,429.6 572.24,429.45 573.78,429.31 575.32,429.18 576.86,429.06 578.4,428.95 579.94,428.84 581.48,428.75 583.02,428.66 584.56,428.57 586.1,428.49 587.64,428.42 589.18,428.35 590.72,428.29 592.26,428.23 593.8,428.17 595.34,428.12 596.88,428.07 598.42,428.02 599.96,427.98 601.5,427.94 603.04,427.9 604.58,427.87 606.12,427.83 607.66,427.8 609.2,427.77" stroke="#5c1a78" stroke-width="1.3" fill="none" />
<line x1="470.6" y1="510.05" x2="470.6" y2="520.28" stroke="#5c1a78" stroke-width="1.0" />
<line x1="468.9" y1="510.05" x2="472.3" y2="510.05" stroke="#5c1a78" stroke-width="1.2" />
<line x1="468.9" y1="520.28" x2="472.3" y2="520.28" stroke="#5c1a78" stroke-width="1.2" />
<line x1="486" y1="493.68" x2="486" y2="514.14" stroke="#5c1a78" stroke-width="1.0" />
<line x1="484.3" y1="493.68" x2="487.7" y2="493.68" stroke="#5c1a78" stroke-width="1.2" />
<line x1="484.3" y1="514.14" x2="487.7" y2="514.14" stroke="#5c1a78" stroke-width="1.2" />
<line x1="501.4" y1="485.49" x2="501.4" y2="510.05" stroke="#5c1a78" stroke-width="1.0" />
<line x1="499.7" y1="485.49" x2="503.1" y2="485.49" stroke="#5c1a78" stroke-width="1.2" />
<line x1="499.7" y1="510.05" x2="503.1" y2="510.05" stroke="#5c1a78" stroke-width="1.2" />
<line x1="516.8" y1="445.09" x2="516.8" y2="474.75" stroke="#5c1a78" stroke-width="1.0" />
<line x1="515.1" y1="445.09" x2="518.5" y2="445.09" stroke="#5c1a78" stroke-width="1.2" />
<line x1="515.1" y1="474.75" x2="518.5" y2="474.75" stroke="#5c1a78" stroke-width="1.2" />
<line x1="532.2" y1="436.39" x2="532.2" y2="456.85" stroke="#5c1a78" stroke-width="1.0" />
<line x1="530.5" y1="436.39" x2="533.9" y2="436.39" stroke="#5c1a78" stroke-width="1.2" />
<line x1="530.5" y1="456.85" x2="533.9" y2="456.85" stroke="#5c1a78" stroke-width="1.2" />
<line x1="547.6" y1="422.38" x2="547.6" y2="436.08" stroke="#5c1a78" stroke-width="1.0" />
<line x1="545.9" y1="422.38" x2="549.3" y2="422.38" stroke="#5c1a78" stroke-width="1.2" />
<line x1="545.9" y1="436.08" x2="549.3" y2="436.08" stroke="#5c1a78" stroke-width="1.2" />
<line x1="563" y1="419" x2="563" y2="439.46" stroke="#5c1a78" stroke-width="1.0" />
<line x1="561.3" y1="419" x2="564.7" y2="419" stroke="#5c1a78" stroke-width="1.2" />
<line x1="561.3" y1="439.46" x2="564.7" y2="439.46" stroke="#5c1a78" stroke-width="1.2" />
<line x1="578.4" y1="422.58" x2="578.4" y2="443.04" stroke="#5c1a78" stroke-width="1.0" />
<line x1="576.7" y1="422.58" x2="580.1" y2="422.58" stroke="#5c1a78" stroke-width="1.2" />
<line x1="576.7" y1="443.04" x2="580.1" y2="443.04" stroke="#5c1a78" stroke-width="1.2" />
<line x1="593.8" y1="419" x2="593.8" y2="433.32" stroke="#5c1a78" stroke-width="1.0" />
<line x1="592.1" y1="419" x2="595.5" y2="419" stroke="#5c1a78" stroke-width="1.2" />
<line x1="592.1" y1="433.32" x2="595.5" y2="433.32" stroke="#5c1a78" stroke-width="1.2" />
<line x1="609.2" y1="425.65" x2="609.2" y2="439.97" stroke="#5c1a78" stroke-width="1.0" />
<line x1="607.5" y1="425.65" x2="610.9" y2="425.65" stroke="#5c1a78" stroke-width="1.2" />
<line x1="607.5" y1="439.97" x2="610.9" y2="439.97" stroke="#5c1a78" stroke-width="1.2" />
<line x1="470.6" y1="516.49" x2="470.6" y2="520.58" stroke="#555" stroke-width="1.0" />
<line x1="468.9" y1="516.49" x2="472.3" y2="516.49" stroke="#555" stroke-width="1.2" />
<line x1="468.9" y1="520.58" x2="472.3" y2="520.58" stroke="#555" stroke-width="1.2" />
<line x1="486" y1="508.51" x2="486" y2="514.65" stroke="#555" stroke-width="1.0" />
<line x1="484.3" y1="508.51" x2="487.7" y2="508.51" stroke="#555" stroke-width="1.2" />
<line x1="484.3" y1="514.65" x2="487.7" y2="514.65" stroke="#555" stroke-width="1.2" />
<line x1="501.4" y1="484.47" x2="501.4" y2="509.02" stroke="#555" stroke-width="1.0" />
<line x1="499.7" y1="484.47" x2="503.1" y2="484.47" stroke="#555" stroke-width="1.2" />
<line x1="499.7" y1="509.02" x2="503.1" y2="509.02" stroke="#555" stroke-width="1.2" />
<line x1="516.8" y1="476.8" x2="516.8" y2="502.37" stroke="#555" stroke-width="1.0" />
<line x1="515.1" y1="476.8" x2="518.5" y2="476.8" stroke="#555" stroke-width="1.2" />
<line x1="515.1" y1="502.37" x2="518.5" y2="502.37" stroke="#555" stroke-width="1.2" />
<line x1="532.2" y1="456.85" x2="532.2" y2="487.54" stroke="#555" stroke-width="1.0" />
<line x1="530.5" y1="456.85" x2="533.9" y2="456.85" stroke="#555" stroke-width="1.2" />
<line x1="530.5" y1="487.54" x2="533.9" y2="487.54" stroke="#555" stroke-width="1.2" />
<line x1="547.6" y1="456.34" x2="547.6" y2="483.96" stroke="#555" stroke-width="1.0" />
<line x1="545.9" y1="456.34" x2="549.3" y2="456.34" stroke="#555" stroke-width="1.2" />
<line x1="545.9" y1="483.96" x2="549.3" y2="483.96" stroke="#555" stroke-width="1.2" />
<line x1="563" y1="445.6" x2="563" y2="470.15" stroke="#555" stroke-width="1.0" />
<line x1="561.3" y1="445.6" x2="564.7" y2="445.6" stroke="#555" stroke-width="1.2" />
<line x1="561.3" y1="470.15" x2="564.7" y2="470.15" stroke="#555" stroke-width="1.2" />
<line x1="578.4" y1="435.88" x2="578.4" y2="457.36" stroke="#555" stroke-width="1.0" />
<line x1="576.7" y1="435.88" x2="580.1" y2="435.88" stroke="#555" stroke-width="1.2" />
<line x1="576.7" y1="457.36" x2="580.1" y2="457.36" stroke="#555" stroke-width="1.2" />
<line x1="593.8" y1="433.53" x2="593.8" y2="453.58" stroke="#555" stroke-width="1.0" />
<line x1="592.1" y1="433.53" x2="595.5" y2="433.53" stroke="#555" stroke-width="1.2" />
<line x1="592.1" y1="453.58" x2="595.5" y2="453.58" stroke="#555" stroke-width="1.2" />
<line x1="609.2" y1="430.25" x2="609.2" y2="438.44" stroke="#555" stroke-width="1.0" />
<line x1="607.5" y1="430.25" x2="610.9" y2="430.25" stroke="#555" stroke-width="1.2" />
<line x1="607.5" y1="438.44" x2="610.9" y2="438.44" stroke="#555" stroke-width="1.2" />
<circle cx="455.2" cy="521.3" r="2.3" stroke="#5c1a78" stroke-width="1.0" fill="#f6e6ff"/>
<circle cx="470.6" cy="515.16" r="2.3" stroke="#5c1a78" stroke-width="1.0" fill="#f6e6ff"/>
<circle cx="486" cy="503.91" r="2.3" stroke="#5c1a78" stroke-width="1.0" fill="#f6e6ff"/>
<circle cx="501.4" cy="497.77" r="2.3" stroke="#5c1a78" stroke-width="1.0" fill="#f6e6ff"/>
<circle cx="516.8" cy="459.92" r="2.3" stroke="#5c1a78" stroke-width="1.0" fill="#f6e6ff"/>
<circle cx="532.2" cy="446.62" r="2.3" stroke="#5c1a78" stroke-width="1.0" fill="#f6e6ff"/>
<circle cx="547.6" cy="429.23" r="2.3" stroke="#5c1a78" stroke-width="1.0" fill="#f6e6ff"/>
<circle cx="563" cy="429.23" r="2.3" stroke="#5c1a78" stroke-width="1.0" fill="#f6e6ff"/>
<circle cx="578.4" cy="432.81" r="2.3" stroke="#5c1a78" stroke-width="1.0" fill="#f6e6ff"/>
<circle cx="593.8" cy="426.16" r="2.3" stroke="#5c1a78" stroke-width="1.0" fill="#f6e6ff"/>
<circle cx="609.2" cy="432.81" r="2.3" stroke="#5c1a78" stroke-width="1.0" fill="#f6e6ff"/>
<circle cx="455.2" cy="521.3" r="2.3" stroke="#555" stroke-width="1.0" fill="#e0e0e0"/>
<circle cx="470.6" cy="518.54" r="2.3" stroke="#555" stroke-width="1.0" fill="#e0e0e0"/>
<circle cx="486" cy="511.58" r="2.3" stroke="#555" stroke-width="1.0" fill="#e0e0e0"/>
<circle cx="501.4" cy="496.75" r="2.3" stroke="#555" stroke-width="1.0" fill="#e0e0e0"/>
<circle cx="516.8" cy="489.59" r="2.3" stroke="#555" stroke-width="1.0" fill="#e0e0e0"/>
<circle cx="532.2" cy="472.2" r="2.3" stroke="#555" stroke-width="1.0" fill="#e0e0e0"/>
<circle cx="547.6" cy="470.15" r="2.3" stroke="#555" stroke-width="1.0" fill="#e0e0e0"/>
<circle cx="563" cy="457.87" r="2.3" stroke="#555" stroke-width="1.0" fill="#e0e0e0"/>
<circle cx="578.4" cy="446.62" r="2.3" stroke="#555" stroke-width="1.0" fill="#e0e0e0"/>
<circle cx="593.8" cy="443.55" r="2.3" stroke="#555" stroke-width="1.0" fill="#e0e0e0"/>
<circle cx="609.2" cy="434.34" r="2.3" stroke="#555" stroke-width="1.0" fill="#e0e0e0"/>
<line x1="464.2" y1="414.4" x2="484.2" y2="414.4" stroke="#3f3f3f" stroke-width="1.1" />
<circle cx="474.3" cy="414.4" r="2.2" stroke="#555" stroke-width="1.0" fill="#e0e0e0"/>
<text transform="translate(496.6 418.4) scale(1 1.06)" font-size="10.5" text-anchor="start" font-weight="normal" font-style="normal" fill="#1a1a1a" >CTL</text>
<line x1="464.8" y1="434.8" x2="485.6" y2="434.8" stroke="#5c1a78" stroke-width="1.2" />
<circle cx="475.1" cy="434.8" r="2" stroke="#5c1a78" stroke-width="1.1" fill="#f6e6ff"/>
<text transform="translate(497.2 438.6) scale(1 1.06)" font-size="10.5" text-anchor="start" font-weight="normal" font-style="normal" fill="#1a1a1a" >cKO</text>
<path d="M614.2,427.6 L619.2,427.6 L619.2,441.4 L614.2,441.4" stroke="#333" stroke-width="1.2" fill="none" />
<path d="M625.5,430.1 L625.5,435.7 M623.08,431.5 L627.92,434.3 M623.08,434.3 L627.92,431.5" stroke="#000" stroke-width="1.15" stroke-linecap="round" fill="none"/>
<circle cx="625.5" cy="432.9" r="1.06" fill="#000"/>
<line x1="100.65" y1="635.5" x2="100.65" y2="769.4" stroke="#111" stroke-width="0.9" stroke-dasharray="3,2"/>
<line x1="133.5" y1="635.5" x2="133.5" y2="769.4" stroke="#111" stroke-width="0.9" stroke-dasharray="3,2"/>
<line x1="166.35" y1="635.5" x2="166.35" y2="769.4" stroke="#111" stroke-width="0.9" stroke-dasharray="3,2"/>
<line x1="330.6" y1="635.5" x2="330.6" y2="769.4" stroke="#111" stroke-width="0.9" stroke-dasharray="3,2"/>
<line x1="363.45" y1="635.5" x2="363.45" y2="769.4" stroke="#111" stroke-width="0.9" stroke-dasharray="3,2"/>
<line x1="396.3" y1="635.5" x2="396.3" y2="769.4" stroke="#111" stroke-width="0.9" stroke-dasharray="3,2"/>
<line x1="67.8" y1="634.9" x2="67.8" y2="770" stroke="#222" stroke-width="1.2" />
<line x1="67.2" y1="769.4" x2="528.3" y2="769.4" stroke="#222" stroke-width="1.2" />
<line x1="61.8" y1="769.4" x2="67.8" y2="769.4" stroke="#222" stroke-width="1.1" />
<text transform="translate(60 773.2) scale(1 1.02)" font-size="10.6" text-anchor="end" font-weight="normal" font-style="normal" fill="#1a1a1a" >0</text>
<line x1="61.8" y1="742.62" x2="67.8" y2="742.62" stroke="#222" stroke-width="1.1" />
<text transform="translate(60 746.42) scale(1 1.02)" font-size="10.6" text-anchor="end" font-weight="normal" font-style="normal" fill="#1a1a1a" >25</text>
<line x1="61.8" y1="715.84" x2="67.8" y2="715.84" stroke="#222" stroke-width="1.1" />
<text transform="translate(60 719.64) scale(1 1.02)" font-size="10.6" text-anchor="end" font-weight="normal" font-style="normal" fill="#1a1a1a" >50</text>
<line x1="61.8" y1="689.06" x2="67.8" y2="689.06" stroke="#222" stroke-width="1.1" />
<text transform="translate(60 692.86) scale(1 1.02)" font-size="10.6" text-anchor="end" font-weight="normal" font-style="normal" fill="#1a1a1a" >75</text>
<line x1="61.8" y1="662.28" x2="67.8" y2="662.28" stroke="#222" stroke-width="1.1" />
<text transform="translate(60 666.08) scale(1 1.02)" font-size="10.6" text-anchor="end" font-weight="normal" font-style="normal" fill="#1a1a1a" >100</text>
<line x1="61.8" y1="635.5" x2="67.8" y2="635.5" stroke="#222" stroke-width="1.1" />
<text transform="translate(60 639.3) scale(1 1.02)" font-size="10.6" text-anchor="end" font-weight="normal" font-style="normal" fill="#1a1a1a" >125</text>
<line x1="67.8" y1="769.4" x2="67.8" y2="774" stroke="#222" stroke-width="1.1" />
<text transform="translate(67.8 788) scale(1 1.04)" font-size="10.8" text-anchor="middle" font-weight="normal" font-style="normal" fill="#1a1a1a" >0</text>
<line x1="100.65" y1="769.4" x2="100.65" y2="774" stroke="#222" stroke-width="1.1" />
<text transform="translate(100.65 788) scale(1 1.04)" font-size="10.8" text-anchor="middle" font-weight="normal" font-style="normal" fill="#1a1a1a" >15</text>
<line x1="133.5" y1="769.4" x2="133.5" y2="774" stroke="#222" stroke-width="1.1" />
<text transform="translate(133.5 788) scale(1 1.04)" font-size="10.8" text-anchor="middle" font-weight="normal" font-style="normal" fill="#1a1a1a" >30</text>
<line x1="166.35" y1="769.4" x2="166.35" y2="774" stroke="#222" stroke-width="1.1" />
<text transform="translate(166.35 788) scale(1 1.04)" font-size="10.8" text-anchor="middle" font-weight="normal" font-style="normal" fill="#1a1a1a" >45</text>
<line x1="199.2" y1="769.4" x2="199.2" y2="774" stroke="#222" stroke-width="1.1" />
<text transform="translate(199.2 788) scale(1 1.04)" font-size="10.8" text-anchor="middle" font-weight="normal" font-style="normal" fill="#1a1a1a" >60</text>
<line x1="232.05" y1="769.4" x2="232.05" y2="774" stroke="#222" stroke-width="1.1" />
<text transform="translate(232.05 788) scale(1 1.04)" font-size="10.8" text-anchor="middle" font-weight="normal" font-style="normal" fill="#1a1a1a" >75</text>
<line x1="264.9" y1="769.4" x2="264.9" y2="774" stroke="#222" stroke-width="1.1" />
<text transform="translate(264.9 788) scale(1 1.04)" font-size="10.8" text-anchor="middle" font-weight="normal" font-style="normal" fill="#1a1a1a" >90</text>
<line x1="297.75" y1="769.4" x2="297.75" y2="774" stroke="#222" stroke-width="1.1" />
<text transform="translate(297.75 788) scale(1 1.04)" font-size="10.8" text-anchor="middle" font-weight="normal" font-style="normal" fill="#1a1a1a" >105</text>
<line x1="330.6" y1="769.4" x2="330.6" y2="774" stroke="#222" stroke-width="1.1" />
<text transform="translate(330.6 788) scale(1 1.04)" font-size="10.8" text-anchor="middle" font-weight="normal" font-style="normal" fill="#1a1a1a" >120</text>
<line x1="363.45" y1="769.4" x2="363.45" y2="774" stroke="#222" stroke-width="1.1" />
<text transform="translate(363.45 788) scale(1 1.04)" font-size="10.8" text-anchor="middle" font-weight="normal" font-style="normal" fill="#1a1a1a" >135</text>
<line x1="396.3" y1="769.4" x2="396.3" y2="774" stroke="#222" stroke-width="1.1" />
<text transform="translate(396.3 788) scale(1 1.04)" font-size="10.8" text-anchor="middle" font-weight="normal" font-style="normal" fill="#1a1a1a" >150</text>
<line x1="429.15" y1="769.4" x2="429.15" y2="774" stroke="#222" stroke-width="1.1" />
<text transform="translate(429.15 788) scale(1 1.04)" font-size="10.8" text-anchor="middle" font-weight="normal" font-style="normal" fill="#1a1a1a" >165</text>
<line x1="462" y1="769.4" x2="462" y2="774" stroke="#222" stroke-width="1.1" />
<text transform="translate(462 788) scale(1 1.04)" font-size="10.8" text-anchor="middle" font-weight="normal" font-style="normal" fill="#1a1a1a" >180</text>
<line x1="494.85" y1="769.4" x2="494.85" y2="774" stroke="#222" stroke-width="1.1" />
<text transform="translate(494.85 788) scale(1 1.04)" font-size="10.8" text-anchor="middle" font-weight="normal" font-style="normal" fill="#1a1a1a" >195</text>
<line x1="527.7" y1="769.4" x2="527.7" y2="774" stroke="#222" stroke-width="1.1" />
<text transform="translate(527.7 788) scale(1 1.04)" font-size="10.8" text-anchor="middle" font-weight="normal" font-style="normal" fill="#1a1a1a" >210</text>
<text transform="translate(297.7 805.4) scale(1 1.03)" font-size="12.1" text-anchor="middle" font-weight="normal" font-style="normal" fill="#1a1a1a" >Time (min)</text>
<text transform="translate(19.6 704.5) rotate(-90) scale(1.1 1)" font-size="11.64" text-anchor="middle" fill="#1a1a1a"><tspan font-style="italic">f</tspan>EPSP amplitude</text>
<text transform="translate(33.2 703.1) rotate(-90) scale(1.1 1)" font-size="11.64" text-anchor="middle" fill="#1a1a1a">(% of baseline)</text>
<rect x="133.5" y="648.9" width="32.85" height="2.8" fill="#000" stroke="none" stroke-width="1"/>
<rect x="363.45" y="646.8" width="32.85" height="2.8" fill="#000" stroke="none" stroke-width="1"/>
<rect x="100.65" y="726.6" width="65.7" height="2.8" fill="#000" stroke="none" stroke-width="1"/>
<rect x="330.6" y="726.1" width="65.7" height="2.8" fill="#000" stroke="none" stroke-width="1"/>
<text transform="translate(149.93 642.2) scale(1 1.06)" font-size="11.8" text-anchor="middle" font-weight="normal" font-style="normal" fill="#1a1a1a" >LFS</text>
<text transform="translate(379.88 642.4) scale(1 1.06)" font-size="11.8" text-anchor="middle" font-weight="normal" font-style="normal" fill="#1a1a1a" >LFS</text>
<text transform="translate(133.5 747) scale(1 1.06)" font-size="11.8" text-anchor="middle" font-weight="normal" font-style="normal" fill="#1a1a1a" >MK-801</text>
<text transform="translate(133.5 759.5) scale(1 1.06)" font-size="11.8" text-anchor="middle" font-weight="normal" font-style="normal" fill="#1a1a1a" >3 µM</text>
<text transform="translate(363.45 746.8) scale(1 1.06)" font-size="11.8" text-anchor="middle" font-weight="normal" font-style="normal" fill="#1a1a1a" >DL-TBOA</text>
<text transform="translate(363.45 759.6) scale(1 1.06)" font-size="11.8" text-anchor="middle" font-weight="normal" font-style="normal" fill="#1a1a1a" >10 µM</text>
<path d="M502.7,638.3 L505.1,638.3 L505.1,643.4 L507.7,643.4 L503.9,652.1 L500.2,643.4 L502.7,643.4 Z" stroke="none" stroke-width="1" fill="#000" />
<line x1="67.8" y1="660.48" x2="67.8" y2="666.05" stroke="#5c1a78" stroke-width="0.9" />
<line x1="66.4" y1="660.48" x2="69.2" y2="660.48" stroke="#5c1a78" stroke-width="1.08" />
<line x1="66.4" y1="666.05" x2="69.2" y2="666.05" stroke="#5c1a78" stroke-width="1.08" />
<line x1="69.99" y1="658.78" x2="69.99" y2="664.35" stroke="#5c1a78" stroke-width="0.9" />
<line x1="68.59" y1="658.78" x2="71.39" y2="658.78" stroke="#5c1a78" stroke-width="1.08" />
<line x1="68.59" y1="664.35" x2="71.39" y2="664.35" stroke="#5c1a78" stroke-width="1.08" />
<line x1="72.18" y1="659.02" x2="72.18" y2="664.59" stroke="#5c1a78" stroke-width="0.9" />
<line x1="70.78" y1="659.02" x2="73.58" y2="659.02" stroke="#5c1a78" stroke-width="1.08" />
<line x1="70.78" y1="664.59" x2="73.58" y2="664.59" stroke="#5c1a78" stroke-width="1.08" />
<line x1="74.37" y1="657.18" x2="74.37" y2="662.75" stroke="#5c1a78" stroke-width="0.9" />
<line x1="72.97" y1="657.18" x2="75.77" y2="657.18" stroke="#5c1a78" stroke-width="1.08" />
<line x1="72.97" y1="662.75" x2="75.77" y2="662.75" stroke="#5c1a78" stroke-width="1.08" />
<line x1="76.56" y1="658.86" x2="76.56" y2="664.43" stroke="#5c1a78" stroke-width="0.9" />
<line x1="75.16" y1="658.86" x2="77.96" y2="658.86" stroke="#5c1a78" stroke-width="1.08" />
<line x1="75.16" y1="664.43" x2="77.96" y2="664.43" stroke="#5c1a78" stroke-width="1.08" />
<line x1="78.75" y1="659.74" x2="78.75" y2="665.31" stroke="#5c1a78" stroke-width="0.9" />
<line x1="77.35" y1="659.74" x2="80.15" y2="659.74" stroke="#5c1a78" stroke-width="1.08" />
<line x1="77.35" y1="665.31" x2="80.15" y2="665.31" stroke="#5c1a78" stroke-width="1.08" />
<line x1="80.94" y1="659.55" x2="80.94" y2="665.12" stroke="#5c1a78" stroke-width="0.9" />
<line x1="79.54" y1="659.55" x2="82.34" y2="659.55" stroke="#5c1a78" stroke-width="1.08" />
<line x1="79.54" y1="665.12" x2="82.34" y2="665.12" stroke="#5c1a78" stroke-width="1.08" />
<line x1="83.13" y1="660.16" x2="83.13" y2="665.73" stroke="#5c1a78" stroke-width="0.9" />
<line x1="81.73" y1="660.16" x2="84.53" y2="660.16" stroke="#5c1a78" stroke-width="1.08" />
<line x1="81.73" y1="665.73" x2="84.53" y2="665.73" stroke="#5c1a78" stroke-width="1.08" />
<line x1="85.32" y1="659.98" x2="85.32" y2="665.55" stroke="#5c1a78" stroke-width="0.9" />
<line x1="83.92" y1="659.98" x2="86.72" y2="659.98" stroke="#5c1a78" stroke-width="1.08" />
<line x1="83.92" y1="665.55" x2="86.72" y2="665.55" stroke="#5c1a78" stroke-width="1.08" />
<line x1="87.51" y1="662.44" x2="87.51" y2="668.01" stroke="#5c1a78" stroke-width="0.9" />
<line x1="86.11" y1="662.44" x2="88.91" y2="662.44" stroke="#5c1a78" stroke-width="1.08" />
<line x1="86.11" y1="668.01" x2="88.91" y2="668.01" stroke="#5c1a78" stroke-width="1.08" />
<line x1="89.7" y1="660.53" x2="89.7" y2="666.1" stroke="#5c1a78" stroke-width="0.9" />
<line x1="88.3" y1="660.53" x2="91.1" y2="660.53" stroke="#5c1a78" stroke-width="1.08" />
<line x1="88.3" y1="666.1" x2="91.1" y2="666.1" stroke="#5c1a78" stroke-width="1.08" />
<line x1="91.89" y1="660.42" x2="91.89" y2="666" stroke="#5c1a78" stroke-width="0.9" />
<line x1="90.49" y1="660.42" x2="93.29" y2="660.42" stroke="#5c1a78" stroke-width="1.08" />
<line x1="90.49" y1="666" x2="93.29" y2="666" stroke="#5c1a78" stroke-width="1.08" />
<line x1="94.08" y1="660.22" x2="94.08" y2="665.79" stroke="#5c1a78" stroke-width="0.9" />
<line x1="92.68" y1="660.22" x2="95.48" y2="660.22" stroke="#5c1a78" stroke-width="1.08" />
<line x1="92.68" y1="665.79" x2="95.48" y2="665.79" stroke="#5c1a78" stroke-width="1.08" />
<line x1="96.27" y1="659.85" x2="96.27" y2="665.42" stroke="#5c1a78" stroke-width="0.9" />
<line x1="94.87" y1="659.85" x2="97.67" y2="659.85" stroke="#5c1a78" stroke-width="1.08" />
<line x1="94.87" y1="665.42" x2="97.67" y2="665.42" stroke="#5c1a78" stroke-width="1.08" />
<line x1="98.46" y1="659.24" x2="98.46" y2="664.81" stroke="#5c1a78" stroke-width="0.9" />
<line x1="97.06" y1="659.24" x2="99.86" y2="659.24" stroke="#5c1a78" stroke-width="1.08" />
<line x1="97.06" y1="664.81" x2="99.86" y2="664.81" stroke="#5c1a78" stroke-width="1.08" />
<line x1="100.65" y1="659.95" x2="100.65" y2="665.52" stroke="#5c1a78" stroke-width="0.9" />
<line x1="99.25" y1="659.95" x2="102.05" y2="659.95" stroke="#5c1a78" stroke-width="1.08" />
<line x1="99.25" y1="665.52" x2="102.05" y2="665.52" stroke="#5c1a78" stroke-width="1.08" />
<line x1="102.84" y1="657.59" x2="102.84" y2="663.16" stroke="#5c1a78" stroke-width="0.9" />
<line x1="101.44" y1="657.59" x2="104.24" y2="657.59" stroke="#5c1a78" stroke-width="1.08" />
<line x1="101.44" y1="663.16" x2="104.24" y2="663.16" stroke="#5c1a78" stroke-width="1.08" />
<line x1="105.03" y1="659.97" x2="105.03" y2="665.54" stroke="#5c1a78" stroke-width="0.9" />
<line x1="103.63" y1="659.97" x2="106.43" y2="659.97" stroke="#5c1a78" stroke-width="1.08" />
<line x1="103.63" y1="665.54" x2="106.43" y2="665.54" stroke="#5c1a78" stroke-width="1.08" />
<line x1="107.22" y1="657.65" x2="107.22" y2="663.22" stroke="#5c1a78" stroke-width="0.9" />
<line x1="105.82" y1="657.65" x2="108.62" y2="657.65" stroke="#5c1a78" stroke-width="1.08" />
<line x1="105.82" y1="663.22" x2="108.62" y2="663.22" stroke="#5c1a78" stroke-width="1.08" />
<line x1="109.41" y1="661.63" x2="109.41" y2="667.2" stroke="#5c1a78" stroke-width="0.9" />
<line x1="108.01" y1="661.63" x2="110.81" y2="661.63" stroke="#5c1a78" stroke-width="1.08" />
<line x1="108.01" y1="667.2" x2="110.81" y2="667.2" stroke="#5c1a78" stroke-width="1.08" />
<line x1="111.6" y1="659.94" x2="111.6" y2="665.51" stroke="#5c1a78" stroke-width="0.9" />
<line x1="110.2" y1="659.94" x2="113" y2="659.94" stroke="#5c1a78" stroke-width="1.08" />
<line x1="110.2" y1="665.51" x2="113" y2="665.51" stroke="#5c1a78" stroke-width="1.08" />
<line x1="113.79" y1="658.56" x2="113.79" y2="664.13" stroke="#5c1a78" stroke-width="0.9" />
<line x1="112.39" y1="658.56" x2="115.19" y2="658.56" stroke="#5c1a78" stroke-width="1.08" />
<line x1="112.39" y1="664.13" x2="115.19" y2="664.13" stroke="#5c1a78" stroke-width="1.08" />
<line x1="115.98" y1="658.17" x2="115.98" y2="663.74" stroke="#5c1a78" stroke-width="0.9" />
<line x1="114.58" y1="658.17" x2="117.38" y2="658.17" stroke="#5c1a78" stroke-width="1.08" />
<line x1="114.58" y1="663.74" x2="117.38" y2="663.74" stroke="#5c1a78" stroke-width="1.08" />
<line x1="118.17" y1="656.78" x2="118.17" y2="662.35" stroke="#5c1a78" stroke-width="0.9" />
<line x1="116.77" y1="656.78" x2="119.57" y2="656.78" stroke="#5c1a78" stroke-width="1.08" />
<line x1="116.77" y1="662.35" x2="119.57" y2="662.35" stroke="#5c1a78" stroke-width="1.08" />
<line x1="120.36" y1="657.33" x2="120.36" y2="662.9" stroke="#5c1a78" stroke-width="0.9" />
<line x1="118.96" y1="657.33" x2="121.76" y2="657.33" stroke="#5c1a78" stroke-width="1.08" />
<line x1="118.96" y1="662.9" x2="121.76" y2="662.9" stroke="#5c1a78" stroke-width="1.08" />
<line x1="122.55" y1="656.46" x2="122.55" y2="662.03" stroke="#5c1a78" stroke-width="0.9" />
<line x1="121.15" y1="656.46" x2="123.95" y2="656.46" stroke="#5c1a78" stroke-width="1.08" />
<line x1="121.15" y1="662.03" x2="123.95" y2="662.03" stroke="#5c1a78" stroke-width="1.08" />
<line x1="124.74" y1="657.71" x2="124.74" y2="663.28" stroke="#5c1a78" stroke-width="0.9" />
<line x1="123.34" y1="657.71" x2="126.14" y2="657.71" stroke="#5c1a78" stroke-width="1.08" />
<line x1="123.34" y1="663.28" x2="126.14" y2="663.28" stroke="#5c1a78" stroke-width="1.08" />
<line x1="126.93" y1="655.65" x2="126.93" y2="661.22" stroke="#5c1a78" stroke-width="0.9" />
<line x1="125.53" y1="655.65" x2="128.33" y2="655.65" stroke="#5c1a78" stroke-width="1.08" />
<line x1="125.53" y1="661.22" x2="128.33" y2="661.22" stroke="#5c1a78" stroke-width="1.08" />
<line x1="129.12" y1="656.56" x2="129.12" y2="662.13" stroke="#5c1a78" stroke-width="0.9" />
<line x1="127.72" y1="656.56" x2="130.52" y2="656.56" stroke="#5c1a78" stroke-width="1.08" />
<line x1="127.72" y1="662.13" x2="130.52" y2="662.13" stroke="#5c1a78" stroke-width="1.08" />
<line x1="131.31" y1="655.77" x2="131.31" y2="661.34" stroke="#5c1a78" stroke-width="0.9" />
<line x1="129.91" y1="655.77" x2="132.71" y2="655.77" stroke="#5c1a78" stroke-width="1.08" />
<line x1="129.91" y1="661.34" x2="132.71" y2="661.34" stroke="#5c1a78" stroke-width="1.08" />
<line x1="133.5" y1="656.86" x2="133.5" y2="662.43" stroke="#5c1a78" stroke-width="0.9" />
<line x1="132.1" y1="656.86" x2="134.9" y2="656.86" stroke="#5c1a78" stroke-width="1.08" />
<line x1="132.1" y1="662.43" x2="134.9" y2="662.43" stroke="#5c1a78" stroke-width="1.08" />
<line x1="166.35" y1="667.6" x2="166.35" y2="695.4" stroke="#5c1a78" stroke-width="0.9" />
<line x1="164.95" y1="667.6" x2="167.75" y2="667.6" stroke="#5c1a78" stroke-width="1.08" />
<line x1="164.95" y1="695.4" x2="167.75" y2="695.4" stroke="#5c1a78" stroke-width="1.08" />
<line x1="168.54" y1="661.76" x2="168.54" y2="690.28" stroke="#5c1a78" stroke-width="0.9" />
<line x1="167.14" y1="661.76" x2="169.94" y2="661.76" stroke="#5c1a78" stroke-width="1.08" />
<line x1="167.14" y1="690.28" x2="169.94" y2="690.28" stroke="#5c1a78" stroke-width="1.08" />
<line x1="170.73" y1="660.55" x2="170.73" y2="683.67" stroke="#5c1a78" stroke-width="0.9" />
<line x1="169.33" y1="660.55" x2="172.13" y2="660.55" stroke="#5c1a78" stroke-width="1.08" />
<line x1="169.33" y1="683.67" x2="172.13" y2="683.67" stroke="#5c1a78" stroke-width="1.08" />
<line x1="172.92" y1="665.87" x2="172.92" y2="685.11" stroke="#5c1a78" stroke-width="0.9" />
<line x1="171.52" y1="665.87" x2="174.32" y2="665.87" stroke="#5c1a78" stroke-width="1.08" />
<line x1="171.52" y1="685.11" x2="174.32" y2="685.11" stroke="#5c1a78" stroke-width="1.08" />
<line x1="175.11" y1="659.73" x2="175.11" y2="681.49" stroke="#5c1a78" stroke-width="0.9" />
<line x1="173.71" y1="659.73" x2="176.51" y2="659.73" stroke="#5c1a78" stroke-width="1.08" />
<line x1="173.71" y1="681.49" x2="176.51" y2="681.49" stroke="#5c1a78" stroke-width="1.08" />
<line x1="177.3" y1="660.56" x2="177.3" y2="677.27" stroke="#5c1a78" stroke-width="0.9" />
<line x1="175.9" y1="660.56" x2="178.7" y2="660.56" stroke="#5c1a78" stroke-width="1.08" />
<line x1="175.9" y1="677.27" x2="178.7" y2="677.27" stroke="#5c1a78" stroke-width="1.08" />
<line x1="179.49" y1="660.9" x2="179.49" y2="680.02" stroke="#5c1a78" stroke-width="0.9" />
<line x1="178.09" y1="660.9" x2="180.89" y2="660.9" stroke="#5c1a78" stroke-width="1.08" />
<line x1="178.09" y1="680.02" x2="180.89" y2="680.02" stroke="#5c1a78" stroke-width="1.08" />
<line x1="181.68" y1="660.81" x2="181.68" y2="675.37" stroke="#5c1a78" stroke-width="0.9" />
<line x1="180.28" y1="660.81" x2="183.08" y2="660.81" stroke="#5c1a78" stroke-width="1.08" />
<line x1="180.28" y1="675.37" x2="183.08" y2="675.37" stroke="#5c1a78" stroke-width="1.08" />
<line x1="183.87" y1="658.51" x2="183.87" y2="678.73" stroke="#5c1a78" stroke-width="0.9" />
<line x1="182.47" y1="658.51" x2="185.27" y2="658.51" stroke="#5c1a78" stroke-width="1.08" />
<line x1="182.47" y1="678.73" x2="185.27" y2="678.73" stroke="#5c1a78" stroke-width="1.08" />
<line x1="186.06" y1="658.62" x2="186.06" y2="670.21" stroke="#5c1a78" stroke-width="0.9" />
<line x1="184.66" y1="658.62" x2="187.46" y2="658.62" stroke="#5c1a78" stroke-width="1.08" />
<line x1="184.66" y1="670.21" x2="187.46" y2="670.21" stroke="#5c1a78" stroke-width="1.08" />
<line x1="188.25" y1="661.02" x2="188.25" y2="674.32" stroke="#5c1a78" stroke-width="0.9" />
<line x1="186.85" y1="661.02" x2="189.65" y2="661.02" stroke="#5c1a78" stroke-width="1.08" />
<line x1="186.85" y1="674.32" x2="189.65" y2="674.32" stroke="#5c1a78" stroke-width="1.08" />
<line x1="190.44" y1="656.08" x2="190.44" y2="668.05" stroke="#5c1a78" stroke-width="0.9" />
<line x1="189.04" y1="656.08" x2="191.84" y2="656.08" stroke="#5c1a78" stroke-width="1.08" />
<line x1="189.04" y1="668.05" x2="191.84" y2="668.05" stroke="#5c1a78" stroke-width="1.08" />
<line x1="192.63" y1="658.83" x2="192.63" y2="669.46" stroke="#5c1a78" stroke-width="0.9" />
<line x1="191.23" y1="658.83" x2="194.03" y2="658.83" stroke="#5c1a78" stroke-width="1.08" />
<line x1="191.23" y1="669.46" x2="194.03" y2="669.46" stroke="#5c1a78" stroke-width="1.08" />
<line x1="194.82" y1="659.67" x2="194.82" y2="671.99" stroke="#5c1a78" stroke-width="0.9" />
<line x1="193.42" y1="659.67" x2="196.22" y2="659.67" stroke="#5c1a78" stroke-width="1.08" />
<line x1="193.42" y1="671.99" x2="196.22" y2="671.99" stroke="#5c1a78" stroke-width="1.08" />
<line x1="197.01" y1="655.94" x2="197.01" y2="668.55" stroke="#5c1a78" stroke-width="0.9" />
<line x1="195.61" y1="655.94" x2="198.41" y2="655.94" stroke="#5c1a78" stroke-width="1.08" />
<line x1="195.61" y1="668.55" x2="198.41" y2="668.55" stroke="#5c1a78" stroke-width="1.08" />
<line x1="199.2" y1="656.7" x2="199.2" y2="664.98" stroke="#5c1a78" stroke-width="0.9" />
<line x1="197.8" y1="656.7" x2="200.6" y2="656.7" stroke="#5c1a78" stroke-width="1.08" />
<line x1="197.8" y1="664.98" x2="200.6" y2="664.98" stroke="#5c1a78" stroke-width="1.08" />
<line x1="201.39" y1="660.75" x2="201.39" y2="669.02" stroke="#5c1a78" stroke-width="0.9" />
<line x1="199.99" y1="660.75" x2="202.79" y2="660.75" stroke="#5c1a78" stroke-width="1.08" />
<line x1="199.99" y1="669.02" x2="202.79" y2="669.02" stroke="#5c1a78" stroke-width="1.08" />
<line x1="203.58" y1="658.84" x2="203.58" y2="667.36" stroke="#5c1a78" stroke-width="0.9" />
<line x1="202.18" y1="658.84" x2="204.98" y2="658.84" stroke="#5c1a78" stroke-width="1.08" />
<line x1="202.18" y1="667.36" x2="204.98" y2="667.36" stroke="#5c1a78" stroke-width="1.08" />
<line x1="205.77" y1="656.2" x2="205.77" y2="664.57" stroke="#5c1a78" stroke-width="0.9" />
<line x1="204.37" y1="656.2" x2="207.17" y2="656.2" stroke="#5c1a78" stroke-width="1.08" />
<line x1="204.37" y1="664.57" x2="207.17" y2="664.57" stroke="#5c1a78" stroke-width="1.08" />
<line x1="207.96" y1="657.87" x2="207.96" y2="666.24" stroke="#5c1a78" stroke-width="0.9" />
<line x1="206.56" y1="657.87" x2="209.36" y2="657.87" stroke="#5c1a78" stroke-width="1.08" />
<line x1="206.56" y1="666.24" x2="209.36" y2="666.24" stroke="#5c1a78" stroke-width="1.08" />
<line x1="210.15" y1="660" x2="210.15" y2="670.56" stroke="#5c1a78" stroke-width="0.9" />
<line x1="208.75" y1="660" x2="211.55" y2="660" stroke="#5c1a78" stroke-width="1.08" />
<line x1="208.75" y1="670.56" x2="211.55" y2="670.56" stroke="#5c1a78" stroke-width="1.08" />
<line x1="212.34" y1="660.29" x2="212.34" y2="670.97" stroke="#5c1a78" stroke-width="0.9" />
<line x1="210.94" y1="660.29" x2="213.74" y2="660.29" stroke="#5c1a78" stroke-width="1.08" />
<line x1="210.94" y1="670.97" x2="213.74" y2="670.97" stroke="#5c1a78" stroke-width="1.08" />
<line x1="214.53" y1="660" x2="214.53" y2="669.74" stroke="#5c1a78" stroke-width="0.9" />
<line x1="213.13" y1="660" x2="215.93" y2="660" stroke="#5c1a78" stroke-width="1.08" />
<line x1="213.13" y1="669.74" x2="215.93" y2="669.74" stroke="#5c1a78" stroke-width="1.08" />
<line x1="216.72" y1="659.26" x2="216.72" y2="671.95" stroke="#5c1a78" stroke-width="0.9" />
<line x1="215.32" y1="659.26" x2="218.12" y2="659.26" stroke="#5c1a78" stroke-width="1.08" />
<line x1="215.32" y1="671.95" x2="218.12" y2="671.95" stroke="#5c1a78" stroke-width="1.08" />
<line x1="218.91" y1="659.65" x2="218.91" y2="666.51" stroke="#5c1a78" stroke-width="0.9" />
<line x1="217.51" y1="659.65" x2="220.31" y2="659.65" stroke="#5c1a78" stroke-width="1.08" />
<line x1="217.51" y1="666.51" x2="220.31" y2="666.51" stroke="#5c1a78" stroke-width="1.08" />
<line x1="221.1" y1="663.64" x2="221.1" y2="671.27" stroke="#5c1a78" stroke-width="0.9" />
<line x1="219.7" y1="663.64" x2="222.5" y2="663.64" stroke="#5c1a78" stroke-width="1.08" />
<line x1="219.7" y1="671.27" x2="222.5" y2="671.27" stroke="#5c1a78" stroke-width="1.08" />
<line x1="223.29" y1="660.94" x2="223.29" y2="670.43" stroke="#5c1a78" stroke-width="0.9" />
<line x1="221.89" y1="660.94" x2="224.69" y2="660.94" stroke="#5c1a78" stroke-width="1.08" />
<line x1="221.89" y1="670.43" x2="224.69" y2="670.43" stroke="#5c1a78" stroke-width="1.08" />
<line x1="225.48" y1="660.47" x2="225.48" y2="670.88" stroke="#5c1a78" stroke-width="0.9" />
<line x1="224.08" y1="660.47" x2="226.88" y2="660.47" stroke="#5c1a78" stroke-width="1.08" />
<line x1="224.08" y1="670.88" x2="226.88" y2="670.88" stroke="#5c1a78" stroke-width="1.08" />
<line x1="227.67" y1="656.57" x2="227.67" y2="663.88" stroke="#5c1a78" stroke-width="0.9" />
<line x1="226.27" y1="656.57" x2="229.07" y2="656.57" stroke="#5c1a78" stroke-width="1.08" />
<line x1="226.27" y1="663.88" x2="229.07" y2="663.88" stroke="#5c1a78" stroke-width="1.08" />
<line x1="229.86" y1="656.64" x2="229.86" y2="667.18" stroke="#5c1a78" stroke-width="0.9" />
<line x1="228.46" y1="656.64" x2="231.26" y2="656.64" stroke="#5c1a78" stroke-width="1.08" />
<line x1="228.46" y1="667.18" x2="231.26" y2="667.18" stroke="#5c1a78" stroke-width="1.08" />
<line x1="232.05" y1="658.57" x2="232.05" y2="668.66" stroke="#5c1a78" stroke-width="0.9" />
<line x1="230.65" y1="658.57" x2="233.45" y2="658.57" stroke="#5c1a78" stroke-width="1.08" />
<line x1="230.65" y1="668.66" x2="233.45" y2="668.66" stroke="#5c1a78" stroke-width="1.08" />
<line x1="234.24" y1="656.83" x2="234.24" y2="666.39" stroke="#5c1a78" stroke-width="0.9" />
<line x1="232.84" y1="656.83" x2="235.64" y2="656.83" stroke="#5c1a78" stroke-width="1.08" />
<line x1="232.84" y1="666.39" x2="235.64" y2="666.39" stroke="#5c1a78" stroke-width="1.08" />
<line x1="236.43" y1="658.16" x2="236.43" y2="667.47" stroke="#5c1a78" stroke-width="0.9" />
<line x1="235.03" y1="658.16" x2="237.83" y2="658.16" stroke="#5c1a78" stroke-width="1.08" />
<line x1="235.03" y1="667.47" x2="237.83" y2="667.47" stroke="#5c1a78" stroke-width="1.08" />
<line x1="238.62" y1="656.22" x2="238.62" y2="662.65" stroke="#5c1a78" stroke-width="0.9" />
<line x1="237.22" y1="656.22" x2="240.02" y2="656.22" stroke="#5c1a78" stroke-width="1.08" />
<line x1="237.22" y1="662.65" x2="240.02" y2="662.65" stroke="#5c1a78" stroke-width="1.08" />
<line x1="240.81" y1="653.98" x2="240.81" y2="663.97" stroke="#5c1a78" stroke-width="0.9" />
<line x1="239.41" y1="653.98" x2="242.21" y2="653.98" stroke="#5c1a78" stroke-width="1.08" />
<line x1="239.41" y1="663.97" x2="242.21" y2="663.97" stroke="#5c1a78" stroke-width="1.08" />
<line x1="243" y1="656.28" x2="243" y2="662.74" stroke="#5c1a78" stroke-width="0.9" />
<line x1="241.6" y1="656.28" x2="244.4" y2="656.28" stroke="#5c1a78" stroke-width="1.08" />
<line x1="241.6" y1="662.74" x2="244.4" y2="662.74" stroke="#5c1a78" stroke-width="1.08" />
<line x1="245.19" y1="655.04" x2="245.19" y2="662.64" stroke="#5c1a78" stroke-width="0.9" />
<line x1="243.79" y1="655.04" x2="246.59" y2="655.04" stroke="#5c1a78" stroke-width="1.08" />
<line x1="243.79" y1="662.64" x2="246.59" y2="662.64" stroke="#5c1a78" stroke-width="1.08" />
<line x1="247.38" y1="656.43" x2="247.38" y2="663.07" stroke="#5c1a78" stroke-width="0.9" />
<line x1="245.98" y1="656.43" x2="248.78" y2="656.43" stroke="#5c1a78" stroke-width="1.08" />
<line x1="245.98" y1="663.07" x2="248.78" y2="663.07" stroke="#5c1a78" stroke-width="1.08" />
<line x1="249.57" y1="652.33" x2="249.57" y2="663.95" stroke="#5c1a78" stroke-width="0.9" />
<line x1="248.17" y1="652.33" x2="250.97" y2="652.33" stroke="#5c1a78" stroke-width="1.08" />
<line x1="248.17" y1="663.95" x2="250.97" y2="663.95" stroke="#5c1a78" stroke-width="1.08" />
<line x1="251.76" y1="654.24" x2="251.76" y2="662.91" stroke="#5c1a78" stroke-width="0.9" />
<line x1="250.36" y1="654.24" x2="253.16" y2="654.24" stroke="#5c1a78" stroke-width="1.08" />
<line x1="250.36" y1="662.91" x2="253.16" y2="662.91" stroke="#5c1a78" stroke-width="1.08" />
<line x1="253.95" y1="655.25" x2="253.95" y2="661.81" stroke="#5c1a78" stroke-width="0.9" />
<line x1="252.55" y1="655.25" x2="255.35" y2="655.25" stroke="#5c1a78" stroke-width="1.08" />
<line x1="252.55" y1="661.81" x2="255.35" y2="661.81" stroke="#5c1a78" stroke-width="1.08" />
<line x1="256.14" y1="656.07" x2="256.14" y2="662.78" stroke="#5c1a78" stroke-width="0.9" />
<line x1="254.74" y1="656.07" x2="257.54" y2="656.07" stroke="#5c1a78" stroke-width="1.08" />
<line x1="254.74" y1="662.78" x2="257.54" y2="662.78" stroke="#5c1a78" stroke-width="1.08" />
<line x1="258.33" y1="653.31" x2="258.33" y2="661.79" stroke="#5c1a78" stroke-width="0.9" />
<line x1="256.93" y1="653.31" x2="259.73" y2="653.31" stroke="#5c1a78" stroke-width="1.08" />
<line x1="256.93" y1="661.79" x2="259.73" y2="661.79" stroke="#5c1a78" stroke-width="1.08" />
<line x1="260.52" y1="655.09" x2="260.52" y2="662.17" stroke="#5c1a78" stroke-width="0.9" />
<line x1="259.12" y1="655.09" x2="261.92" y2="655.09" stroke="#5c1a78" stroke-width="1.08" />
<line x1="259.12" y1="662.17" x2="261.92" y2="662.17" stroke="#5c1a78" stroke-width="1.08" />
<line x1="262.71" y1="650.61" x2="262.71" y2="658.44" stroke="#5c1a78" stroke-width="0.9" />
<line x1="261.31" y1="650.61" x2="264.11" y2="650.61" stroke="#5c1a78" stroke-width="1.08" />
<line x1="261.31" y1="658.44" x2="264.11" y2="658.44" stroke="#5c1a78" stroke-width="1.08" />
<line x1="264.9" y1="654.9" x2="264.9" y2="661" stroke="#5c1a78" stroke-width="0.9" />
<line x1="263.5" y1="654.9" x2="266.3" y2="654.9" stroke="#5c1a78" stroke-width="1.08" />
<line x1="263.5" y1="661" x2="266.3" y2="661" stroke="#5c1a78" stroke-width="1.08" />
<line x1="267.09" y1="655.14" x2="267.09" y2="662.11" stroke="#5c1a78" stroke-width="0.9" />
<line x1="265.69" y1="655.14" x2="268.49" y2="655.14" stroke="#5c1a78" stroke-width="1.08" />
<line x1="265.69" y1="662.11" x2="268.49" y2="662.11" stroke="#5c1a78" stroke-width="1.08" />
<line x1="269.28" y1="655.18" x2="269.28" y2="663.13" stroke="#5c1a78" stroke-width="0.9" />
<line x1="267.88" y1="655.18" x2="270.68" y2="655.18" stroke="#5c1a78" stroke-width="1.08" />
<line x1="267.88" y1="663.13" x2="270.68" y2="663.13" stroke="#5c1a78" stroke-width="1.08" />
<line x1="271.47" y1="653.59" x2="271.47" y2="660.04" stroke="#5c1a78" stroke-width="0.9" />
<line x1="270.07" y1="653.59" x2="272.87" y2="653.59" stroke="#5c1a78" stroke-width="1.08" />
<line x1="270.07" y1="660.04" x2="272.87" y2="660.04" stroke="#5c1a78" stroke-width="1.08" />
<line x1="273.66" y1="655.53" x2="273.66" y2="662.67" stroke="#5c1a78" stroke-width="0.9" />
<line x1="272.26" y1="655.53" x2="275.06" y2="655.53" stroke="#5c1a78" stroke-width="1.08" />
<line x1="272.26" y1="662.67" x2="275.06" y2="662.67" stroke="#5c1a78" stroke-width="1.08" />
<line x1="275.85" y1="655.74" x2="275.85" y2="662.89" stroke="#5c1a78" stroke-width="0.9" />
<line x1="274.45" y1="655.74" x2="277.25" y2="655.74" stroke="#5c1a78" stroke-width="1.08" />
<line x1="274.45" y1="662.89" x2="277.25" y2="662.89" stroke="#5c1a78" stroke-width="1.08" />
<line x1="278.04" y1="654.24" x2="278.04" y2="663.11" stroke="#5c1a78" stroke-width="0.9" />
<line x1="276.64" y1="654.24" x2="279.44" y2="654.24" stroke="#5c1a78" stroke-width="1.08" />
<line x1="276.64" y1="663.11" x2="279.44" y2="663.11" stroke="#5c1a78" stroke-width="1.08" />
<line x1="280.23" y1="656.08" x2="280.23" y2="662.84" stroke="#5c1a78" stroke-width="0.9" />
<line x1="278.83" y1="656.08" x2="281.63" y2="656.08" stroke="#5c1a78" stroke-width="1.08" />
<line x1="278.83" y1="662.84" x2="281.63" y2="662.84" stroke="#5c1a78" stroke-width="1.08" />
<line x1="282.42" y1="653.58" x2="282.42" y2="659.85" stroke="#5c1a78" stroke-width="0.9" />
<line x1="281.02" y1="653.58" x2="283.82" y2="653.58" stroke="#5c1a78" stroke-width="1.08" />
<line x1="281.02" y1="659.85" x2="283.82" y2="659.85" stroke="#5c1a78" stroke-width="1.08" />
<line x1="284.61" y1="654.32" x2="284.61" y2="662.22" stroke="#5c1a78" stroke-width="0.9" />
<line x1="283.21" y1="654.32" x2="286.01" y2="654.32" stroke="#5c1a78" stroke-width="1.08" />
<line x1="283.21" y1="662.22" x2="286.01" y2="662.22" stroke="#5c1a78" stroke-width="1.08" />
<line x1="286.8" y1="654.3" x2="286.8" y2="660.45" stroke="#5c1a78" stroke-width="0.9" />
<line x1="285.4" y1="654.3" x2="288.2" y2="654.3" stroke="#5c1a78" stroke-width="1.08" />
<line x1="285.4" y1="660.45" x2="288.2" y2="660.45" stroke="#5c1a78" stroke-width="1.08" />
<line x1="288.99" y1="655.11" x2="288.99" y2="663.88" stroke="#5c1a78" stroke-width="0.9" />
<line x1="287.59" y1="655.11" x2="290.39" y2="655.11" stroke="#5c1a78" stroke-width="1.08" />
<line x1="287.59" y1="663.88" x2="290.39" y2="663.88" stroke="#5c1a78" stroke-width="1.08" />
<line x1="291.18" y1="653.97" x2="291.18" y2="662.14" stroke="#5c1a78" stroke-width="0.9" />
<line x1="289.78" y1="653.97" x2="292.58" y2="653.97" stroke="#5c1a78" stroke-width="1.08" />
<line x1="289.78" y1="662.14" x2="292.58" y2="662.14" stroke="#5c1a78" stroke-width="1.08" />
<line x1="293.37" y1="653.91" x2="293.37" y2="662.94" stroke="#5c1a78" stroke-width="0.9" />
<line x1="291.97" y1="653.91" x2="294.77" y2="653.91" stroke="#5c1a78" stroke-width="1.08" />
<line x1="291.97" y1="662.94" x2="294.77" y2="662.94" stroke="#5c1a78" stroke-width="1.08" />
<line x1="295.56" y1="653.07" x2="295.56" y2="662.5" stroke="#5c1a78" stroke-width="0.9" />
<line x1="294.16" y1="653.07" x2="296.96" y2="653.07" stroke="#5c1a78" stroke-width="1.08" />
<line x1="294.16" y1="662.5" x2="296.96" y2="662.5" stroke="#5c1a78" stroke-width="1.08" />
<line x1="297.75" y1="656.72" x2="297.75" y2="664.3" stroke="#5c1a78" stroke-width="0.9" />
<line x1="296.35" y1="656.72" x2="299.15" y2="656.72" stroke="#5c1a78" stroke-width="1.08" />
<line x1="296.35" y1="664.3" x2="299.15" y2="664.3" stroke="#5c1a78" stroke-width="1.08" />
<line x1="299.94" y1="651.71" x2="299.94" y2="658.12" stroke="#5c1a78" stroke-width="0.9" />
<line x1="298.54" y1="651.71" x2="301.34" y2="651.71" stroke="#5c1a78" stroke-width="1.08" />
<line x1="298.54" y1="658.12" x2="301.34" y2="658.12" stroke="#5c1a78" stroke-width="1.08" />
<line x1="302.13" y1="652.88" x2="302.13" y2="662.39" stroke="#5c1a78" stroke-width="0.9" />
<line x1="300.73" y1="652.88" x2="303.53" y2="652.88" stroke="#5c1a78" stroke-width="1.08" />
<line x1="300.73" y1="662.39" x2="303.53" y2="662.39" stroke="#5c1a78" stroke-width="1.08" />
<line x1="304.32" y1="654.12" x2="304.32" y2="661.81" stroke="#5c1a78" stroke-width="0.9" />
<line x1="302.92" y1="654.12" x2="305.72" y2="654.12" stroke="#5c1a78" stroke-width="1.08" />
<line x1="302.92" y1="661.81" x2="305.72" y2="661.81" stroke="#5c1a78" stroke-width="1.08" />
<line x1="306.51" y1="652.13" x2="306.51" y2="662.77" stroke="#5c1a78" stroke-width="0.9" />
<line x1="305.11" y1="652.13" x2="307.91" y2="652.13" stroke="#5c1a78" stroke-width="1.08" />
<line x1="305.11" y1="662.77" x2="307.91" y2="662.77" stroke="#5c1a78" stroke-width="1.08" />
<line x1="308.7" y1="652.68" x2="308.7" y2="661.26" stroke="#5c1a78" stroke-width="0.9" />
<line x1="307.3" y1="652.68" x2="310.1" y2="652.68" stroke="#5c1a78" stroke-width="1.08" />
<line x1="307.3" y1="661.26" x2="310.1" y2="661.26" stroke="#5c1a78" stroke-width="1.08" />
<line x1="310.89" y1="652.2" x2="310.89" y2="658.96" stroke="#5c1a78" stroke-width="0.9" />
<line x1="309.49" y1="652.2" x2="312.29" y2="652.2" stroke="#5c1a78" stroke-width="1.08" />
<line x1="309.49" y1="658.96" x2="312.29" y2="658.96" stroke="#5c1a78" stroke-width="1.08" />
<line x1="313.08" y1="654.24" x2="313.08" y2="660.27" stroke="#5c1a78" stroke-width="0.9" />
<line x1="311.68" y1="654.24" x2="314.48" y2="654.24" stroke="#5c1a78" stroke-width="1.08" />
<line x1="311.68" y1="660.27" x2="314.48" y2="660.27" stroke="#5c1a78" stroke-width="1.08" />
<line x1="315.27" y1="652.13" x2="315.27" y2="659.03" stroke="#5c1a78" stroke-width="0.9" />
<line x1="313.87" y1="652.13" x2="316.67" y2="652.13" stroke="#5c1a78" stroke-width="1.08" />
<line x1="313.87" y1="659.03" x2="316.67" y2="659.03" stroke="#5c1a78" stroke-width="1.08" />
<line x1="317.46" y1="650.18" x2="317.46" y2="659.85" stroke="#5c1a78" stroke-width="0.9" />
<line x1="316.06" y1="650.18" x2="318.86" y2="650.18" stroke="#5c1a78" stroke-width="1.08" />
<line x1="316.06" y1="659.85" x2="318.86" y2="659.85" stroke="#5c1a78" stroke-width="1.08" />
<line x1="319.65" y1="646.77" x2="319.65" y2="653.99" stroke="#5c1a78" stroke-width="0.9" />
<line x1="318.25" y1="646.77" x2="321.05" y2="646.77" stroke="#5c1a78" stroke-width="1.08" />
<line x1="318.25" y1="653.99" x2="321.05" y2="653.99" stroke="#5c1a78" stroke-width="1.08" />
<line x1="321.84" y1="650.67" x2="321.84" y2="658.18" stroke="#5c1a78" stroke-width="0.9" />
<line x1="320.44" y1="650.67" x2="323.24" y2="650.67" stroke="#5c1a78" stroke-width="1.08" />
<line x1="320.44" y1="658.18" x2="323.24" y2="658.18" stroke="#5c1a78" stroke-width="1.08" />
<line x1="324.03" y1="651.11" x2="324.03" y2="658.45" stroke="#5c1a78" stroke-width="0.9" />
<line x1="322.63" y1="651.11" x2="325.43" y2="651.11" stroke="#5c1a78" stroke-width="1.08" />
<line x1="322.63" y1="658.45" x2="325.43" y2="658.45" stroke="#5c1a78" stroke-width="1.08" />
<line x1="326.22" y1="648.69" x2="326.22" y2="657.55" stroke="#5c1a78" stroke-width="0.9" />
<line x1="324.82" y1="648.69" x2="327.62" y2="648.69" stroke="#5c1a78" stroke-width="1.08" />
<line x1="324.82" y1="657.55" x2="327.62" y2="657.55" stroke="#5c1a78" stroke-width="1.08" />
<line x1="328.41" y1="651.81" x2="328.41" y2="658.35" stroke="#5c1a78" stroke-width="0.9" />
<line x1="327.01" y1="651.81" x2="329.81" y2="651.81" stroke="#5c1a78" stroke-width="1.08" />
<line x1="327.01" y1="658.35" x2="329.81" y2="658.35" stroke="#5c1a78" stroke-width="1.08" />
<line x1="330.6" y1="651.69" x2="330.6" y2="658.08" stroke="#5c1a78" stroke-width="0.9" />
<line x1="329.2" y1="651.69" x2="332" y2="651.69" stroke="#5c1a78" stroke-width="1.08" />
<line x1="329.2" y1="658.08" x2="332" y2="658.08" stroke="#5c1a78" stroke-width="1.08" />
<line x1="332.79" y1="651.84" x2="332.79" y2="658.79" stroke="#5c1a78" stroke-width="0.9" />
<line x1="331.39" y1="651.84" x2="334.19" y2="651.84" stroke="#5c1a78" stroke-width="1.08" />
<line x1="331.39" y1="658.79" x2="334.19" y2="658.79" stroke="#5c1a78" stroke-width="1.08" />
<line x1="334.98" y1="653.82" x2="334.98" y2="661.57" stroke="#5c1a78" stroke-width="0.9" />
<line x1="333.58" y1="653.82" x2="336.38" y2="653.82" stroke="#5c1a78" stroke-width="1.08" />
<line x1="333.58" y1="661.57" x2="336.38" y2="661.57" stroke="#5c1a78" stroke-width="1.08" />
<line x1="337.17" y1="650.86" x2="337.17" y2="658.23" stroke="#5c1a78" stroke-width="0.9" />
<line x1="335.77" y1="650.86" x2="338.57" y2="650.86" stroke="#5c1a78" stroke-width="1.08" />
<line x1="335.77" y1="658.23" x2="338.57" y2="658.23" stroke="#5c1a78" stroke-width="1.08" />
<line x1="339.36" y1="656.7" x2="339.36" y2="662.91" stroke="#5c1a78" stroke-width="0.9" />
<line x1="337.96" y1="656.7" x2="340.76" y2="656.7" stroke="#5c1a78" stroke-width="1.08" />
<line x1="337.96" y1="662.91" x2="340.76" y2="662.91" stroke="#5c1a78" stroke-width="1.08" />
<line x1="341.55" y1="652.45" x2="341.55" y2="661.69" stroke="#5c1a78" stroke-width="0.9" />
<line x1="340.15" y1="652.45" x2="342.95" y2="652.45" stroke="#5c1a78" stroke-width="1.08" />
<line x1="340.15" y1="661.69" x2="342.95" y2="661.69" stroke="#5c1a78" stroke-width="1.08" />
<line x1="343.74" y1="654.77" x2="343.74" y2="660.92" stroke="#5c1a78" stroke-width="0.9" />
<line x1="342.34" y1="654.77" x2="345.14" y2="654.77" stroke="#5c1a78" stroke-width="1.08" />
<line x1="342.34" y1="660.92" x2="345.14" y2="660.92" stroke="#5c1a78" stroke-width="1.08" />
<line x1="345.93" y1="653.55" x2="345.93" y2="661.16" stroke="#5c1a78" stroke-width="0.9" />
<line x1="344.53" y1="653.55" x2="347.33" y2="653.55" stroke="#5c1a78" stroke-width="1.08" />
<line x1="344.53" y1="661.16" x2="347.33" y2="661.16" stroke="#5c1a78" stroke-width="1.08" />
<line x1="348.12" y1="651.71" x2="348.12" y2="659.65" stroke="#5c1a78" stroke-width="0.9" />
<line x1="346.72" y1="651.71" x2="349.52" y2="651.71" stroke="#5c1a78" stroke-width="1.08" />
<line x1="346.72" y1="659.65" x2="349.52" y2="659.65" stroke="#5c1a78" stroke-width="1.08" />
<line x1="350.31" y1="654.94" x2="350.31" y2="661.99" stroke="#5c1a78" stroke-width="0.9" />
<line x1="348.91" y1="654.94" x2="351.71" y2="654.94" stroke="#5c1a78" stroke-width="1.08" />
<line x1="348.91" y1="661.99" x2="351.71" y2="661.99" stroke="#5c1a78" stroke-width="1.08" />
<line x1="352.5" y1="653.82" x2="352.5" y2="663.92" stroke="#5c1a78" stroke-width="0.9" />
<line x1="351.1" y1="653.82" x2="353.9" y2="653.82" stroke="#5c1a78" stroke-width="1.08" />
<line x1="351.1" y1="663.92" x2="353.9" y2="663.92" stroke="#5c1a78" stroke-width="1.08" />
<line x1="354.69" y1="653.92" x2="354.69" y2="660.41" stroke="#5c1a78" stroke-width="0.9" />
<line x1="353.29" y1="653.92" x2="356.09" y2="653.92" stroke="#5c1a78" stroke-width="1.08" />
<line x1="353.29" y1="660.41" x2="356.09" y2="660.41" stroke="#5c1a78" stroke-width="1.08" />
<line x1="356.88" y1="654.33" x2="356.88" y2="661.58" stroke="#5c1a78" stroke-width="0.9" />
<line x1="355.48" y1="654.33" x2="358.28" y2="654.33" stroke="#5c1a78" stroke-width="1.08" />
<line x1="355.48" y1="661.58" x2="358.28" y2="661.58" stroke="#5c1a78" stroke-width="1.08" />
<line x1="359.07" y1="654.26" x2="359.07" y2="661.53" stroke="#5c1a78" stroke-width="0.9" />
<line x1="357.67" y1="654.26" x2="360.47" y2="654.26" stroke="#5c1a78" stroke-width="1.08" />
<line x1="357.67" y1="661.53" x2="360.47" y2="661.53" stroke="#5c1a78" stroke-width="1.08" />
<line x1="361.26" y1="654.11" x2="361.26" y2="662.41" stroke="#5c1a78" stroke-width="0.9" />
<line x1="359.86" y1="654.11" x2="362.66" y2="654.11" stroke="#5c1a78" stroke-width="1.08" />
<line x1="359.86" y1="662.41" x2="362.66" y2="662.41" stroke="#5c1a78" stroke-width="1.08" />
<line x1="363.45" y1="655.64" x2="363.45" y2="662.56" stroke="#5c1a78" stroke-width="0.9" />
<line x1="362.05" y1="655.64" x2="364.85" y2="655.64" stroke="#5c1a78" stroke-width="1.08" />
<line x1="362.05" y1="662.56" x2="364.85" y2="662.56" stroke="#5c1a78" stroke-width="1.08" />
<line x1="396.3" y1="675.88" x2="396.3" y2="701.17" stroke="#5c1a78" stroke-width="0.9" />
<line x1="394.9" y1="675.88" x2="397.7" y2="675.88" stroke="#5c1a78" stroke-width="1.08" />
<line x1="394.9" y1="701.17" x2="397.7" y2="701.17" stroke="#5c1a78" stroke-width="1.08" />
<line x1="398.49" y1="677.74" x2="398.49" y2="700.54" stroke="#5c1a78" stroke-width="0.9" />
<line x1="397.09" y1="677.74" x2="399.89" y2="677.74" stroke="#5c1a78" stroke-width="1.08" />
<line x1="397.09" y1="700.54" x2="399.89" y2="700.54" stroke="#5c1a78" stroke-width="1.08" />
<line x1="400.68" y1="675.67" x2="400.68" y2="695.77" stroke="#5c1a78" stroke-width="0.9" />
<line x1="399.28" y1="675.67" x2="402.08" y2="675.67" stroke="#5c1a78" stroke-width="1.08" />
<line x1="399.28" y1="695.77" x2="402.08" y2="695.77" stroke="#5c1a78" stroke-width="1.08" />
<line x1="402.87" y1="673.55" x2="402.87" y2="693.14" stroke="#5c1a78" stroke-width="0.9" />
<line x1="401.47" y1="673.55" x2="404.27" y2="673.55" stroke="#5c1a78" stroke-width="1.08" />
<line x1="401.47" y1="693.14" x2="404.27" y2="693.14" stroke="#5c1a78" stroke-width="1.08" />
<line x1="405.06" y1="677.61" x2="405.06" y2="695.32" stroke="#5c1a78" stroke-width="0.9" />
<line x1="403.66" y1="677.61" x2="406.46" y2="677.61" stroke="#5c1a78" stroke-width="1.08" />
<line x1="403.66" y1="695.32" x2="406.46" y2="695.32" stroke="#5c1a78" stroke-width="1.08" />
<line x1="407.25" y1="674.79" x2="407.25" y2="690.87" stroke="#5c1a78" stroke-width="0.9" />
<line x1="405.85" y1="674.79" x2="408.65" y2="674.79" stroke="#5c1a78" stroke-width="1.08" />
<line x1="405.85" y1="690.87" x2="408.65" y2="690.87" stroke="#5c1a78" stroke-width="1.08" />
<line x1="409.44" y1="674" x2="409.44" y2="690.13" stroke="#5c1a78" stroke-width="0.9" />
<line x1="408.04" y1="674" x2="410.84" y2="674" stroke="#5c1a78" stroke-width="1.08" />
<line x1="408.04" y1="690.13" x2="410.84" y2="690.13" stroke="#5c1a78" stroke-width="1.08" />
<line x1="411.63" y1="672.25" x2="411.63" y2="687.71" stroke="#5c1a78" stroke-width="0.9" />
<line x1="410.23" y1="672.25" x2="413.03" y2="672.25" stroke="#5c1a78" stroke-width="1.08" />
<line x1="410.23" y1="687.71" x2="413.03" y2="687.71" stroke="#5c1a78" stroke-width="1.08" />
<line x1="413.82" y1="671.13" x2="413.82" y2="686.44" stroke="#5c1a78" stroke-width="0.9" />
<line x1="412.42" y1="671.13" x2="415.22" y2="671.13" stroke="#5c1a78" stroke-width="1.08" />
<line x1="412.42" y1="686.44" x2="415.22" y2="686.44" stroke="#5c1a78" stroke-width="1.08" />
<line x1="416.01" y1="672.56" x2="416.01" y2="688.24" stroke="#5c1a78" stroke-width="0.9" />
<line x1="414.61" y1="672.56" x2="417.41" y2="672.56" stroke="#5c1a78" stroke-width="1.08" />
<line x1="414.61" y1="688.24" x2="417.41" y2="688.24" stroke="#5c1a78" stroke-width="1.08" />
<line x1="418.2" y1="674.22" x2="418.2" y2="687.12" stroke="#5c1a78" stroke-width="0.9" />
<line x1="416.8" y1="674.22" x2="419.6" y2="674.22" stroke="#5c1a78" stroke-width="1.08" />
<line x1="416.8" y1="687.12" x2="419.6" y2="687.12" stroke="#5c1a78" stroke-width="1.08" />
<line x1="420.39" y1="669.77" x2="420.39" y2="683.94" stroke="#5c1a78" stroke-width="0.9" />
<line x1="418.99" y1="669.77" x2="421.79" y2="669.77" stroke="#5c1a78" stroke-width="1.08" />
<line x1="418.99" y1="683.94" x2="421.79" y2="683.94" stroke="#5c1a78" stroke-width="1.08" />
<line x1="422.58" y1="669.57" x2="422.58" y2="681.21" stroke="#5c1a78" stroke-width="0.9" />
<line x1="421.18" y1="669.57" x2="423.98" y2="669.57" stroke="#5c1a78" stroke-width="1.08" />
<line x1="421.18" y1="681.21" x2="423.98" y2="681.21" stroke="#5c1a78" stroke-width="1.08" />
<line x1="424.77" y1="671.25" x2="424.77" y2="684.85" stroke="#5c1a78" stroke-width="0.9" />
<line x1="423.37" y1="671.25" x2="426.17" y2="671.25" stroke="#5c1a78" stroke-width="1.08" />
<line x1="423.37" y1="684.85" x2="426.17" y2="684.85" stroke="#5c1a78" stroke-width="1.08" />
<line x1="426.96" y1="669.83" x2="426.96" y2="680.71" stroke="#5c1a78" stroke-width="0.9" />
<line x1="425.56" y1="669.83" x2="428.36" y2="669.83" stroke="#5c1a78" stroke-width="1.08" />
<line x1="425.56" y1="680.71" x2="428.36" y2="680.71" stroke="#5c1a78" stroke-width="1.08" />
<line x1="429.15" y1="667.13" x2="429.15" y2="678.55" stroke="#5c1a78" stroke-width="0.9" />
<line x1="427.75" y1="667.13" x2="430.55" y2="667.13" stroke="#5c1a78" stroke-width="1.08" />
<line x1="427.75" y1="678.55" x2="430.55" y2="678.55" stroke="#5c1a78" stroke-width="1.08" />
<line x1="431.34" y1="668.01" x2="431.34" y2="679.55" stroke="#5c1a78" stroke-width="0.9" />
<line x1="429.94" y1="668.01" x2="432.74" y2="668.01" stroke="#5c1a78" stroke-width="1.08" />
<line x1="429.94" y1="679.55" x2="432.74" y2="679.55" stroke="#5c1a78" stroke-width="1.08" />
<line x1="433.53" y1="664.32" x2="433.53" y2="675.32" stroke="#5c1a78" stroke-width="0.9" />
<line x1="432.13" y1="664.32" x2="434.93" y2="664.32" stroke="#5c1a78" stroke-width="1.08" />
<line x1="432.13" y1="675.32" x2="434.93" y2="675.32" stroke="#5c1a78" stroke-width="1.08" />
<line x1="435.72" y1="670.39" x2="435.72" y2="681.66" stroke="#5c1a78" stroke-width="0.9" />
<line x1="434.32" y1="670.39" x2="437.12" y2="670.39" stroke="#5c1a78" stroke-width="1.08" />
<line x1="434.32" y1="681.66" x2="437.12" y2="681.66" stroke="#5c1a78" stroke-width="1.08" />
<line x1="437.91" y1="665.75" x2="437.91" y2="675.68" stroke="#5c1a78" stroke-width="0.9" />
<line x1="436.51" y1="665.75" x2="439.31" y2="665.75" stroke="#5c1a78" stroke-width="1.08" />
<line x1="436.51" y1="675.68" x2="439.31" y2="675.68" stroke="#5c1a78" stroke-width="1.08" />
<line x1="440.1" y1="665.43" x2="440.1" y2="675.09" stroke="#5c1a78" stroke-width="0.9" />
<line x1="438.7" y1="665.43" x2="441.5" y2="665.43" stroke="#5c1a78" stroke-width="1.08" />
<line x1="438.7" y1="675.09" x2="441.5" y2="675.09" stroke="#5c1a78" stroke-width="1.08" />
<line x1="442.29" y1="665.85" x2="442.29" y2="675.53" stroke="#5c1a78" stroke-width="0.9" />
<line x1="440.89" y1="665.85" x2="443.69" y2="665.85" stroke="#5c1a78" stroke-width="1.08" />
<line x1="440.89" y1="675.53" x2="443.69" y2="675.53" stroke="#5c1a78" stroke-width="1.08" />
<line x1="444.48" y1="665.15" x2="444.48" y2="674.89" stroke="#5c1a78" stroke-width="0.9" />
<line x1="443.08" y1="665.15" x2="445.88" y2="665.15" stroke="#5c1a78" stroke-width="1.08" />
<line x1="443.08" y1="674.89" x2="445.88" y2="674.89" stroke="#5c1a78" stroke-width="1.08" />
<line x1="446.67" y1="663.2" x2="446.67" y2="674.18" stroke="#5c1a78" stroke-width="0.9" />
<line x1="445.27" y1="663.2" x2="448.07" y2="663.2" stroke="#5c1a78" stroke-width="1.08" />
<line x1="445.27" y1="674.18" x2="448.07" y2="674.18" stroke="#5c1a78" stroke-width="1.08" />
<line x1="448.86" y1="663.06" x2="448.86" y2="672.87" stroke="#5c1a78" stroke-width="0.9" />
<line x1="447.46" y1="663.06" x2="450.26" y2="663.06" stroke="#5c1a78" stroke-width="1.08" />
<line x1="447.46" y1="672.87" x2="450.26" y2="672.87" stroke="#5c1a78" stroke-width="1.08" />
<line x1="451.05" y1="661.91" x2="451.05" y2="672" stroke="#5c1a78" stroke-width="0.9" />
<line x1="449.65" y1="661.91" x2="452.45" y2="661.91" stroke="#5c1a78" stroke-width="1.08" />
<line x1="449.65" y1="672" x2="452.45" y2="672" stroke="#5c1a78" stroke-width="1.08" />
<line x1="453.24" y1="661.97" x2="453.24" y2="671.14" stroke="#5c1a78" stroke-width="0.9" />
<line x1="451.84" y1="661.97" x2="454.64" y2="661.97" stroke="#5c1a78" stroke-width="1.08" />
<line x1="451.84" y1="671.14" x2="454.64" y2="671.14" stroke="#5c1a78" stroke-width="1.08" />
<line x1="455.43" y1="664.32" x2="455.43" y2="674.89" stroke="#5c1a78" stroke-width="0.9" />
<line x1="454.03" y1="664.32" x2="456.83" y2="664.32" stroke="#5c1a78" stroke-width="1.08" />
<line x1="454.03" y1="674.89" x2="456.83" y2="674.89" stroke="#5c1a78" stroke-width="1.08" />
<line x1="457.62" y1="663.1" x2="457.62" y2="673.7" stroke="#5c1a78" stroke-width="0.9" />
<line x1="456.22" y1="663.1" x2="459.02" y2="663.1" stroke="#5c1a78" stroke-width="1.08" />
<line x1="456.22" y1="673.7" x2="459.02" y2="673.7" stroke="#5c1a78" stroke-width="1.08" />
<line x1="459.81" y1="661.68" x2="459.81" y2="671.48" stroke="#5c1a78" stroke-width="0.9" />
<line x1="458.41" y1="661.68" x2="461.21" y2="661.68" stroke="#5c1a78" stroke-width="1.08" />
<line x1="458.41" y1="671.48" x2="461.21" y2="671.48" stroke="#5c1a78" stroke-width="1.08" />
<line x1="462" y1="661.68" x2="462" y2="671.81" stroke="#5c1a78" stroke-width="0.9" />
<line x1="460.6" y1="661.68" x2="463.4" y2="661.68" stroke="#5c1a78" stroke-width="1.08" />
<line x1="460.6" y1="671.81" x2="463.4" y2="671.81" stroke="#5c1a78" stroke-width="1.08" />
<line x1="464.19" y1="662.3" x2="464.19" y2="671.77" stroke="#5c1a78" stroke-width="0.9" />
<line x1="462.79" y1="662.3" x2="465.59" y2="662.3" stroke="#5c1a78" stroke-width="1.08" />
<line x1="462.79" y1="671.77" x2="465.59" y2="671.77" stroke="#5c1a78" stroke-width="1.08" />
<line x1="466.38" y1="662.15" x2="466.38" y2="671.48" stroke="#5c1a78" stroke-width="0.9" />
<line x1="464.98" y1="662.15" x2="467.78" y2="662.15" stroke="#5c1a78" stroke-width="1.08" />
<line x1="464.98" y1="671.48" x2="467.78" y2="671.48" stroke="#5c1a78" stroke-width="1.08" />
<line x1="468.57" y1="661.22" x2="468.57" y2="671.26" stroke="#5c1a78" stroke-width="0.9" />
<line x1="467.17" y1="661.22" x2="469.97" y2="661.22" stroke="#5c1a78" stroke-width="1.08" />
<line x1="467.17" y1="671.26" x2="469.97" y2="671.26" stroke="#5c1a78" stroke-width="1.08" />
<line x1="470.76" y1="662.87" x2="470.76" y2="672.26" stroke="#5c1a78" stroke-width="0.9" />
<line x1="469.36" y1="662.87" x2="472.16" y2="662.87" stroke="#5c1a78" stroke-width="1.08" />
<line x1="469.36" y1="672.26" x2="472.16" y2="672.26" stroke="#5c1a78" stroke-width="1.08" />
<line x1="472.95" y1="659.41" x2="472.95" y2="669.59" stroke="#5c1a78" stroke-width="0.9" />
<line x1="471.55" y1="659.41" x2="474.35" y2="659.41" stroke="#5c1a78" stroke-width="1.08" />
<line x1="471.55" y1="669.59" x2="474.35" y2="669.59" stroke="#5c1a78" stroke-width="1.08" />
<line x1="475.14" y1="663.75" x2="475.14" y2="673.53" stroke="#5c1a78" stroke-width="0.9" />
<line x1="473.74" y1="663.75" x2="476.54" y2="663.75" stroke="#5c1a78" stroke-width="1.08" />
<line x1="473.74" y1="673.53" x2="476.54" y2="673.53" stroke="#5c1a78" stroke-width="1.08" />
<line x1="477.33" y1="660.58" x2="477.33" y2="671.86" stroke="#5c1a78" stroke-width="0.9" />
<line x1="475.93" y1="660.58" x2="478.73" y2="660.58" stroke="#5c1a78" stroke-width="1.08" />
<line x1="475.93" y1="671.86" x2="478.73" y2="671.86" stroke="#5c1a78" stroke-width="1.08" />
<line x1="479.52" y1="661.71" x2="479.52" y2="670.95" stroke="#5c1a78" stroke-width="0.9" />
<line x1="478.12" y1="661.71" x2="480.92" y2="661.71" stroke="#5c1a78" stroke-width="1.08" />
<line x1="478.12" y1="670.95" x2="480.92" y2="670.95" stroke="#5c1a78" stroke-width="1.08" />
<line x1="481.71" y1="660.18" x2="481.71" y2="671.37" stroke="#5c1a78" stroke-width="0.9" />
<line x1="480.31" y1="660.18" x2="483.11" y2="660.18" stroke="#5c1a78" stroke-width="1.08" />
<line x1="480.31" y1="671.37" x2="483.11" y2="671.37" stroke="#5c1a78" stroke-width="1.08" />
<line x1="483.9" y1="659.9" x2="483.9" y2="670.7" stroke="#5c1a78" stroke-width="0.9" />
<line x1="482.5" y1="659.9" x2="485.3" y2="659.9" stroke="#5c1a78" stroke-width="1.08" />
<line x1="482.5" y1="670.7" x2="485.3" y2="670.7" stroke="#5c1a78" stroke-width="1.08" />
<line x1="486.09" y1="659.48" x2="486.09" y2="669.26" stroke="#5c1a78" stroke-width="0.9" />
<line x1="484.69" y1="659.48" x2="487.49" y2="659.48" stroke="#5c1a78" stroke-width="1.08" />
<line x1="484.69" y1="669.26" x2="487.49" y2="669.26" stroke="#5c1a78" stroke-width="1.08" />
<line x1="488.28" y1="661.34" x2="488.28" y2="670.75" stroke="#5c1a78" stroke-width="0.9" />
<line x1="486.88" y1="661.34" x2="489.68" y2="661.34" stroke="#5c1a78" stroke-width="1.08" />
<line x1="486.88" y1="670.75" x2="489.68" y2="670.75" stroke="#5c1a78" stroke-width="1.08" />
<line x1="490.47" y1="660.8" x2="490.47" y2="669.64" stroke="#5c1a78" stroke-width="0.9" />
<line x1="489.07" y1="660.8" x2="491.87" y2="660.8" stroke="#5c1a78" stroke-width="1.08" />
<line x1="489.07" y1="669.64" x2="491.87" y2="669.64" stroke="#5c1a78" stroke-width="1.08" />
<line x1="492.66" y1="660.41" x2="492.66" y2="669.77" stroke="#5c1a78" stroke-width="0.9" />
<line x1="491.26" y1="660.41" x2="494.06" y2="660.41" stroke="#5c1a78" stroke-width="1.08" />
<line x1="491.26" y1="669.77" x2="494.06" y2="669.77" stroke="#5c1a78" stroke-width="1.08" />
<line x1="494.85" y1="660.11" x2="494.85" y2="670.5" stroke="#5c1a78" stroke-width="0.9" />
<line x1="493.45" y1="660.11" x2="496.25" y2="660.11" stroke="#5c1a78" stroke-width="1.08" />
<line x1="493.45" y1="670.5" x2="496.25" y2="670.5" stroke="#5c1a78" stroke-width="1.08" />
<line x1="497.04" y1="659.04" x2="497.04" y2="668.64" stroke="#5c1a78" stroke-width="0.9" />
<line x1="495.64" y1="659.04" x2="498.44" y2="659.04" stroke="#5c1a78" stroke-width="1.08" />
<line x1="495.64" y1="668.64" x2="498.44" y2="668.64" stroke="#5c1a78" stroke-width="1.08" />
<line x1="499.23" y1="661.53" x2="499.23" y2="670.86" stroke="#5c1a78" stroke-width="0.9" />
<line x1="497.83" y1="661.53" x2="500.63" y2="661.53" stroke="#5c1a78" stroke-width="1.08" />
<line x1="497.83" y1="670.86" x2="500.63" y2="670.86" stroke="#5c1a78" stroke-width="1.08" />
<line x1="501.42" y1="663.76" x2="501.42" y2="673.27" stroke="#5c1a78" stroke-width="0.9" />
<line x1="500.02" y1="663.76" x2="502.82" y2="663.76" stroke="#5c1a78" stroke-width="1.08" />
<line x1="500.02" y1="673.27" x2="502.82" y2="673.27" stroke="#5c1a78" stroke-width="1.08" />
<line x1="503.61" y1="658.83" x2="503.61" y2="669.05" stroke="#5c1a78" stroke-width="0.9" />
<line x1="502.21" y1="658.83" x2="505.01" y2="658.83" stroke="#5c1a78" stroke-width="1.08" />
<line x1="502.21" y1="669.05" x2="505.01" y2="669.05" stroke="#5c1a78" stroke-width="1.08" />
<line x1="505.8" y1="658.03" x2="505.8" y2="667.08" stroke="#5c1a78" stroke-width="0.9" />
<line x1="504.4" y1="658.03" x2="507.2" y2="658.03" stroke="#5c1a78" stroke-width="1.08" />
<line x1="504.4" y1="667.08" x2="507.2" y2="667.08" stroke="#5c1a78" stroke-width="1.08" />
<line x1="507.99" y1="660.57" x2="507.99" y2="669.89" stroke="#5c1a78" stroke-width="0.9" />
<line x1="506.59" y1="660.57" x2="509.39" y2="660.57" stroke="#5c1a78" stroke-width="1.08" />
<line x1="506.59" y1="669.89" x2="509.39" y2="669.89" stroke="#5c1a78" stroke-width="1.08" />
<line x1="510.18" y1="661.05" x2="510.18" y2="670.25" stroke="#5c1a78" stroke-width="0.9" />
<line x1="508.78" y1="661.05" x2="511.58" y2="661.05" stroke="#5c1a78" stroke-width="1.08" />
<line x1="508.78" y1="670.25" x2="511.58" y2="670.25" stroke="#5c1a78" stroke-width="1.08" />
<line x1="512.37" y1="660.16" x2="512.37" y2="669.77" stroke="#5c1a78" stroke-width="0.9" />
<line x1="510.97" y1="660.16" x2="513.77" y2="660.16" stroke="#5c1a78" stroke-width="1.08" />
<line x1="510.97" y1="669.77" x2="513.77" y2="669.77" stroke="#5c1a78" stroke-width="1.08" />
<line x1="514.56" y1="657.76" x2="514.56" y2="668.26" stroke="#5c1a78" stroke-width="0.9" />
<line x1="513.16" y1="657.76" x2="515.96" y2="657.76" stroke="#5c1a78" stroke-width="1.08" />
<line x1="513.16" y1="668.26" x2="515.96" y2="668.26" stroke="#5c1a78" stroke-width="1.08" />
<line x1="516.75" y1="658.17" x2="516.75" y2="668.48" stroke="#5c1a78" stroke-width="0.9" />
<line x1="515.35" y1="658.17" x2="518.15" y2="658.17" stroke="#5c1a78" stroke-width="1.08" />
<line x1="515.35" y1="668.48" x2="518.15" y2="668.48" stroke="#5c1a78" stroke-width="1.08" />
<line x1="518.94" y1="657.11" x2="518.94" y2="667.27" stroke="#5c1a78" stroke-width="0.9" />
<line x1="517.54" y1="657.11" x2="520.34" y2="657.11" stroke="#5c1a78" stroke-width="1.08" />
<line x1="517.54" y1="667.27" x2="520.34" y2="667.27" stroke="#5c1a78" stroke-width="1.08" />
<line x1="521.13" y1="658.68" x2="521.13" y2="668.71" stroke="#5c1a78" stroke-width="0.9" />
<line x1="519.73" y1="658.68" x2="522.53" y2="658.68" stroke="#5c1a78" stroke-width="1.08" />
<line x1="519.73" y1="668.71" x2="522.53" y2="668.71" stroke="#5c1a78" stroke-width="1.08" />
<line x1="523.32" y1="660.6" x2="523.32" y2="671.32" stroke="#5c1a78" stroke-width="0.9" />
<line x1="521.92" y1="660.6" x2="524.72" y2="660.6" stroke="#5c1a78" stroke-width="1.08" />
<line x1="521.92" y1="671.32" x2="524.72" y2="671.32" stroke="#5c1a78" stroke-width="1.08" />
<line x1="525.51" y1="661.61" x2="525.51" y2="670.35" stroke="#5c1a78" stroke-width="0.9" />
<line x1="524.11" y1="661.61" x2="526.91" y2="661.61" stroke="#5c1a78" stroke-width="1.08" />
<line x1="524.11" y1="670.35" x2="526.91" y2="670.35" stroke="#5c1a78" stroke-width="1.08" />
<line x1="527.7" y1="659.63" x2="527.7" y2="668.57" stroke="#5c1a78" stroke-width="0.9" />
<line x1="526.3" y1="659.63" x2="529.1" y2="659.63" stroke="#5c1a78" stroke-width="1.08" />
<line x1="526.3" y1="668.57" x2="529.1" y2="668.57" stroke="#5c1a78" stroke-width="1.08" />
<circle cx="67.8" cy="663.26" r="2" stroke="#5c1a78" stroke-width="1.0" fill="#ecd0fb"/>
<circle cx="69.99" cy="661.57" r="2" stroke="#5c1a78" stroke-width="1.0" fill="#ecd0fb"/>
<circle cx="72.18" cy="661.8" r="2" stroke="#5c1a78" stroke-width="1.0" fill="#ecd0fb"/>
<circle cx="74.37" cy="659.96" r="2" stroke="#5c1a78" stroke-width="1.0" fill="#ecd0fb"/>
<circle cx="76.56" cy="661.64" r="2" stroke="#5c1a78" stroke-width="1.0" fill="#ecd0fb"/>
<circle cx="78.75" cy="662.52" r="2" stroke="#5c1a78" stroke-width="1.0" fill="#ecd0fb"/>
<circle cx="80.94" cy="662.33" r="2" stroke="#5c1a78" stroke-width="1.0" fill="#ecd0fb"/>
<circle cx="83.13" cy="662.94" r="2" stroke="#5c1a78" stroke-width="1.0" fill="#ecd0fb"/>
<circle cx="85.32" cy="662.77" r="2" stroke="#5c1a78" stroke-width="1.0" fill="#ecd0fb"/>
<circle cx="87.51" cy="665.22" r="2" stroke="#5c1a78" stroke-width="1.0" fill="#ecd0fb"/>
<circle cx="89.7" cy="663.32" r="2" stroke="#5c1a78" stroke-width="1.0" fill="#ecd0fb"/>
<circle cx="91.89" cy="663.21" r="2" stroke="#5c1a78" stroke-width="1.0" fill="#ecd0fb"/>
<circle cx="94.08" cy="663.01" r="2" stroke="#5c1a78" stroke-width="1.0" fill="#ecd0fb"/>
<circle cx="96.27" cy="662.64" r="2" stroke="#5c1a78" stroke-width="1.0" fill="#ecd0fb"/>
<circle cx="98.46" cy="662.02" r="2" stroke="#5c1a78" stroke-width="1.0" fill="#ecd0fb"/>
<circle cx="100.65" cy="662.74" r="2" stroke="#5c1a78" stroke-width="1.0" fill="#ecd0fb"/>
<circle cx="102.84" cy="660.37" r="2" stroke="#5c1a78" stroke-width="1.0" fill="#ecd0fb"/>
<circle cx="105.03" cy="662.76" r="2" stroke="#5c1a78" stroke-width="1.0" fill="#ecd0fb"/>
<circle cx="107.22" cy="660.43" r="2" stroke="#5c1a78" stroke-width="1.0" fill="#ecd0fb"/>
<circle cx="109.41" cy="664.41" r="2" stroke="#5c1a78" stroke-width="1.0" fill="#ecd0fb"/>
<circle cx="111.6" cy="662.73" r="2" stroke="#5c1a78" stroke-width="1.0" fill="#ecd0fb"/>
<circle cx="113.79" cy="661.35" r="2" stroke="#5c1a78" stroke-width="1.0" fill="#ecd0fb"/>
<circle cx="115.98" cy="660.96" r="2" stroke="#5c1a78" stroke-width="1.0" fill="#ecd0fb"/>
<circle cx="118.17" cy="659.57" r="2" stroke="#5c1a78" stroke-width="1.0" fill="#ecd0fb"/>
<circle cx="120.36" cy="660.11" r="2" stroke="#5c1a78" stroke-width="1.0" fill="#ecd0fb"/>
<circle cx="122.55" cy="659.24" r="2" stroke="#5c1a78" stroke-width="1.0" fill="#ecd0fb"/>
<circle cx="124.74" cy="660.49" r="2" stroke="#5c1a78" stroke-width="1.0" fill="#ecd0fb"/>
<circle cx="126.93" cy="658.44" r="2" stroke="#5c1a78" stroke-width="1.0" fill="#ecd0fb"/>
<circle cx="129.12" cy="659.35" r="2" stroke="#5c1a78" stroke-width="1.0" fill="#ecd0fb"/>
<circle cx="131.31" cy="658.56" r="2" stroke="#5c1a78" stroke-width="1.0" fill="#ecd0fb"/>
<circle cx="133.5" cy="659.65" r="2" stroke="#5c1a78" stroke-width="1.0" fill="#ecd0fb"/>
<circle cx="166.35" cy="681.5" r="2" stroke="#5c1a78" stroke-width="1.0" fill="#ecd0fb"/>
<circle cx="168.54" cy="676.02" r="2" stroke="#5c1a78" stroke-width="1.0" fill="#ecd0fb"/>
<circle cx="170.73" cy="672.11" r="2" stroke="#5c1a78" stroke-width="1.0" fill="#ecd0fb"/>
<circle cx="172.92" cy="675.49" r="2" stroke="#5c1a78" stroke-width="1.0" fill="#ecd0fb"/>
<circle cx="175.11" cy="670.61" r="2" stroke="#5c1a78" stroke-width="1.0" fill="#ecd0fb"/>
<circle cx="177.3" cy="668.91" r="2" stroke="#5c1a78" stroke-width="1.0" fill="#ecd0fb"/>
<circle cx="179.49" cy="670.46" r="2" stroke="#5c1a78" stroke-width="1.0" fill="#ecd0fb"/>
<circle cx="181.68" cy="668.09" r="2" stroke="#5c1a78" stroke-width="1.0" fill="#ecd0fb"/>
<circle cx="183.87" cy="668.62" r="2" stroke="#5c1a78" stroke-width="1.0" fill="#ecd0fb"/>
<circle cx="186.06" cy="664.42" r="2" stroke="#5c1a78" stroke-width="1.0" fill="#ecd0fb"/>
<circle cx="188.25" cy="667.67" r="2" stroke="#5c1a78" stroke-width="1.0" fill="#ecd0fb"/>
<circle cx="190.44" cy="662.07" r="2" stroke="#5c1a78" stroke-width="1.0" fill="#ecd0fb"/>
<circle cx="192.63" cy="664.14" r="2" stroke="#5c1a78" stroke-width="1.0" fill="#ecd0fb"/>
<circle cx="194.82" cy="665.83" r="2" stroke="#5c1a78" stroke-width="1.0" fill="#ecd0fb"/>
<circle cx="197.01" cy="662.24" r="2" stroke="#5c1a78" stroke-width="1.0" fill="#ecd0fb"/>
<circle cx="199.2" cy="660.84" r="2" stroke="#5c1a78" stroke-width="1.0" fill="#ecd0fb"/>
<circle cx="201.39" cy="664.88" r="2" stroke="#5c1a78" stroke-width="1.0" fill="#ecd0fb"/>
<circle cx="203.58" cy="663.1" r="2" stroke="#5c1a78" stroke-width="1.0" fill="#ecd0fb"/>
<circle cx="205.77" cy="660.39" r="2" stroke="#5c1a78" stroke-width="1.0" fill="#ecd0fb"/>
<circle cx="207.96" cy="662.05" r="2" stroke="#5c1a78" stroke-width="1.0" fill="#ecd0fb"/>
<circle cx="210.15" cy="665.28" r="2" stroke="#5c1a78" stroke-width="1.0" fill="#ecd0fb"/>
<circle cx="212.34" cy="665.63" r="2" stroke="#5c1a78" stroke-width="1.0" fill="#ecd0fb"/>
<circle cx="214.53" cy="664.87" r="2" stroke="#5c1a78" stroke-width="1.0" fill="#ecd0fb"/>
<circle cx="216.72" cy="665.6" r="2" stroke="#5c1a78" stroke-width="1.0" fill="#ecd0fb"/>
<circle cx="218.91" cy="663.08" r="2" stroke="#5c1a78" stroke-width="1.0" fill="#ecd0fb"/>
<circle cx="221.1" cy="667.45" r="2" stroke="#5c1a78" stroke-width="1.0" fill="#ecd0fb"/>
<circle cx="223.29" cy="665.68" r="2" stroke="#5c1a78" stroke-width="1.0" fill="#ecd0fb"/>
<circle cx="225.48" cy="665.68" r="2" stroke="#5c1a78" stroke-width="1.0" fill="#ecd0fb"/>
<circle cx="227.67" cy="660.22" r="2" stroke="#5c1a78" stroke-width="1.0" fill="#ecd0fb"/>
<circle cx="229.86" cy="661.91" r="2" stroke="#5c1a78" stroke-width="1.0" fill="#ecd0fb"/>
<circle cx="232.05" cy="663.61" r="2" stroke="#5c1a78" stroke-width="1.0" fill="#ecd0fb"/>
<circle cx="234.24" cy="661.61" r="2" stroke="#5c1a78" stroke-width="1.0" fill="#ecd0fb"/>
<circle cx="236.43" cy="662.82" r="2" stroke="#5c1a78" stroke-width="1.0" fill="#ecd0fb"/>
<circle cx="238.62" cy="659.43" r="2" stroke="#5c1a78" stroke-width="1.0" fill="#ecd0fb"/>
<circle cx="240.81" cy="658.98" r="2" stroke="#5c1a78" stroke-width="1.0" fill="#ecd0fb"/>
<circle cx="243" cy="659.51" r="2" stroke="#5c1a78" stroke-width="1.0" fill="#ecd0fb"/>
<circle cx="245.19" cy="658.84" r="2" stroke="#5c1a78" stroke-width="1.0" fill="#ecd0fb"/>
<circle cx="247.38" cy="659.75" r="2" stroke="#5c1a78" stroke-width="1.0" fill="#ecd0fb"/>
<circle cx="249.57" cy="658.14" r="2" stroke="#5c1a78" stroke-width="1.0" fill="#ecd0fb"/>
<circle cx="251.76" cy="658.57" r="2" stroke="#5c1a78" stroke-width="1.0" fill="#ecd0fb"/>
<circle cx="253.95" cy="658.53" r="2" stroke="#5c1a78" stroke-width="1.0" fill="#ecd0fb"/>
<circle cx="256.14" cy="659.43" r="2" stroke="#5c1a78" stroke-width="1.0" fill="#ecd0fb"/>
<circle cx="258.33" cy="657.55" r="2" stroke="#5c1a78" stroke-width="1.0" fill="#ecd0fb"/>
<circle cx="260.52" cy="658.63" r="2" stroke="#5c1a78" stroke-width="1.0" fill="#ecd0fb"/>
<circle cx="262.71" cy="654.53" r="2" stroke="#5c1a78" stroke-width="1.0" fill="#ecd0fb"/>
<circle cx="264.9" cy="657.95" r="2" stroke="#5c1a78" stroke-width="1.0" fill="#ecd0fb"/>
<circle cx="267.09" cy="658.62" r="2" stroke="#5c1a78" stroke-width="1.0" fill="#ecd0fb"/>
<circle cx="269.28" cy="659.15" r="2" stroke="#5c1a78" stroke-width="1.0" fill="#ecd0fb"/>
<circle cx="271.47" cy="656.82" r="2" stroke="#5c1a78" stroke-width="1.0" fill="#ecd0fb"/>
<circle cx="273.66" cy="659.1" r="2" stroke="#5c1a78" stroke-width="1.0" fill="#ecd0fb"/>
<circle cx="275.85" cy="659.32" r="2" stroke="#5c1a78" stroke-width="1.0" fill="#ecd0fb"/>
<circle cx="278.04" cy="658.68" r="2" stroke="#5c1a78" stroke-width="1.0" fill="#ecd0fb"/>
<circle cx="280.23" cy="659.46" r="2" stroke="#5c1a78" stroke-width="1.0" fill="#ecd0fb"/>
<circle cx="282.42" cy="656.71" r="2" stroke="#5c1a78" stroke-width="1.0" fill="#ecd0fb"/>
<circle cx="284.61" cy="658.27" r="2" stroke="#5c1a78" stroke-width="1.0" fill="#ecd0fb"/>
<circle cx="286.8" cy="657.37" r="2" stroke="#5c1a78" stroke-width="1.0" fill="#ecd0fb"/>
<circle cx="288.99" cy="659.49" r="2" stroke="#5c1a78" stroke-width="1.0" fill="#ecd0fb"/>
<circle cx="291.18" cy="658.05" r="2" stroke="#5c1a78" stroke-width="1.0" fill="#ecd0fb"/>
<circle cx="293.37" cy="658.42" r="2" stroke="#5c1a78" stroke-width="1.0" fill="#ecd0fb"/>
<circle cx="295.56" cy="657.79" r="2" stroke="#5c1a78" stroke-width="1.0" fill="#ecd0fb"/>
<circle cx="297.75" cy="660.51" r="2" stroke="#5c1a78" stroke-width="1.0" fill="#ecd0fb"/>
<circle cx="299.94" cy="654.92" r="2" stroke="#5c1a78" stroke-width="1.0" fill="#ecd0fb"/>
<circle cx="302.13" cy="657.64" r="2" stroke="#5c1a78" stroke-width="1.0" fill="#ecd0fb"/>
<circle cx="304.32" cy="657.97" r="2" stroke="#5c1a78" stroke-width="1.0" fill="#ecd0fb"/>
<circle cx="306.51" cy="657.45" r="2" stroke="#5c1a78" stroke-width="1.0" fill="#ecd0fb"/>
<circle cx="308.7" cy="656.97" r="2" stroke="#5c1a78" stroke-width="1.0" fill="#ecd0fb"/>
<circle cx="310.89" cy="655.58" r="2" stroke="#5c1a78" stroke-width="1.0" fill="#ecd0fb"/>
<circle cx="313.08" cy="657.25" r="2" stroke="#5c1a78" stroke-width="1.0" fill="#ecd0fb"/>
<circle cx="315.27" cy="655.58" r="2" stroke="#5c1a78" stroke-width="1.0" fill="#ecd0fb"/>
<circle cx="317.46" cy="655.01" r="2" stroke="#5c1a78" stroke-width="1.0" fill="#ecd0fb"/>
<circle cx="319.65" cy="650.38" r="2" stroke="#5c1a78" stroke-width="1.0" fill="#ecd0fb"/>
<circle cx="321.84" cy="654.42" r="2" stroke="#5c1a78" stroke-width="1.0" fill="#ecd0fb"/>
<circle cx="324.03" cy="654.78" r="2" stroke="#5c1a78" stroke-width="1.0" fill="#ecd0fb"/>
<circle cx="326.22" cy="653.12" r="2" stroke="#5c1a78" stroke-width="1.0" fill="#ecd0fb"/>
<circle cx="328.41" cy="655.08" r="2" stroke="#5c1a78" stroke-width="1.0" fill="#ecd0fb"/>
<circle cx="330.6" cy="654.89" r="2" stroke="#5c1a78" stroke-width="1.0" fill="#ecd0fb"/>
<circle cx="332.79" cy="655.31" r="2" stroke="#5c1a78" stroke-width="1.0" fill="#ecd0fb"/>
<circle cx="334.98" cy="657.69" r="2" stroke="#5c1a78" stroke-width="1.0" fill="#ecd0fb"/>
<circle cx="337.17" cy="654.54" r="2" stroke="#5c1a78" stroke-width="1.0" fill="#ecd0fb"/>
<circle cx="339.36" cy="659.8" r="2" stroke="#5c1a78" stroke-width="1.0" fill="#ecd0fb"/>
<circle cx="341.55" cy="657.07" r="2" stroke="#5c1a78" stroke-width="1.0" fill="#ecd0fb"/>
<circle cx="343.74" cy="657.84" r="2" stroke="#5c1a78" stroke-width="1.0" fill="#ecd0fb"/>
<circle cx="345.93" cy="657.35" r="2" stroke="#5c1a78" stroke-width="1.0" fill="#ecd0fb"/>
<circle cx="348.12" cy="655.68" r="2" stroke="#5c1a78" stroke-width="1.0" fill="#ecd0fb"/>
<circle cx="350.31" cy="658.47" r="2" stroke="#5c1a78" stroke-width="1.0" fill="#ecd0fb"/>
<circle cx="352.5" cy="658.87" r="2" stroke="#5c1a78" stroke-width="1.0" fill="#ecd0fb"/>
<circle cx="354.69" cy="657.17" r="2" stroke="#5c1a78" stroke-width="1.0" fill="#ecd0fb"/>
<circle cx="356.88" cy="657.96" r="2" stroke="#5c1a78" stroke-width="1.0" fill="#ecd0fb"/>
<circle cx="359.07" cy="657.9" r="2" stroke="#5c1a78" stroke-width="1.0" fill="#ecd0fb"/>
<circle cx="361.26" cy="658.26" r="2" stroke="#5c1a78" stroke-width="1.0" fill="#ecd0fb"/>
<circle cx="363.45" cy="659.1" r="2" stroke="#5c1a78" stroke-width="1.0" fill="#ecd0fb"/>
<circle cx="396.3" cy="688.52" r="2" stroke="#5c1a78" stroke-width="1.0" fill="#ecd0fb"/>
<circle cx="398.49" cy="689.14" r="2" stroke="#5c1a78" stroke-width="1.0" fill="#ecd0fb"/>
<circle cx="400.68" cy="685.72" r="2" stroke="#5c1a78" stroke-width="1.0" fill="#ecd0fb"/>
<circle cx="402.87" cy="683.35" r="2" stroke="#5c1a78" stroke-width="1.0" fill="#ecd0fb"/>
<circle cx="405.06" cy="686.47" r="2" stroke="#5c1a78" stroke-width="1.0" fill="#ecd0fb"/>
<circle cx="407.25" cy="682.83" r="2" stroke="#5c1a78" stroke-width="1.0" fill="#ecd0fb"/>
<circle cx="409.44" cy="682.06" r="2" stroke="#5c1a78" stroke-width="1.0" fill="#ecd0fb"/>
<circle cx="411.63" cy="679.98" r="2" stroke="#5c1a78" stroke-width="1.0" fill="#ecd0fb"/>
<circle cx="413.82" cy="678.78" r="2" stroke="#5c1a78" stroke-width="1.0" fill="#ecd0fb"/>
<circle cx="416.01" cy="680.4" r="2" stroke="#5c1a78" stroke-width="1.0" fill="#ecd0fb"/>
<circle cx="418.2" cy="680.67" r="2" stroke="#5c1a78" stroke-width="1.0" fill="#ecd0fb"/>
<circle cx="420.39" cy="676.85" r="2" stroke="#5c1a78" stroke-width="1.0" fill="#ecd0fb"/>
<circle cx="422.58" cy="675.39" r="2" stroke="#5c1a78" stroke-width="1.0" fill="#ecd0fb"/>
<circle cx="424.77" cy="678.05" r="2" stroke="#5c1a78" stroke-width="1.0" fill="#ecd0fb"/>
<circle cx="426.96" cy="675.27" r="2" stroke="#5c1a78" stroke-width="1.0" fill="#ecd0fb"/>
<circle cx="429.15" cy="672.84" r="2" stroke="#5c1a78" stroke-width="1.0" fill="#ecd0fb"/>
<circle cx="431.34" cy="673.78" r="2" stroke="#5c1a78" stroke-width="1.0" fill="#ecd0fb"/>
<circle cx="433.53" cy="669.82" r="2" stroke="#5c1a78" stroke-width="1.0" fill="#ecd0fb"/>
<circle cx="435.72" cy="676.02" r="2" stroke="#5c1a78" stroke-width="1.0" fill="#ecd0fb"/>
<circle cx="437.91" cy="670.71" r="2" stroke="#5c1a78" stroke-width="1.0" fill="#ecd0fb"/>
<circle cx="440.1" cy="670.26" r="2" stroke="#5c1a78" stroke-width="1.0" fill="#ecd0fb"/>
<circle cx="442.29" cy="670.69" r="2" stroke="#5c1a78" stroke-width="1.0" fill="#ecd0fb"/>
<circle cx="444.48" cy="670.02" r="2" stroke="#5c1a78" stroke-width="1.0" fill="#ecd0fb"/>
<circle cx="446.67" cy="668.69" r="2" stroke="#5c1a78" stroke-width="1.0" fill="#ecd0fb"/>
<circle cx="448.86" cy="667.96" r="2" stroke="#5c1a78" stroke-width="1.0" fill="#ecd0fb"/>
<circle cx="451.05" cy="666.96" r="2" stroke="#5c1a78" stroke-width="1.0" fill="#ecd0fb"/>
<circle cx="453.24" cy="666.56" r="2" stroke="#5c1a78" stroke-width="1.0" fill="#ecd0fb"/>
<circle cx="455.43" cy="669.61" r="2" stroke="#5c1a78" stroke-width="1.0" fill="#ecd0fb"/>
<circle cx="457.62" cy="668.4" r="2" stroke="#5c1a78" stroke-width="1.0" fill="#ecd0fb"/>
<circle cx="459.81" cy="666.58" r="2" stroke="#5c1a78" stroke-width="1.0" fill="#ecd0fb"/>
<circle cx="462" cy="666.74" r="2" stroke="#5c1a78" stroke-width="1.0" fill="#ecd0fb"/>
<circle cx="464.19" cy="667.03" r="2" stroke="#5c1a78" stroke-width="1.0" fill="#ecd0fb"/>
<circle cx="466.38" cy="666.82" r="2" stroke="#5c1a78" stroke-width="1.0" fill="#ecd0fb"/>
<circle cx="468.57" cy="666.24" r="2" stroke="#5c1a78" stroke-width="1.0" fill="#ecd0fb"/>
<circle cx="470.76" cy="667.56" r="2" stroke="#5c1a78" stroke-width="1.0" fill="#ecd0fb"/>
<circle cx="472.95" cy="664.5" r="2" stroke="#5c1a78" stroke-width="1.0" fill="#ecd0fb"/>
<circle cx="475.14" cy="668.64" r="2" stroke="#5c1a78" stroke-width="1.0" fill="#ecd0fb"/>
<circle cx="477.33" cy="666.22" r="2" stroke="#5c1a78" stroke-width="1.0" fill="#ecd0fb"/>
<circle cx="479.52" cy="666.33" r="2" stroke="#5c1a78" stroke-width="1.0" fill="#ecd0fb"/>
<circle cx="481.71" cy="665.78" r="2" stroke="#5c1a78" stroke-width="1.0" fill="#ecd0fb"/>
<circle cx="483.9" cy="665.3" r="2" stroke="#5c1a78" stroke-width="1.0" fill="#ecd0fb"/>
<circle cx="486.09" cy="664.37" r="2" stroke="#5c1a78" stroke-width="1.0" fill="#ecd0fb"/>
<circle cx="488.28" cy="666.04" r="2" stroke="#5c1a78" stroke-width="1.0" fill="#ecd0fb"/>
<circle cx="490.47" cy="665.22" r="2" stroke="#5c1a78" stroke-width="1.0" fill="#ecd0fb"/>
<circle cx="492.66" cy="665.09" r="2" stroke="#5c1a78" stroke-width="1.0" fill="#ecd0fb"/>
<circle cx="494.85" cy="665.31" r="2" stroke="#5c1a78" stroke-width="1.0" fill="#ecd0fb"/>
<circle cx="497.04" cy="663.84" r="2" stroke="#5c1a78" stroke-width="1.0" fill="#ecd0fb"/>
<circle cx="499.23" cy="666.2" r="2" stroke="#5c1a78" stroke-width="1.0" fill="#ecd0fb"/>
<circle cx="501.42" cy="668.51" r="2" stroke="#5c1a78" stroke-width="1.0" fill="#ecd0fb"/>
<circle cx="503.61" cy="663.94" r="2" stroke="#5c1a78" stroke-width="1.0" fill="#ecd0fb"/>
<circle cx="505.8" cy="662.56" r="2" stroke="#5c1a78" stroke-width="1.0" fill="#ecd0fb"/>
<circle cx="507.99" cy="665.23" r="2" stroke="#5c1a78" stroke-width="1.0" fill="#ecd0fb"/>
<circle cx="510.18" cy="665.65" r="2" stroke="#5c1a78" stroke-width="1.0" fill="#ecd0fb"/>
<circle cx="512.37" cy="664.96" r="2" stroke="#5c1a78" stroke-width="1.0" fill="#ecd0fb"/>
<circle cx="514.56" cy="663.01" r="2" stroke="#5c1a78" stroke-width="1.0" fill="#ecd0fb"/>
<circle cx="516.75" cy="663.32" r="2" stroke="#5c1a78" stroke-width="1.0" fill="#ecd0fb"/>
<circle cx="518.94" cy="662.19" r="2" stroke="#5c1a78" stroke-width="1.0" fill="#ecd0fb"/>
<circle cx="521.13" cy="663.69" r="2" stroke="#5c1a78" stroke-width="1.0" fill="#ecd0fb"/>
<circle cx="523.32" cy="665.96" r="2" stroke="#5c1a78" stroke-width="1.0" fill="#ecd0fb"/>
<circle cx="525.51" cy="665.98" r="2" stroke="#5c1a78" stroke-width="1.0" fill="#ecd0fb"/>
<circle cx="527.7" cy="664.1" r="2" stroke="#5c1a78" stroke-width="1.0" fill="#ecd0fb"/>
<line x1="67.8" y1="662.31" x2="67.8" y2="666.6" stroke="#333333" stroke-width="0.9" />
<line x1="66.4" y1="662.31" x2="69.2" y2="662.31" stroke="#333333" stroke-width="1.08" />
<line x1="66.4" y1="666.6" x2="69.2" y2="666.6" stroke="#333333" stroke-width="1.08" />
<line x1="69.99" y1="659.69" x2="69.99" y2="663.97" stroke="#333333" stroke-width="0.9" />
<line x1="68.59" y1="659.69" x2="71.39" y2="659.69" stroke="#333333" stroke-width="1.08" />
<line x1="68.59" y1="663.97" x2="71.39" y2="663.97" stroke="#333333" stroke-width="1.08" />
<line x1="72.18" y1="660.77" x2="72.18" y2="665.05" stroke="#333333" stroke-width="0.9" />
<line x1="70.78" y1="660.77" x2="73.58" y2="660.77" stroke="#333333" stroke-width="1.08" />
<line x1="70.78" y1="665.05" x2="73.58" y2="665.05" stroke="#333333" stroke-width="1.08" />
<line x1="74.37" y1="658.98" x2="74.37" y2="663.26" stroke="#333333" stroke-width="0.9" />
<line x1="72.97" y1="658.98" x2="75.77" y2="658.98" stroke="#333333" stroke-width="1.08" />
<line x1="72.97" y1="663.26" x2="75.77" y2="663.26" stroke="#333333" stroke-width="1.08" />
<line x1="76.56" y1="658.57" x2="76.56" y2="662.86" stroke="#333333" stroke-width="0.9" />
<line x1="75.16" y1="658.57" x2="77.96" y2="658.57" stroke="#333333" stroke-width="1.08" />
<line x1="75.16" y1="662.86" x2="77.96" y2="662.86" stroke="#333333" stroke-width="1.08" />
<line x1="78.75" y1="659.85" x2="78.75" y2="664.14" stroke="#333333" stroke-width="0.9" />
<line x1="77.35" y1="659.85" x2="80.15" y2="659.85" stroke="#333333" stroke-width="1.08" />
<line x1="77.35" y1="664.14" x2="80.15" y2="664.14" stroke="#333333" stroke-width="1.08" />
<line x1="80.94" y1="661.38" x2="80.94" y2="665.66" stroke="#333333" stroke-width="0.9" />
<line x1="79.54" y1="661.38" x2="82.34" y2="661.38" stroke="#333333" stroke-width="1.08" />
<line x1="79.54" y1="665.66" x2="82.34" y2="665.66" stroke="#333333" stroke-width="1.08" />
<line x1="83.13" y1="662.05" x2="83.13" y2="666.33" stroke="#333333" stroke-width="0.9" />
<line x1="81.73" y1="662.05" x2="84.53" y2="662.05" stroke="#333333" stroke-width="1.08" />
<line x1="81.73" y1="666.33" x2="84.53" y2="666.33" stroke="#333333" stroke-width="1.08" />
<line x1="85.32" y1="659.27" x2="85.32" y2="663.56" stroke="#333333" stroke-width="0.9" />
<line x1="83.92" y1="659.27" x2="86.72" y2="659.27" stroke="#333333" stroke-width="1.08" />
<line x1="83.92" y1="663.56" x2="86.72" y2="663.56" stroke="#333333" stroke-width="1.08" />
<line x1="87.51" y1="660.76" x2="87.51" y2="665.05" stroke="#333333" stroke-width="0.9" />
<line x1="86.11" y1="660.76" x2="88.91" y2="660.76" stroke="#333333" stroke-width="1.08" />
<line x1="86.11" y1="665.05" x2="88.91" y2="665.05" stroke="#333333" stroke-width="1.08" />
<line x1="89.7" y1="660.06" x2="89.7" y2="664.34" stroke="#333333" stroke-width="0.9" />
<line x1="88.3" y1="660.06" x2="91.1" y2="660.06" stroke="#333333" stroke-width="1.08" />
<line x1="88.3" y1="664.34" x2="91.1" y2="664.34" stroke="#333333" stroke-width="1.08" />
<line x1="91.89" y1="660.02" x2="91.89" y2="664.31" stroke="#333333" stroke-width="0.9" />
<line x1="90.49" y1="660.02" x2="93.29" y2="660.02" stroke="#333333" stroke-width="1.08" />
<line x1="90.49" y1="664.31" x2="93.29" y2="664.31" stroke="#333333" stroke-width="1.08" />
<line x1="94.08" y1="660.89" x2="94.08" y2="665.17" stroke="#333333" stroke-width="0.9" />
<line x1="92.68" y1="660.89" x2="95.48" y2="660.89" stroke="#333333" stroke-width="1.08" />
<line x1="92.68" y1="665.17" x2="95.48" y2="665.17" stroke="#333333" stroke-width="1.08" />
<line x1="96.27" y1="657.64" x2="96.27" y2="661.92" stroke="#333333" stroke-width="0.9" />
<line x1="94.87" y1="657.64" x2="97.67" y2="657.64" stroke="#333333" stroke-width="1.08" />
<line x1="94.87" y1="661.92" x2="97.67" y2="661.92" stroke="#333333" stroke-width="1.08" />
<line x1="98.46" y1="660.32" x2="98.46" y2="664.61" stroke="#333333" stroke-width="0.9" />
<line x1="97.06" y1="660.32" x2="99.86" y2="660.32" stroke="#333333" stroke-width="1.08" />
<line x1="97.06" y1="664.61" x2="99.86" y2="664.61" stroke="#333333" stroke-width="1.08" />
<line x1="100.65" y1="657.86" x2="100.65" y2="662.15" stroke="#333333" stroke-width="0.9" />
<line x1="99.25" y1="657.86" x2="102.05" y2="657.86" stroke="#333333" stroke-width="1.08" />
<line x1="99.25" y1="662.15" x2="102.05" y2="662.15" stroke="#333333" stroke-width="1.08" />
<line x1="102.84" y1="661.65" x2="102.84" y2="665.93" stroke="#333333" stroke-width="0.9" />
<line x1="101.44" y1="661.65" x2="104.24" y2="661.65" stroke="#333333" stroke-width="1.08" />
<line x1="101.44" y1="665.93" x2="104.24" y2="665.93" stroke="#333333" stroke-width="1.08" />
<line x1="105.03" y1="662.92" x2="105.03" y2="667.2" stroke="#333333" stroke-width="0.9" />
<line x1="103.63" y1="662.92" x2="106.43" y2="662.92" stroke="#333333" stroke-width="1.08" />
<line x1="103.63" y1="667.2" x2="106.43" y2="667.2" stroke="#333333" stroke-width="1.08" />
<line x1="107.22" y1="660.07" x2="107.22" y2="664.35" stroke="#333333" stroke-width="0.9" />
<line x1="105.82" y1="660.07" x2="108.62" y2="660.07" stroke="#333333" stroke-width="1.08" />
<line x1="105.82" y1="664.35" x2="108.62" y2="664.35" stroke="#333333" stroke-width="1.08" />
<line x1="109.41" y1="662.42" x2="109.41" y2="666.71" stroke="#333333" stroke-width="0.9" />
<line x1="108.01" y1="662.42" x2="110.81" y2="662.42" stroke="#333333" stroke-width="1.08" />
<line x1="108.01" y1="666.71" x2="110.81" y2="666.71" stroke="#333333" stroke-width="1.08" />
<line x1="111.6" y1="660.29" x2="111.6" y2="664.57" stroke="#333333" stroke-width="0.9" />
<line x1="110.2" y1="660.29" x2="113" y2="660.29" stroke="#333333" stroke-width="1.08" />
<line x1="110.2" y1="664.57" x2="113" y2="664.57" stroke="#333333" stroke-width="1.08" />
<line x1="113.79" y1="661.69" x2="113.79" y2="665.98" stroke="#333333" stroke-width="0.9" />
<line x1="112.39" y1="661.69" x2="115.19" y2="661.69" stroke="#333333" stroke-width="1.08" />
<line x1="112.39" y1="665.98" x2="115.19" y2="665.98" stroke="#333333" stroke-width="1.08" />
<line x1="115.98" y1="660.79" x2="115.98" y2="665.07" stroke="#333333" stroke-width="0.9" />
<line x1="114.58" y1="660.79" x2="117.38" y2="660.79" stroke="#333333" stroke-width="1.08" />
<line x1="114.58" y1="665.07" x2="117.38" y2="665.07" stroke="#333333" stroke-width="1.08" />
<line x1="118.17" y1="661.65" x2="118.17" y2="665.93" stroke="#333333" stroke-width="0.9" />
<line x1="116.77" y1="661.65" x2="119.57" y2="661.65" stroke="#333333" stroke-width="1.08" />
<line x1="116.77" y1="665.93" x2="119.57" y2="665.93" stroke="#333333" stroke-width="1.08" />
<line x1="120.36" y1="658.9" x2="120.36" y2="663.18" stroke="#333333" stroke-width="0.9" />
<line x1="118.96" y1="658.9" x2="121.76" y2="658.9" stroke="#333333" stroke-width="1.08" />
<line x1="118.96" y1="663.18" x2="121.76" y2="663.18" stroke="#333333" stroke-width="1.08" />
<line x1="122.55" y1="661.57" x2="122.55" y2="665.86" stroke="#333333" stroke-width="0.9" />
<line x1="121.15" y1="661.57" x2="123.95" y2="661.57" stroke="#333333" stroke-width="1.08" />
<line x1="121.15" y1="665.86" x2="123.95" y2="665.86" stroke="#333333" stroke-width="1.08" />
<line x1="124.74" y1="660.22" x2="124.74" y2="664.51" stroke="#333333" stroke-width="0.9" />
<line x1="123.34" y1="660.22" x2="126.14" y2="660.22" stroke="#333333" stroke-width="1.08" />
<line x1="123.34" y1="664.51" x2="126.14" y2="664.51" stroke="#333333" stroke-width="1.08" />
<line x1="126.93" y1="661.47" x2="126.93" y2="665.76" stroke="#333333" stroke-width="0.9" />
<line x1="125.53" y1="661.47" x2="128.33" y2="661.47" stroke="#333333" stroke-width="1.08" />
<line x1="125.53" y1="665.76" x2="128.33" y2="665.76" stroke="#333333" stroke-width="1.08" />
<line x1="129.12" y1="660.91" x2="129.12" y2="665.2" stroke="#333333" stroke-width="0.9" />
<line x1="127.72" y1="660.91" x2="130.52" y2="660.91" stroke="#333333" stroke-width="1.08" />
<line x1="127.72" y1="665.2" x2="130.52" y2="665.2" stroke="#333333" stroke-width="1.08" />
<line x1="131.31" y1="660.43" x2="131.31" y2="664.72" stroke="#333333" stroke-width="0.9" />
<line x1="129.91" y1="660.43" x2="132.71" y2="660.43" stroke="#333333" stroke-width="1.08" />
<line x1="129.91" y1="664.72" x2="132.71" y2="664.72" stroke="#333333" stroke-width="1.08" />
<line x1="133.5" y1="660.68" x2="133.5" y2="664.96" stroke="#333333" stroke-width="0.9" />
<line x1="132.1" y1="660.68" x2="134.9" y2="660.68" stroke="#333333" stroke-width="1.08" />
<line x1="132.1" y1="664.96" x2="134.9" y2="664.96" stroke="#333333" stroke-width="1.08" />
<line x1="166.35" y1="691.28" x2="166.35" y2="717.63" stroke="#333333" stroke-width="0.9" />
<line x1="164.95" y1="691.28" x2="167.75" y2="691.28" stroke="#333333" stroke-width="1.08" />
<line x1="164.95" y1="717.63" x2="167.75" y2="717.63" stroke="#333333" stroke-width="1.08" />
<line x1="168.54" y1="690.23" x2="168.54" y2="713.43" stroke="#333333" stroke-width="0.9" />
<line x1="167.14" y1="690.23" x2="169.94" y2="690.23" stroke="#333333" stroke-width="1.08" />
<line x1="167.14" y1="713.43" x2="169.94" y2="713.43" stroke="#333333" stroke-width="1.08" />
<line x1="170.73" y1="684.1" x2="170.73" y2="710.11" stroke="#333333" stroke-width="0.9" />
<line x1="169.33" y1="684.1" x2="172.13" y2="684.1" stroke="#333333" stroke-width="1.08" />
<line x1="169.33" y1="710.11" x2="172.13" y2="710.11" stroke="#333333" stroke-width="1.08" />
<line x1="172.92" y1="684.3" x2="172.92" y2="705.79" stroke="#333333" stroke-width="0.9" />
<line x1="171.52" y1="684.3" x2="174.32" y2="684.3" stroke="#333333" stroke-width="1.08" />
<line x1="171.52" y1="705.79" x2="174.32" y2="705.79" stroke="#333333" stroke-width="1.08" />
<line x1="175.11" y1="678.48" x2="175.11" y2="699.14" stroke="#333333" stroke-width="0.9" />
<line x1="173.71" y1="678.48" x2="176.51" y2="678.48" stroke="#333333" stroke-width="1.08" />
<line x1="173.71" y1="699.14" x2="176.51" y2="699.14" stroke="#333333" stroke-width="1.08" />
<line x1="177.3" y1="675.39" x2="177.3" y2="693.03" stroke="#333333" stroke-width="0.9" />
<line x1="175.9" y1="675.39" x2="178.7" y2="675.39" stroke="#333333" stroke-width="1.08" />
<line x1="175.9" y1="693.03" x2="178.7" y2="693.03" stroke="#333333" stroke-width="1.08" />
<line x1="179.49" y1="678.59" x2="179.49" y2="697.81" stroke="#333333" stroke-width="0.9" />
<line x1="178.09" y1="678.59" x2="180.89" y2="678.59" stroke="#333333" stroke-width="1.08" />
<line x1="178.09" y1="697.81" x2="180.89" y2="697.81" stroke="#333333" stroke-width="1.08" />
<line x1="181.68" y1="677.41" x2="181.68" y2="691.71" stroke="#333333" stroke-width="0.9" />
<line x1="180.28" y1="677.41" x2="183.08" y2="677.41" stroke="#333333" stroke-width="1.08" />
<line x1="180.28" y1="691.71" x2="183.08" y2="691.71" stroke="#333333" stroke-width="1.08" />
<line x1="183.87" y1="673.75" x2="183.87" y2="687.19" stroke="#333333" stroke-width="0.9" />
<line x1="182.47" y1="673.75" x2="185.27" y2="673.75" stroke="#333333" stroke-width="1.08" />
<line x1="182.47" y1="687.19" x2="185.27" y2="687.19" stroke="#333333" stroke-width="1.08" />
<line x1="186.06" y1="673" x2="186.06" y2="685.62" stroke="#333333" stroke-width="0.9" />
<line x1="184.66" y1="673" x2="187.46" y2="673" stroke="#333333" stroke-width="1.08" />
<line x1="184.66" y1="685.62" x2="187.46" y2="685.62" stroke="#333333" stroke-width="1.08" />
<line x1="188.25" y1="672.88" x2="188.25" y2="685.25" stroke="#333333" stroke-width="0.9" />
<line x1="186.85" y1="672.88" x2="189.65" y2="672.88" stroke="#333333" stroke-width="1.08" />
<line x1="186.85" y1="685.25" x2="189.65" y2="685.25" stroke="#333333" stroke-width="1.08" />
<line x1="190.44" y1="672.72" x2="190.44" y2="684.08" stroke="#333333" stroke-width="0.9" />
<line x1="189.04" y1="672.72" x2="191.84" y2="672.72" stroke="#333333" stroke-width="1.08" />
<line x1="189.04" y1="684.08" x2="191.84" y2="684.08" stroke="#333333" stroke-width="1.08" />
<line x1="192.63" y1="668.47" x2="192.63" y2="679.14" stroke="#333333" stroke-width="0.9" />
<line x1="191.23" y1="668.47" x2="194.03" y2="668.47" stroke="#333333" stroke-width="1.08" />
<line x1="191.23" y1="679.14" x2="194.03" y2="679.14" stroke="#333333" stroke-width="1.08" />
<line x1="194.82" y1="666.47" x2="194.82" y2="683.71" stroke="#333333" stroke-width="0.9" />
<line x1="193.42" y1="666.47" x2="196.22" y2="666.47" stroke="#333333" stroke-width="1.08" />
<line x1="193.42" y1="683.71" x2="196.22" y2="683.71" stroke="#333333" stroke-width="1.08" />
<line x1="197.01" y1="666.84" x2="197.01" y2="678" stroke="#333333" stroke-width="0.9" />
<line x1="195.61" y1="666.84" x2="198.41" y2="666.84" stroke="#333333" stroke-width="1.08" />
<line x1="195.61" y1="678" x2="198.41" y2="678" stroke="#333333" stroke-width="1.08" />
<line x1="199.2" y1="667.45" x2="199.2" y2="679.53" stroke="#333333" stroke-width="0.9" />
<line x1="197.8" y1="667.45" x2="200.6" y2="667.45" stroke="#333333" stroke-width="1.08" />
<line x1="197.8" y1="679.53" x2="200.6" y2="679.53" stroke="#333333" stroke-width="1.08" />
<line x1="201.39" y1="666.12" x2="201.39" y2="675.04" stroke="#333333" stroke-width="0.9" />
<line x1="199.99" y1="666.12" x2="202.79" y2="666.12" stroke="#333333" stroke-width="1.08" />
<line x1="199.99" y1="675.04" x2="202.79" y2="675.04" stroke="#333333" stroke-width="1.08" />
<line x1="203.58" y1="668.83" x2="203.58" y2="677.3" stroke="#333333" stroke-width="0.9" />
<line x1="202.18" y1="668.83" x2="204.98" y2="668.83" stroke="#333333" stroke-width="1.08" />
<line x1="202.18" y1="677.3" x2="204.98" y2="677.3" stroke="#333333" stroke-width="1.08" />
<line x1="205.77" y1="667.37" x2="205.77" y2="681.96" stroke="#333333" stroke-width="0.9" />
<line x1="204.37" y1="667.37" x2="207.17" y2="667.37" stroke="#333333" stroke-width="1.08" />
<line x1="204.37" y1="681.96" x2="207.17" y2="681.96" stroke="#333333" stroke-width="1.08" />
<line x1="207.96" y1="668.38" x2="207.96" y2="676.1" stroke="#333333" stroke-width="0.9" />
<line x1="206.56" y1="668.38" x2="209.36" y2="668.38" stroke="#333333" stroke-width="1.08" />
<line x1="206.56" y1="676.1" x2="209.36" y2="676.1" stroke="#333333" stroke-width="1.08" />
<line x1="210.15" y1="662.81" x2="210.15" y2="676.68" stroke="#333333" stroke-width="0.9" />
<line x1="208.75" y1="662.81" x2="211.55" y2="662.81" stroke="#333333" stroke-width="1.08" />
<line x1="208.75" y1="676.68" x2="211.55" y2="676.68" stroke="#333333" stroke-width="1.08" />
<line x1="212.34" y1="663.52" x2="212.34" y2="675.8" stroke="#333333" stroke-width="0.9" />
<line x1="210.94" y1="663.52" x2="213.74" y2="663.52" stroke="#333333" stroke-width="1.08" />
<line x1="210.94" y1="675.8" x2="213.74" y2="675.8" stroke="#333333" stroke-width="1.08" />
<line x1="214.53" y1="665.86" x2="214.53" y2="676.91" stroke="#333333" stroke-width="0.9" />
<line x1="213.13" y1="665.86" x2="215.93" y2="665.86" stroke="#333333" stroke-width="1.08" />
<line x1="213.13" y1="676.91" x2="215.93" y2="676.91" stroke="#333333" stroke-width="1.08" />
<line x1="216.72" y1="663.16" x2="216.72" y2="675.19" stroke="#333333" stroke-width="0.9" />
<line x1="215.32" y1="663.16" x2="218.12" y2="663.16" stroke="#333333" stroke-width="1.08" />
<line x1="215.32" y1="675.19" x2="218.12" y2="675.19" stroke="#333333" stroke-width="1.08" />
<line x1="218.91" y1="665.26" x2="218.91" y2="675.74" stroke="#333333" stroke-width="0.9" />
<line x1="217.51" y1="665.26" x2="220.31" y2="665.26" stroke="#333333" stroke-width="1.08" />
<line x1="217.51" y1="675.74" x2="220.31" y2="675.74" stroke="#333333" stroke-width="1.08" />
<line x1="221.1" y1="663.18" x2="221.1" y2="674.94" stroke="#333333" stroke-width="0.9" />
<line x1="219.7" y1="663.18" x2="222.5" y2="663.18" stroke="#333333" stroke-width="1.08" />
<line x1="219.7" y1="674.94" x2="222.5" y2="674.94" stroke="#333333" stroke-width="1.08" />
<line x1="223.29" y1="664.85" x2="223.29" y2="676.34" stroke="#333333" stroke-width="0.9" />
<line x1="221.89" y1="664.85" x2="224.69" y2="664.85" stroke="#333333" stroke-width="1.08" />
<line x1="221.89" y1="676.34" x2="224.69" y2="676.34" stroke="#333333" stroke-width="1.08" />
<line x1="225.48" y1="662.53" x2="225.48" y2="675.37" stroke="#333333" stroke-width="0.9" />
<line x1="224.08" y1="662.53" x2="226.88" y2="662.53" stroke="#333333" stroke-width="1.08" />
<line x1="224.08" y1="675.37" x2="226.88" y2="675.37" stroke="#333333" stroke-width="1.08" />
<line x1="227.67" y1="661.73" x2="227.67" y2="672.08" stroke="#333333" stroke-width="0.9" />
<line x1="226.27" y1="661.73" x2="229.07" y2="661.73" stroke="#333333" stroke-width="1.08" />
<line x1="226.27" y1="672.08" x2="229.07" y2="672.08" stroke="#333333" stroke-width="1.08" />
<line x1="229.86" y1="666.83" x2="229.86" y2="674.02" stroke="#333333" stroke-width="0.9" />
<line x1="228.46" y1="666.83" x2="231.26" y2="666.83" stroke="#333333" stroke-width="1.08" />
<line x1="228.46" y1="674.02" x2="231.26" y2="674.02" stroke="#333333" stroke-width="1.08" />
<line x1="232.05" y1="662.62" x2="232.05" y2="670.72" stroke="#333333" stroke-width="0.9" />
<line x1="230.65" y1="662.62" x2="233.45" y2="662.62" stroke="#333333" stroke-width="1.08" />
<line x1="230.65" y1="670.72" x2="233.45" y2="670.72" stroke="#333333" stroke-width="1.08" />
<line x1="234.24" y1="664.19" x2="234.24" y2="672.81" stroke="#333333" stroke-width="0.9" />
<line x1="232.84" y1="664.19" x2="235.64" y2="664.19" stroke="#333333" stroke-width="1.08" />
<line x1="232.84" y1="672.81" x2="235.64" y2="672.81" stroke="#333333" stroke-width="1.08" />
<line x1="236.43" y1="664.49" x2="236.43" y2="674.02" stroke="#333333" stroke-width="0.9" />
<line x1="235.03" y1="664.49" x2="237.83" y2="664.49" stroke="#333333" stroke-width="1.08" />
<line x1="235.03" y1="674.02" x2="237.83" y2="674.02" stroke="#333333" stroke-width="1.08" />
<line x1="238.62" y1="664.87" x2="238.62" y2="675.36" stroke="#333333" stroke-width="0.9" />
<line x1="237.22" y1="664.87" x2="240.02" y2="664.87" stroke="#333333" stroke-width="1.08" />
<line x1="237.22" y1="675.36" x2="240.02" y2="675.36" stroke="#333333" stroke-width="1.08" />
<line x1="240.81" y1="666.53" x2="240.81" y2="674.79" stroke="#333333" stroke-width="0.9" />
<line x1="239.41" y1="666.53" x2="242.21" y2="666.53" stroke="#333333" stroke-width="1.08" />
<line x1="239.41" y1="674.79" x2="242.21" y2="674.79" stroke="#333333" stroke-width="1.08" />
<line x1="243" y1="665.24" x2="243" y2="672.49" stroke="#333333" stroke-width="0.9" />
<line x1="241.6" y1="665.24" x2="244.4" y2="665.24" stroke="#333333" stroke-width="1.08" />
<line x1="241.6" y1="672.49" x2="244.4" y2="672.49" stroke="#333333" stroke-width="1.08" />
<line x1="245.19" y1="664.18" x2="245.19" y2="671.3" stroke="#333333" stroke-width="0.9" />
<line x1="243.79" y1="664.18" x2="246.59" y2="664.18" stroke="#333333" stroke-width="1.08" />
<line x1="243.79" y1="671.3" x2="246.59" y2="671.3" stroke="#333333" stroke-width="1.08" />
<line x1="247.38" y1="664.75" x2="247.38" y2="672.08" stroke="#333333" stroke-width="0.9" />
<line x1="245.98" y1="664.75" x2="248.78" y2="664.75" stroke="#333333" stroke-width="1.08" />
<line x1="245.98" y1="672.08" x2="248.78" y2="672.08" stroke="#333333" stroke-width="1.08" />
<line x1="249.57" y1="665.58" x2="249.57" y2="674.86" stroke="#333333" stroke-width="0.9" />
<line x1="248.17" y1="665.58" x2="250.97" y2="665.58" stroke="#333333" stroke-width="1.08" />
<line x1="248.17" y1="674.86" x2="250.97" y2="674.86" stroke="#333333" stroke-width="1.08" />
<line x1="251.76" y1="663.71" x2="251.76" y2="670.22" stroke="#333333" stroke-width="0.9" />
<line x1="250.36" y1="663.71" x2="253.16" y2="663.71" stroke="#333333" stroke-width="1.08" />
<line x1="250.36" y1="670.22" x2="253.16" y2="670.22" stroke="#333333" stroke-width="1.08" />
<line x1="253.95" y1="661.11" x2="253.95" y2="671.61" stroke="#333333" stroke-width="0.9" />
<line x1="252.55" y1="661.11" x2="255.35" y2="661.11" stroke="#333333" stroke-width="1.08" />
<line x1="252.55" y1="671.61" x2="255.35" y2="671.61" stroke="#333333" stroke-width="1.08" />
<line x1="256.14" y1="665.49" x2="256.14" y2="672.91" stroke="#333333" stroke-width="0.9" />
<line x1="254.74" y1="665.49" x2="257.54" y2="665.49" stroke="#333333" stroke-width="1.08" />
<line x1="254.74" y1="672.91" x2="257.54" y2="672.91" stroke="#333333" stroke-width="1.08" />
<line x1="258.33" y1="667.02" x2="258.33" y2="677.44" stroke="#333333" stroke-width="0.9" />
<line x1="256.93" y1="667.02" x2="259.73" y2="667.02" stroke="#333333" stroke-width="1.08" />
<line x1="256.93" y1="677.44" x2="259.73" y2="677.44" stroke="#333333" stroke-width="1.08" />
<line x1="260.52" y1="662.48" x2="260.52" y2="673.2" stroke="#333333" stroke-width="0.9" />
<line x1="259.12" y1="662.48" x2="261.92" y2="662.48" stroke="#333333" stroke-width="1.08" />
<line x1="259.12" y1="673.2" x2="261.92" y2="673.2" stroke="#333333" stroke-width="1.08" />
<line x1="262.71" y1="666.07" x2="262.71" y2="674.88" stroke="#333333" stroke-width="0.9" />
<line x1="261.31" y1="666.07" x2="264.11" y2="666.07" stroke="#333333" stroke-width="1.08" />
<line x1="261.31" y1="674.88" x2="264.11" y2="674.88" stroke="#333333" stroke-width="1.08" />
<line x1="264.9" y1="665.79" x2="264.9" y2="674.14" stroke="#333333" stroke-width="0.9" />
<line x1="263.5" y1="665.79" x2="266.3" y2="665.79" stroke="#333333" stroke-width="1.08" />
<line x1="263.5" y1="674.14" x2="266.3" y2="674.14" stroke="#333333" stroke-width="1.08" />
<line x1="267.09" y1="662.7" x2="267.09" y2="671.76" stroke="#333333" stroke-width="0.9" />
<line x1="265.69" y1="662.7" x2="268.49" y2="662.7" stroke="#333333" stroke-width="1.08" />
<line x1="265.69" y1="671.76" x2="268.49" y2="671.76" stroke="#333333" stroke-width="1.08" />
<line x1="269.28" y1="665.53" x2="269.28" y2="676.9" stroke="#333333" stroke-width="0.9" />
<line x1="267.88" y1="665.53" x2="270.68" y2="665.53" stroke="#333333" stroke-width="1.08" />
<line x1="267.88" y1="676.9" x2="270.68" y2="676.9" stroke="#333333" stroke-width="1.08" />
<line x1="271.47" y1="664.19" x2="271.47" y2="673.28" stroke="#333333" stroke-width="0.9" />
<line x1="270.07" y1="664.19" x2="272.87" y2="664.19" stroke="#333333" stroke-width="1.08" />
<line x1="270.07" y1="673.28" x2="272.87" y2="673.28" stroke="#333333" stroke-width="1.08" />
<line x1="273.66" y1="661.45" x2="273.66" y2="669.61" stroke="#333333" stroke-width="0.9" />
<line x1="272.26" y1="661.45" x2="275.06" y2="661.45" stroke="#333333" stroke-width="1.08" />
<line x1="272.26" y1="669.61" x2="275.06" y2="669.61" stroke="#333333" stroke-width="1.08" />
<line x1="275.85" y1="663.71" x2="275.85" y2="670.6" stroke="#333333" stroke-width="0.9" />
<line x1="274.45" y1="663.71" x2="277.25" y2="663.71" stroke="#333333" stroke-width="1.08" />
<line x1="274.45" y1="670.6" x2="277.25" y2="670.6" stroke="#333333" stroke-width="1.08" />
<line x1="278.04" y1="663.81" x2="278.04" y2="670.62" stroke="#333333" stroke-width="0.9" />
<line x1="276.64" y1="663.81" x2="279.44" y2="663.81" stroke="#333333" stroke-width="1.08" />
<line x1="276.64" y1="670.62" x2="279.44" y2="670.62" stroke="#333333" stroke-width="1.08" />
<line x1="280.23" y1="662.73" x2="280.23" y2="672.28" stroke="#333333" stroke-width="0.9" />
<line x1="278.83" y1="662.73" x2="281.63" y2="662.73" stroke="#333333" stroke-width="1.08" />
<line x1="278.83" y1="672.28" x2="281.63" y2="672.28" stroke="#333333" stroke-width="1.08" />
<line x1="282.42" y1="662.41" x2="282.42" y2="674.74" stroke="#333333" stroke-width="0.9" />
<line x1="281.02" y1="662.41" x2="283.82" y2="662.41" stroke="#333333" stroke-width="1.08" />
<line x1="281.02" y1="674.74" x2="283.82" y2="674.74" stroke="#333333" stroke-width="1.08" />
<line x1="284.61" y1="662.84" x2="284.61" y2="676.71" stroke="#333333" stroke-width="0.9" />
<line x1="283.21" y1="662.84" x2="286.01" y2="662.84" stroke="#333333" stroke-width="1.08" />
<line x1="283.21" y1="676.71" x2="286.01" y2="676.71" stroke="#333333" stroke-width="1.08" />
<line x1="286.8" y1="665.23" x2="286.8" y2="673.52" stroke="#333333" stroke-width="0.9" />
<line x1="285.4" y1="665.23" x2="288.2" y2="665.23" stroke="#333333" stroke-width="1.08" />
<line x1="285.4" y1="673.52" x2="288.2" y2="673.52" stroke="#333333" stroke-width="1.08" />
<line x1="288.99" y1="666.28" x2="288.99" y2="675" stroke="#333333" stroke-width="0.9" />
<line x1="287.59" y1="666.28" x2="290.39" y2="666.28" stroke="#333333" stroke-width="1.08" />
<line x1="287.59" y1="675" x2="290.39" y2="675" stroke="#333333" stroke-width="1.08" />
<line x1="291.18" y1="665.18" x2="291.18" y2="673.23" stroke="#333333" stroke-width="0.9" />
<line x1="289.78" y1="665.18" x2="292.58" y2="665.18" stroke="#333333" stroke-width="1.08" />
<line x1="289.78" y1="673.23" x2="292.58" y2="673.23" stroke="#333333" stroke-width="1.08" />
<line x1="293.37" y1="667.03" x2="293.37" y2="674.07" stroke="#333333" stroke-width="0.9" />
<line x1="291.97" y1="667.03" x2="294.77" y2="667.03" stroke="#333333" stroke-width="1.08" />
<line x1="291.97" y1="674.07" x2="294.77" y2="674.07" stroke="#333333" stroke-width="1.08" />
<line x1="295.56" y1="667.01" x2="295.56" y2="674.12" stroke="#333333" stroke-width="0.9" />
<line x1="294.16" y1="667.01" x2="296.96" y2="667.01" stroke="#333333" stroke-width="1.08" />
<line x1="294.16" y1="674.12" x2="296.96" y2="674.12" stroke="#333333" stroke-width="1.08" />
<line x1="297.75" y1="664.35" x2="297.75" y2="671.33" stroke="#333333" stroke-width="0.9" />
<line x1="296.35" y1="664.35" x2="299.15" y2="664.35" stroke="#333333" stroke-width="1.08" />
<line x1="296.35" y1="671.33" x2="299.15" y2="671.33" stroke="#333333" stroke-width="1.08" />
<line x1="299.94" y1="662.93" x2="299.94" y2="671.97" stroke="#333333" stroke-width="0.9" />
<line x1="298.54" y1="662.93" x2="301.34" y2="662.93" stroke="#333333" stroke-width="1.08" />
<line x1="298.54" y1="671.97" x2="301.34" y2="671.97" stroke="#333333" stroke-width="1.08" />
<line x1="302.13" y1="666.69" x2="302.13" y2="674.97" stroke="#333333" stroke-width="0.9" />
<line x1="300.73" y1="666.69" x2="303.53" y2="666.69" stroke="#333333" stroke-width="1.08" />
<line x1="300.73" y1="674.97" x2="303.53" y2="674.97" stroke="#333333" stroke-width="1.08" />
<line x1="304.32" y1="668.79" x2="304.32" y2="676.03" stroke="#333333" stroke-width="0.9" />
<line x1="302.92" y1="668.79" x2="305.72" y2="668.79" stroke="#333333" stroke-width="1.08" />
<line x1="302.92" y1="676.03" x2="305.72" y2="676.03" stroke="#333333" stroke-width="1.08" />
<line x1="306.51" y1="664.15" x2="306.51" y2="672.28" stroke="#333333" stroke-width="0.9" />
<line x1="305.11" y1="664.15" x2="307.91" y2="664.15" stroke="#333333" stroke-width="1.08" />
<line x1="305.11" y1="672.28" x2="307.91" y2="672.28" stroke="#333333" stroke-width="1.08" />
<line x1="308.7" y1="661.56" x2="308.7" y2="670.45" stroke="#333333" stroke-width="0.9" />
<line x1="307.3" y1="661.56" x2="310.1" y2="661.56" stroke="#333333" stroke-width="1.08" />
<line x1="307.3" y1="670.45" x2="310.1" y2="670.45" stroke="#333333" stroke-width="1.08" />
<line x1="310.89" y1="663.45" x2="310.89" y2="675.33" stroke="#333333" stroke-width="0.9" />
<line x1="309.49" y1="663.45" x2="312.29" y2="663.45" stroke="#333333" stroke-width="1.08" />
<line x1="309.49" y1="675.33" x2="312.29" y2="675.33" stroke="#333333" stroke-width="1.08" />
<line x1="313.08" y1="667.23" x2="313.08" y2="674.21" stroke="#333333" stroke-width="0.9" />
<line x1="311.68" y1="667.23" x2="314.48" y2="667.23" stroke="#333333" stroke-width="1.08" />
<line x1="311.68" y1="674.21" x2="314.48" y2="674.21" stroke="#333333" stroke-width="1.08" />
<line x1="315.27" y1="662.06" x2="315.27" y2="672" stroke="#333333" stroke-width="0.9" />
<line x1="313.87" y1="662.06" x2="316.67" y2="662.06" stroke="#333333" stroke-width="1.08" />
<line x1="313.87" y1="672" x2="316.67" y2="672" stroke="#333333" stroke-width="1.08" />
<line x1="317.46" y1="661.24" x2="317.46" y2="673.57" stroke="#333333" stroke-width="0.9" />
<line x1="316.06" y1="661.24" x2="318.86" y2="661.24" stroke="#333333" stroke-width="1.08" />
<line x1="316.06" y1="673.57" x2="318.86" y2="673.57" stroke="#333333" stroke-width="1.08" />
<line x1="319.65" y1="661.14" x2="319.65" y2="668.39" stroke="#333333" stroke-width="0.9" />
<line x1="318.25" y1="661.14" x2="321.05" y2="661.14" stroke="#333333" stroke-width="1.08" />
<line x1="318.25" y1="668.39" x2="321.05" y2="668.39" stroke="#333333" stroke-width="1.08" />
<line x1="321.84" y1="663.29" x2="321.84" y2="670.69" stroke="#333333" stroke-width="0.9" />
<line x1="320.44" y1="663.29" x2="323.24" y2="663.29" stroke="#333333" stroke-width="1.08" />
<line x1="320.44" y1="670.69" x2="323.24" y2="670.69" stroke="#333333" stroke-width="1.08" />
<line x1="324.03" y1="662.42" x2="324.03" y2="675.14" stroke="#333333" stroke-width="0.9" />
<line x1="322.63" y1="662.42" x2="325.43" y2="662.42" stroke="#333333" stroke-width="1.08" />
<line x1="322.63" y1="675.14" x2="325.43" y2="675.14" stroke="#333333" stroke-width="1.08" />
<line x1="326.22" y1="660.17" x2="326.22" y2="673.53" stroke="#333333" stroke-width="0.9" />
<line x1="324.82" y1="660.17" x2="327.62" y2="660.17" stroke="#333333" stroke-width="1.08" />
<line x1="324.82" y1="673.53" x2="327.62" y2="673.53" stroke="#333333" stroke-width="1.08" />
<line x1="328.41" y1="662.54" x2="328.41" y2="669.95" stroke="#333333" stroke-width="0.9" />
<line x1="327.01" y1="662.54" x2="329.81" y2="662.54" stroke="#333333" stroke-width="1.08" />
<line x1="327.01" y1="669.95" x2="329.81" y2="669.95" stroke="#333333" stroke-width="1.08" />
<line x1="330.6" y1="659.54" x2="330.6" y2="667.94" stroke="#333333" stroke-width="0.9" />
<line x1="329.2" y1="659.54" x2="332" y2="659.54" stroke="#333333" stroke-width="1.08" />
<line x1="329.2" y1="667.94" x2="332" y2="667.94" stroke="#333333" stroke-width="1.08" />
<line x1="332.79" y1="663.11" x2="332.79" y2="671.95" stroke="#333333" stroke-width="0.9" />
<line x1="331.39" y1="663.11" x2="334.19" y2="663.11" stroke="#333333" stroke-width="1.08" />
<line x1="331.39" y1="671.95" x2="334.19" y2="671.95" stroke="#333333" stroke-width="1.08" />
<line x1="334.98" y1="662.86" x2="334.98" y2="670.45" stroke="#333333" stroke-width="0.9" />
<line x1="333.58" y1="662.86" x2="336.38" y2="662.86" stroke="#333333" stroke-width="1.08" />
<line x1="333.58" y1="670.45" x2="336.38" y2="670.45" stroke="#333333" stroke-width="1.08" />
<line x1="337.17" y1="660.36" x2="337.17" y2="667.96" stroke="#333333" stroke-width="0.9" />
<line x1="335.77" y1="660.36" x2="338.57" y2="660.36" stroke="#333333" stroke-width="1.08" />
<line x1="335.77" y1="667.96" x2="338.57" y2="667.96" stroke="#333333" stroke-width="1.08" />
<line x1="339.36" y1="659.44" x2="339.36" y2="669.55" stroke="#333333" stroke-width="0.9" />
<line x1="337.96" y1="659.44" x2="340.76" y2="659.44" stroke="#333333" stroke-width="1.08" />
<line x1="337.96" y1="669.55" x2="340.76" y2="669.55" stroke="#333333" stroke-width="1.08" />
<line x1="341.55" y1="664.17" x2="341.55" y2="672.11" stroke="#333333" stroke-width="0.9" />
<line x1="340.15" y1="664.17" x2="342.95" y2="664.17" stroke="#333333" stroke-width="1.08" />
<line x1="340.15" y1="672.11" x2="342.95" y2="672.11" stroke="#333333" stroke-width="1.08" />
<line x1="343.74" y1="659.84" x2="343.74" y2="671.62" stroke="#333333" stroke-width="0.9" />
<line x1="342.34" y1="659.84" x2="345.14" y2="659.84" stroke="#333333" stroke-width="1.08" />
<line x1="342.34" y1="671.62" x2="345.14" y2="671.62" stroke="#333333" stroke-width="1.08" />
<line x1="345.93" y1="660.37" x2="345.93" y2="669.88" stroke="#333333" stroke-width="0.9" />
<line x1="344.53" y1="660.37" x2="347.33" y2="660.37" stroke="#333333" stroke-width="1.08" />
<line x1="344.53" y1="669.88" x2="347.33" y2="669.88" stroke="#333333" stroke-width="1.08" />
<line x1="348.12" y1="659.95" x2="348.12" y2="670.94" stroke="#333333" stroke-width="0.9" />
<line x1="346.72" y1="659.95" x2="349.52" y2="659.95" stroke="#333333" stroke-width="1.08" />
<line x1="346.72" y1="670.94" x2="349.52" y2="670.94" stroke="#333333" stroke-width="1.08" />
<line x1="350.31" y1="660.17" x2="350.31" y2="667.5" stroke="#333333" stroke-width="0.9" />
<line x1="348.91" y1="660.17" x2="351.71" y2="660.17" stroke="#333333" stroke-width="1.08" />
<line x1="348.91" y1="667.5" x2="351.71" y2="667.5" stroke="#333333" stroke-width="1.08" />
<line x1="352.5" y1="658.34" x2="352.5" y2="667.34" stroke="#333333" stroke-width="0.9" />
<line x1="351.1" y1="658.34" x2="353.9" y2="658.34" stroke="#333333" stroke-width="1.08" />
<line x1="351.1" y1="667.34" x2="353.9" y2="667.34" stroke="#333333" stroke-width="1.08" />
<line x1="354.69" y1="657.55" x2="354.69" y2="664.93" stroke="#333333" stroke-width="0.9" />
<line x1="353.29" y1="657.55" x2="356.09" y2="657.55" stroke="#333333" stroke-width="1.08" />
<line x1="353.29" y1="664.93" x2="356.09" y2="664.93" stroke="#333333" stroke-width="1.08" />
<line x1="356.88" y1="657.15" x2="356.88" y2="665.02" stroke="#333333" stroke-width="0.9" />
<line x1="355.48" y1="657.15" x2="358.28" y2="657.15" stroke="#333333" stroke-width="1.08" />
<line x1="355.48" y1="665.02" x2="358.28" y2="665.02" stroke="#333333" stroke-width="1.08" />
<line x1="359.07" y1="657.07" x2="359.07" y2="664.31" stroke="#333333" stroke-width="0.9" />
<line x1="357.67" y1="657.07" x2="360.47" y2="657.07" stroke="#333333" stroke-width="1.08" />
<line x1="357.67" y1="664.31" x2="360.47" y2="664.31" stroke="#333333" stroke-width="1.08" />
<line x1="361.26" y1="659.44" x2="361.26" y2="667.99" stroke="#333333" stroke-width="0.9" />
<line x1="359.86" y1="659.44" x2="362.66" y2="659.44" stroke="#333333" stroke-width="1.08" />
<line x1="359.86" y1="667.99" x2="362.66" y2="667.99" stroke="#333333" stroke-width="1.08" />
<line x1="363.45" y1="659.22" x2="363.45" y2="667.59" stroke="#333333" stroke-width="0.9" />
<line x1="362.05" y1="659.22" x2="364.85" y2="659.22" stroke="#333333" stroke-width="1.08" />
<line x1="362.05" y1="667.59" x2="364.85" y2="667.59" stroke="#333333" stroke-width="1.08" />
<line x1="396.3" y1="687.36" x2="396.3" y2="704.4" stroke="#333333" stroke-width="0.9" />
<line x1="394.9" y1="687.36" x2="397.7" y2="687.36" stroke="#333333" stroke-width="1.08" />
<line x1="394.9" y1="704.4" x2="397.7" y2="704.4" stroke="#333333" stroke-width="1.08" />
<line x1="398.49" y1="686.53" x2="398.49" y2="701.26" stroke="#333333" stroke-width="0.9" />
<line x1="397.09" y1="686.53" x2="399.89" y2="686.53" stroke="#333333" stroke-width="1.08" />
<line x1="397.09" y1="701.26" x2="399.89" y2="701.26" stroke="#333333" stroke-width="1.08" />
<line x1="400.68" y1="686.38" x2="400.68" y2="699.56" stroke="#333333" stroke-width="0.9" />
<line x1="399.28" y1="686.38" x2="402.08" y2="686.38" stroke="#333333" stroke-width="1.08" />
<line x1="399.28" y1="699.56" x2="402.08" y2="699.56" stroke="#333333" stroke-width="1.08" />
<line x1="402.87" y1="685.95" x2="402.87" y2="696.89" stroke="#333333" stroke-width="0.9" />
<line x1="401.47" y1="685.95" x2="404.27" y2="685.95" stroke="#333333" stroke-width="1.08" />
<line x1="401.47" y1="696.89" x2="404.27" y2="696.89" stroke="#333333" stroke-width="1.08" />
<line x1="405.06" y1="685.52" x2="405.06" y2="695.08" stroke="#333333" stroke-width="0.9" />
<line x1="403.66" y1="685.52" x2="406.46" y2="685.52" stroke="#333333" stroke-width="1.08" />
<line x1="403.66" y1="695.08" x2="406.46" y2="695.08" stroke="#333333" stroke-width="1.08" />
<line x1="407.25" y1="685.25" x2="407.25" y2="694.83" stroke="#333333" stroke-width="0.9" />
<line x1="405.85" y1="685.25" x2="408.65" y2="685.25" stroke="#333333" stroke-width="1.08" />
<line x1="405.85" y1="694.83" x2="408.65" y2="694.83" stroke="#333333" stroke-width="1.08" />
<line x1="409.44" y1="683.83" x2="409.44" y2="692.4" stroke="#333333" stroke-width="0.9" />
<line x1="408.04" y1="683.83" x2="410.84" y2="683.83" stroke="#333333" stroke-width="1.08" />
<line x1="408.04" y1="692.4" x2="410.84" y2="692.4" stroke="#333333" stroke-width="1.08" />
<line x1="411.63" y1="683.37" x2="411.63" y2="691.23" stroke="#333333" stroke-width="0.9" />
<line x1="410.23" y1="683.37" x2="413.03" y2="683.37" stroke="#333333" stroke-width="1.08" />
<line x1="410.23" y1="691.23" x2="413.03" y2="691.23" stroke="#333333" stroke-width="1.08" />
<line x1="413.82" y1="682.79" x2="413.82" y2="690.56" stroke="#333333" stroke-width="0.9" />
<line x1="412.42" y1="682.79" x2="415.22" y2="682.79" stroke="#333333" stroke-width="1.08" />
<line x1="412.42" y1="690.56" x2="415.22" y2="690.56" stroke="#333333" stroke-width="1.08" />
<line x1="416.01" y1="680.89" x2="416.01" y2="687.96" stroke="#333333" stroke-width="0.9" />
<line x1="414.61" y1="680.89" x2="417.41" y2="680.89" stroke="#333333" stroke-width="1.08" />
<line x1="414.61" y1="687.96" x2="417.41" y2="687.96" stroke="#333333" stroke-width="1.08" />
<line x1="418.2" y1="682.71" x2="418.2" y2="690.65" stroke="#333333" stroke-width="0.9" />
<line x1="416.8" y1="682.71" x2="419.6" y2="682.71" stroke="#333333" stroke-width="1.08" />
<line x1="416.8" y1="690.65" x2="419.6" y2="690.65" stroke="#333333" stroke-width="1.08" />
<line x1="420.39" y1="681.11" x2="420.39" y2="688.3" stroke="#333333" stroke-width="0.9" />
<line x1="418.99" y1="681.11" x2="421.79" y2="681.11" stroke="#333333" stroke-width="1.08" />
<line x1="418.99" y1="688.3" x2="421.79" y2="688.3" stroke="#333333" stroke-width="1.08" />
<line x1="422.58" y1="682.3" x2="422.58" y2="688.74" stroke="#333333" stroke-width="0.9" />
<line x1="421.18" y1="682.3" x2="423.98" y2="682.3" stroke="#333333" stroke-width="1.08" />
<line x1="421.18" y1="688.74" x2="423.98" y2="688.74" stroke="#333333" stroke-width="1.08" />
<line x1="424.77" y1="682.12" x2="424.77" y2="688.14" stroke="#333333" stroke-width="0.9" />
<line x1="423.37" y1="682.12" x2="426.17" y2="682.12" stroke="#333333" stroke-width="1.08" />
<line x1="423.37" y1="688.14" x2="426.17" y2="688.14" stroke="#333333" stroke-width="1.08" />
<line x1="426.96" y1="682.4" x2="426.96" y2="688.6" stroke="#333333" stroke-width="0.9" />
<line x1="425.56" y1="682.4" x2="428.36" y2="682.4" stroke="#333333" stroke-width="1.08" />
<line x1="425.56" y1="688.6" x2="428.36" y2="688.6" stroke="#333333" stroke-width="1.08" />
<line x1="429.15" y1="681.29" x2="429.15" y2="688.57" stroke="#333333" stroke-width="0.9" />
<line x1="427.75" y1="681.29" x2="430.55" y2="681.29" stroke="#333333" stroke-width="1.08" />
<line x1="427.75" y1="688.57" x2="430.55" y2="688.57" stroke="#333333" stroke-width="1.08" />
<line x1="431.34" y1="681.75" x2="431.34" y2="689.6" stroke="#333333" stroke-width="0.9" />
<line x1="429.94" y1="681.75" x2="432.74" y2="681.75" stroke="#333333" stroke-width="1.08" />
<line x1="429.94" y1="689.6" x2="432.74" y2="689.6" stroke="#333333" stroke-width="1.08" />
<line x1="433.53" y1="681.81" x2="433.53" y2="686.9" stroke="#333333" stroke-width="0.9" />
<line x1="432.13" y1="681.81" x2="434.93" y2="681.81" stroke="#333333" stroke-width="1.08" />
<line x1="432.13" y1="686.9" x2="434.93" y2="686.9" stroke="#333333" stroke-width="1.08" />
<line x1="435.72" y1="681.98" x2="435.72" y2="687.2" stroke="#333333" stroke-width="0.9" />
<line x1="434.32" y1="681.98" x2="437.12" y2="681.98" stroke="#333333" stroke-width="1.08" />
<line x1="434.32" y1="687.2" x2="437.12" y2="687.2" stroke="#333333" stroke-width="1.08" />
<line x1="437.91" y1="682.59" x2="437.91" y2="687.68" stroke="#333333" stroke-width="0.9" />
<line x1="436.51" y1="682.59" x2="439.31" y2="682.59" stroke="#333333" stroke-width="1.08" />
<line x1="436.51" y1="687.68" x2="439.31" y2="687.68" stroke="#333333" stroke-width="1.08" />
<line x1="440.1" y1="680.36" x2="440.1" y2="686.16" stroke="#333333" stroke-width="0.9" />
<line x1="438.7" y1="680.36" x2="441.5" y2="680.36" stroke="#333333" stroke-width="1.08" />
<line x1="438.7" y1="686.16" x2="441.5" y2="686.16" stroke="#333333" stroke-width="1.08" />
<line x1="442.29" y1="681.44" x2="442.29" y2="686.72" stroke="#333333" stroke-width="0.9" />
<line x1="440.89" y1="681.44" x2="443.69" y2="681.44" stroke="#333333" stroke-width="1.08" />
<line x1="440.89" y1="686.72" x2="443.69" y2="686.72" stroke="#333333" stroke-width="1.08" />
<line x1="444.48" y1="680.99" x2="444.48" y2="687.15" stroke="#333333" stroke-width="0.9" />
<line x1="443.08" y1="680.99" x2="445.88" y2="680.99" stroke="#333333" stroke-width="1.08" />
<line x1="443.08" y1="687.15" x2="445.88" y2="687.15" stroke="#333333" stroke-width="1.08" />
<line x1="446.67" y1="678.67" x2="446.67" y2="684.29" stroke="#333333" stroke-width="0.9" />
<line x1="445.27" y1="678.67" x2="448.07" y2="678.67" stroke="#333333" stroke-width="1.08" />
<line x1="445.27" y1="684.29" x2="448.07" y2="684.29" stroke="#333333" stroke-width="1.08" />
<line x1="448.86" y1="682.05" x2="448.86" y2="687.77" stroke="#333333" stroke-width="0.9" />
<line x1="447.46" y1="682.05" x2="450.26" y2="682.05" stroke="#333333" stroke-width="1.08" />
<line x1="447.46" y1="687.77" x2="450.26" y2="687.77" stroke="#333333" stroke-width="1.08" />
<line x1="451.05" y1="680.07" x2="451.05" y2="685.86" stroke="#333333" stroke-width="0.9" />
<line x1="449.65" y1="680.07" x2="452.45" y2="680.07" stroke="#333333" stroke-width="1.08" />
<line x1="449.65" y1="685.86" x2="452.45" y2="685.86" stroke="#333333" stroke-width="1.08" />
<line x1="453.24" y1="680.72" x2="453.24" y2="686.19" stroke="#333333" stroke-width="0.9" />
<line x1="451.84" y1="680.72" x2="454.64" y2="680.72" stroke="#333333" stroke-width="1.08" />
<line x1="451.84" y1="686.19" x2="454.64" y2="686.19" stroke="#333333" stroke-width="1.08" />
<line x1="455.43" y1="682.65" x2="455.43" y2="687.55" stroke="#333333" stroke-width="0.9" />
<line x1="454.03" y1="682.65" x2="456.83" y2="682.65" stroke="#333333" stroke-width="1.08" />
<line x1="454.03" y1="687.55" x2="456.83" y2="687.55" stroke="#333333" stroke-width="1.08" />
<line x1="457.62" y1="680.37" x2="457.62" y2="687.93" stroke="#333333" stroke-width="0.9" />
<line x1="456.22" y1="680.37" x2="459.02" y2="680.37" stroke="#333333" stroke-width="1.08" />
<line x1="456.22" y1="687.93" x2="459.02" y2="687.93" stroke="#333333" stroke-width="1.08" />
<line x1="459.81" y1="680.71" x2="459.81" y2="686.27" stroke="#333333" stroke-width="0.9" />
<line x1="458.41" y1="680.71" x2="461.21" y2="680.71" stroke="#333333" stroke-width="1.08" />
<line x1="458.41" y1="686.27" x2="461.21" y2="686.27" stroke="#333333" stroke-width="1.08" />
<line x1="462" y1="679.43" x2="462" y2="685.33" stroke="#333333" stroke-width="0.9" />
<line x1="460.6" y1="679.43" x2="463.4" y2="679.43" stroke="#333333" stroke-width="1.08" />
<line x1="460.6" y1="685.33" x2="463.4" y2="685.33" stroke="#333333" stroke-width="1.08" />
<line x1="464.19" y1="680.94" x2="464.19" y2="686.07" stroke="#333333" stroke-width="0.9" />
<line x1="462.79" y1="680.94" x2="465.59" y2="680.94" stroke="#333333" stroke-width="1.08" />
<line x1="462.79" y1="686.07" x2="465.59" y2="686.07" stroke="#333333" stroke-width="1.08" />
<line x1="466.38" y1="682.17" x2="466.38" y2="687.64" stroke="#333333" stroke-width="0.9" />
<line x1="464.98" y1="682.17" x2="467.78" y2="682.17" stroke="#333333" stroke-width="1.08" />
<line x1="464.98" y1="687.64" x2="467.78" y2="687.64" stroke="#333333" stroke-width="1.08" />
<line x1="468.57" y1="681.29" x2="468.57" y2="686.4" stroke="#333333" stroke-width="0.9" />
<line x1="467.17" y1="681.29" x2="469.97" y2="681.29" stroke="#333333" stroke-width="1.08" />
<line x1="467.17" y1="686.4" x2="469.97" y2="686.4" stroke="#333333" stroke-width="1.08" />
<line x1="470.76" y1="681.49" x2="470.76" y2="686.63" stroke="#333333" stroke-width="0.9" />
<line x1="469.36" y1="681.49" x2="472.16" y2="681.49" stroke="#333333" stroke-width="1.08" />
<line x1="469.36" y1="686.63" x2="472.16" y2="686.63" stroke="#333333" stroke-width="1.08" />
<line x1="472.95" y1="680.54" x2="472.95" y2="686.9" stroke="#333333" stroke-width="0.9" />
<line x1="471.55" y1="680.54" x2="474.35" y2="680.54" stroke="#333333" stroke-width="1.08" />
<line x1="471.55" y1="686.9" x2="474.35" y2="686.9" stroke="#333333" stroke-width="1.08" />
<line x1="475.14" y1="680.46" x2="475.14" y2="686.86" stroke="#333333" stroke-width="0.9" />
<line x1="473.74" y1="680.46" x2="476.54" y2="680.46" stroke="#333333" stroke-width="1.08" />
<line x1="473.74" y1="686.86" x2="476.54" y2="686.86" stroke="#333333" stroke-width="1.08" />
<line x1="477.33" y1="681.39" x2="477.33" y2="688.76" stroke="#333333" stroke-width="0.9" />
<line x1="475.93" y1="681.39" x2="478.73" y2="681.39" stroke="#333333" stroke-width="1.08" />
<line x1="475.93" y1="688.76" x2="478.73" y2="688.76" stroke="#333333" stroke-width="1.08" />
<line x1="479.52" y1="680.4" x2="479.52" y2="687.45" stroke="#333333" stroke-width="0.9" />
<line x1="478.12" y1="680.4" x2="480.92" y2="680.4" stroke="#333333" stroke-width="1.08" />
<line x1="478.12" y1="687.45" x2="480.92" y2="687.45" stroke="#333333" stroke-width="1.08" />
<line x1="481.71" y1="680.67" x2="481.71" y2="685.7" stroke="#333333" stroke-width="0.9" />
<line x1="480.31" y1="680.67" x2="483.11" y2="680.67" stroke="#333333" stroke-width="1.08" />
<line x1="480.31" y1="685.7" x2="483.11" y2="685.7" stroke="#333333" stroke-width="1.08" />
<line x1="483.9" y1="681.21" x2="483.9" y2="686.38" stroke="#333333" stroke-width="0.9" />
<line x1="482.5" y1="681.21" x2="485.3" y2="681.21" stroke="#333333" stroke-width="1.08" />
<line x1="482.5" y1="686.38" x2="485.3" y2="686.38" stroke="#333333" stroke-width="1.08" />
<line x1="486.09" y1="681.02" x2="486.09" y2="685.81" stroke="#333333" stroke-width="0.9" />
<line x1="484.69" y1="681.02" x2="487.49" y2="681.02" stroke="#333333" stroke-width="1.08" />
<line x1="484.69" y1="685.81" x2="487.49" y2="685.81" stroke="#333333" stroke-width="1.08" />
<line x1="488.28" y1="678.65" x2="488.28" y2="685.79" stroke="#333333" stroke-width="0.9" />
<line x1="486.88" y1="678.65" x2="489.68" y2="678.65" stroke="#333333" stroke-width="1.08" />
<line x1="486.88" y1="685.79" x2="489.68" y2="685.79" stroke="#333333" stroke-width="1.08" />
<line x1="490.47" y1="681.92" x2="490.47" y2="687.16" stroke="#333333" stroke-width="0.9" />
<line x1="489.07" y1="681.92" x2="491.87" y2="681.92" stroke="#333333" stroke-width="1.08" />
<line x1="489.07" y1="687.16" x2="491.87" y2="687.16" stroke="#333333" stroke-width="1.08" />
<line x1="492.66" y1="682.3" x2="492.66" y2="688.24" stroke="#333333" stroke-width="0.9" />
<line x1="491.26" y1="682.3" x2="494.06" y2="682.3" stroke="#333333" stroke-width="1.08" />
<line x1="491.26" y1="688.24" x2="494.06" y2="688.24" stroke="#333333" stroke-width="1.08" />
<line x1="494.85" y1="681.86" x2="494.85" y2="686.72" stroke="#333333" stroke-width="0.9" />
<line x1="493.45" y1="681.86" x2="496.25" y2="681.86" stroke="#333333" stroke-width="1.08" />
<line x1="493.45" y1="686.72" x2="496.25" y2="686.72" stroke="#333333" stroke-width="1.08" />
<line x1="497.04" y1="679.33" x2="497.04" y2="684.91" stroke="#333333" stroke-width="0.9" />
<line x1="495.64" y1="679.33" x2="498.44" y2="679.33" stroke="#333333" stroke-width="1.08" />
<line x1="495.64" y1="684.91" x2="498.44" y2="684.91" stroke="#333333" stroke-width="1.08" />
<line x1="499.23" y1="680.07" x2="499.23" y2="685.51" stroke="#333333" stroke-width="0.9" />
<line x1="497.83" y1="680.07" x2="500.63" y2="680.07" stroke="#333333" stroke-width="1.08" />
<line x1="497.83" y1="685.51" x2="500.63" y2="685.51" stroke="#333333" stroke-width="1.08" />
<line x1="501.42" y1="679.6" x2="501.42" y2="687.32" stroke="#333333" stroke-width="0.9" />
<line x1="500.02" y1="679.6" x2="502.82" y2="679.6" stroke="#333333" stroke-width="1.08" />
<line x1="500.02" y1="687.32" x2="502.82" y2="687.32" stroke="#333333" stroke-width="1.08" />
<line x1="503.61" y1="681.55" x2="503.61" y2="686.61" stroke="#333333" stroke-width="0.9" />
<line x1="502.21" y1="681.55" x2="505.01" y2="681.55" stroke="#333333" stroke-width="1.08" />
<line x1="502.21" y1="686.61" x2="505.01" y2="686.61" stroke="#333333" stroke-width="1.08" />
<line x1="505.8" y1="678.26" x2="505.8" y2="684.12" stroke="#333333" stroke-width="0.9" />
<line x1="504.4" y1="678.26" x2="507.2" y2="678.26" stroke="#333333" stroke-width="1.08" />
<line x1="504.4" y1="684.12" x2="507.2" y2="684.12" stroke="#333333" stroke-width="1.08" />
<line x1="507.99" y1="683.18" x2="507.99" y2="688.19" stroke="#333333" stroke-width="0.9" />
<line x1="506.59" y1="683.18" x2="509.39" y2="683.18" stroke="#333333" stroke-width="1.08" />
<line x1="506.59" y1="688.19" x2="509.39" y2="688.19" stroke="#333333" stroke-width="1.08" />
<line x1="510.18" y1="681.03" x2="510.18" y2="686.6" stroke="#333333" stroke-width="0.9" />
<line x1="508.78" y1="681.03" x2="511.58" y2="681.03" stroke="#333333" stroke-width="1.08" />
<line x1="508.78" y1="686.6" x2="511.58" y2="686.6" stroke="#333333" stroke-width="1.08" />
<line x1="512.37" y1="680.87" x2="512.37" y2="686.54" stroke="#333333" stroke-width="0.9" />
<line x1="510.97" y1="680.87" x2="513.77" y2="680.87" stroke="#333333" stroke-width="1.08" />
<line x1="510.97" y1="686.54" x2="513.77" y2="686.54" stroke="#333333" stroke-width="1.08" />
<line x1="514.56" y1="679.38" x2="514.56" y2="684.36" stroke="#333333" stroke-width="0.9" />
<line x1="513.16" y1="679.38" x2="515.96" y2="679.38" stroke="#333333" stroke-width="1.08" />
<line x1="513.16" y1="684.36" x2="515.96" y2="684.36" stroke="#333333" stroke-width="1.08" />
<line x1="516.75" y1="681.58" x2="516.75" y2="686.71" stroke="#333333" stroke-width="0.9" />
<line x1="515.35" y1="681.58" x2="518.15" y2="681.58" stroke="#333333" stroke-width="1.08" />
<line x1="515.35" y1="686.71" x2="518.15" y2="686.71" stroke="#333333" stroke-width="1.08" />
<line x1="518.94" y1="680.69" x2="518.94" y2="685.58" stroke="#333333" stroke-width="0.9" />
<line x1="517.54" y1="680.69" x2="520.34" y2="680.69" stroke="#333333" stroke-width="1.08" />
<line x1="517.54" y1="685.58" x2="520.34" y2="685.58" stroke="#333333" stroke-width="1.08" />
<line x1="521.13" y1="680.58" x2="521.13" y2="685.79" stroke="#333333" stroke-width="0.9" />
<line x1="519.73" y1="680.58" x2="522.53" y2="680.58" stroke="#333333" stroke-width="1.08" />
<line x1="519.73" y1="685.79" x2="522.53" y2="685.79" stroke="#333333" stroke-width="1.08" />
<line x1="523.32" y1="680.97" x2="523.32" y2="688.02" stroke="#333333" stroke-width="0.9" />
<line x1="521.92" y1="680.97" x2="524.72" y2="680.97" stroke="#333333" stroke-width="1.08" />
<line x1="521.92" y1="688.02" x2="524.72" y2="688.02" stroke="#333333" stroke-width="1.08" />
<line x1="525.51" y1="681.38" x2="525.51" y2="686.22" stroke="#333333" stroke-width="0.9" />
<line x1="524.11" y1="681.38" x2="526.91" y2="681.38" stroke="#333333" stroke-width="1.08" />
<line x1="524.11" y1="686.22" x2="526.91" y2="686.22" stroke="#333333" stroke-width="1.08" />
<line x1="527.7" y1="680.38" x2="527.7" y2="686.26" stroke="#333333" stroke-width="0.9" />
<line x1="526.3" y1="680.38" x2="529.1" y2="680.38" stroke="#333333" stroke-width="1.08" />
<line x1="526.3" y1="686.26" x2="529.1" y2="686.26" stroke="#333333" stroke-width="1.08" />
<circle cx="67.8" cy="664.46" r="2" stroke="#333333" stroke-width="1.0" fill="#d0d0d0"/>
<circle cx="69.99" cy="661.83" r="2" stroke="#333333" stroke-width="1.0" fill="#d0d0d0"/>
<circle cx="72.18" cy="662.91" r="2" stroke="#333333" stroke-width="1.0" fill="#d0d0d0"/>
<circle cx="74.37" cy="661.12" r="2" stroke="#333333" stroke-width="1.0" fill="#d0d0d0"/>
<circle cx="76.56" cy="660.71" r="2" stroke="#333333" stroke-width="1.0" fill="#d0d0d0"/>
<circle cx="78.75" cy="661.99" r="2" stroke="#333333" stroke-width="1.0" fill="#d0d0d0"/>
<circle cx="80.94" cy="663.52" r="2" stroke="#333333" stroke-width="1.0" fill="#d0d0d0"/>
<circle cx="83.13" cy="664.19" r="2" stroke="#333333" stroke-width="1.0" fill="#d0d0d0"/>
<circle cx="85.32" cy="661.42" r="2" stroke="#333333" stroke-width="1.0" fill="#d0d0d0"/>
<circle cx="87.51" cy="662.9" r="2" stroke="#333333" stroke-width="1.0" fill="#d0d0d0"/>
<circle cx="89.7" cy="662.2" r="2" stroke="#333333" stroke-width="1.0" fill="#d0d0d0"/>
<circle cx="91.89" cy="662.16" r="2" stroke="#333333" stroke-width="1.0" fill="#d0d0d0"/>
<circle cx="94.08" cy="663.03" r="2" stroke="#333333" stroke-width="1.0" fill="#d0d0d0"/>
<circle cx="96.27" cy="659.78" r="2" stroke="#333333" stroke-width="1.0" fill="#d0d0d0"/>
<circle cx="98.46" cy="662.46" r="2" stroke="#333333" stroke-width="1.0" fill="#d0d0d0"/>
<circle cx="100.65" cy="660.01" r="2" stroke="#333333" stroke-width="1.0" fill="#d0d0d0"/>
<circle cx="102.84" cy="663.79" r="2" stroke="#333333" stroke-width="1.0" fill="#d0d0d0"/>
<circle cx="105.03" cy="665.06" r="2" stroke="#333333" stroke-width="1.0" fill="#d0d0d0"/>
<circle cx="107.22" cy="662.21" r="2" stroke="#333333" stroke-width="1.0" fill="#d0d0d0"/>
<circle cx="109.41" cy="664.57" r="2" stroke="#333333" stroke-width="1.0" fill="#d0d0d0"/>
<circle cx="111.6" cy="662.43" r="2" stroke="#333333" stroke-width="1.0" fill="#d0d0d0"/>
<circle cx="113.79" cy="663.84" r="2" stroke="#333333" stroke-width="1.0" fill="#d0d0d0"/>
<circle cx="115.98" cy="662.93" r="2" stroke="#333333" stroke-width="1.0" fill="#d0d0d0"/>
<circle cx="118.17" cy="663.79" r="2" stroke="#333333" stroke-width="1.0" fill="#d0d0d0"/>
<circle cx="120.36" cy="661.04" r="2" stroke="#333333" stroke-width="1.0" fill="#d0d0d0"/>
<circle cx="122.55" cy="663.71" r="2" stroke="#333333" stroke-width="1.0" fill="#d0d0d0"/>
<circle cx="124.74" cy="662.36" r="2" stroke="#333333" stroke-width="1.0" fill="#d0d0d0"/>
<circle cx="126.93" cy="663.62" r="2" stroke="#333333" stroke-width="1.0" fill="#d0d0d0"/>
<circle cx="129.12" cy="663.06" r="2" stroke="#333333" stroke-width="1.0" fill="#d0d0d0"/>
<circle cx="131.31" cy="662.57" r="2" stroke="#333333" stroke-width="1.0" fill="#d0d0d0"/>
<circle cx="133.5" cy="662.82" r="2" stroke="#333333" stroke-width="1.0" fill="#d0d0d0"/>
<circle cx="166.35" cy="704.46" r="2" stroke="#333333" stroke-width="1.0" fill="#d0d0d0"/>
<circle cx="168.54" cy="701.83" r="2" stroke="#333333" stroke-width="1.0" fill="#d0d0d0"/>
<circle cx="170.73" cy="697.1" r="2" stroke="#333333" stroke-width="1.0" fill="#d0d0d0"/>
<circle cx="172.92" cy="695.04" r="2" stroke="#333333" stroke-width="1.0" fill="#d0d0d0"/>
<circle cx="175.11" cy="688.81" r="2" stroke="#333333" stroke-width="1.0" fill="#d0d0d0"/>
<circle cx="177.3" cy="684.21" r="2" stroke="#333333" stroke-width="1.0" fill="#d0d0d0"/>
<circle cx="179.49" cy="688.2" r="2" stroke="#333333" stroke-width="1.0" fill="#d0d0d0"/>
<circle cx="181.68" cy="684.56" r="2" stroke="#333333" stroke-width="1.0" fill="#d0d0d0"/>
<circle cx="183.87" cy="680.47" r="2" stroke="#333333" stroke-width="1.0" fill="#d0d0d0"/>
<circle cx="186.06" cy="679.31" r="2" stroke="#333333" stroke-width="1.0" fill="#d0d0d0"/>
<circle cx="188.25" cy="679.07" r="2" stroke="#333333" stroke-width="1.0" fill="#d0d0d0"/>
<circle cx="190.44" cy="678.4" r="2" stroke="#333333" stroke-width="1.0" fill="#d0d0d0"/>
<circle cx="192.63" cy="673.8" r="2" stroke="#333333" stroke-width="1.0" fill="#d0d0d0"/>
<circle cx="194.82" cy="675.09" r="2" stroke="#333333" stroke-width="1.0" fill="#d0d0d0"/>
<circle cx="197.01" cy="672.42" r="2" stroke="#333333" stroke-width="1.0" fill="#d0d0d0"/>
<circle cx="199.2" cy="673.49" r="2" stroke="#333333" stroke-width="1.0" fill="#d0d0d0"/>
<circle cx="201.39" cy="670.58" r="2" stroke="#333333" stroke-width="1.0" fill="#d0d0d0"/>
<circle cx="203.58" cy="673.07" r="2" stroke="#333333" stroke-width="1.0" fill="#d0d0d0"/>
<circle cx="205.77" cy="674.67" r="2" stroke="#333333" stroke-width="1.0" fill="#d0d0d0"/>
<circle cx="207.96" cy="672.24" r="2" stroke="#333333" stroke-width="1.0" fill="#d0d0d0"/>
<circle cx="210.15" cy="669.74" r="2" stroke="#333333" stroke-width="1.0" fill="#d0d0d0"/>
<circle cx="212.34" cy="669.66" r="2" stroke="#333333" stroke-width="1.0" fill="#d0d0d0"/>
<circle cx="214.53" cy="671.39" r="2" stroke="#333333" stroke-width="1.0" fill="#d0d0d0"/>
<circle cx="216.72" cy="669.18" r="2" stroke="#333333" stroke-width="1.0" fill="#d0d0d0"/>
<circle cx="218.91" cy="670.5" r="2" stroke="#333333" stroke-width="1.0" fill="#d0d0d0"/>
<circle cx="221.1" cy="669.06" r="2" stroke="#333333" stroke-width="1.0" fill="#d0d0d0"/>
<circle cx="223.29" cy="670.6" r="2" stroke="#333333" stroke-width="1.0" fill="#d0d0d0"/>
<circle cx="225.48" cy="668.95" r="2" stroke="#333333" stroke-width="1.0" fill="#d0d0d0"/>
<circle cx="227.67" cy="666.91" r="2" stroke="#333333" stroke-width="1.0" fill="#d0d0d0"/>
<circle cx="229.86" cy="670.43" r="2" stroke="#333333" stroke-width="1.0" fill="#d0d0d0"/>
<circle cx="232.05" cy="666.67" r="2" stroke="#333333" stroke-width="1.0" fill="#d0d0d0"/>
<circle cx="234.24" cy="668.5" r="2" stroke="#333333" stroke-width="1.0" fill="#d0d0d0"/>
<circle cx="236.43" cy="669.26" r="2" stroke="#333333" stroke-width="1.0" fill="#d0d0d0"/>
<circle cx="238.62" cy="670.12" r="2" stroke="#333333" stroke-width="1.0" fill="#d0d0d0"/>
<circle cx="240.81" cy="670.66" r="2" stroke="#333333" stroke-width="1.0" fill="#d0d0d0"/>
<circle cx="243" cy="668.86" r="2" stroke="#333333" stroke-width="1.0" fill="#d0d0d0"/>
<circle cx="245.19" cy="667.74" r="2" stroke="#333333" stroke-width="1.0" fill="#d0d0d0"/>
<circle cx="247.38" cy="668.41" r="2" stroke="#333333" stroke-width="1.0" fill="#d0d0d0"/>
<circle cx="249.57" cy="670.22" r="2" stroke="#333333" stroke-width="1.0" fill="#d0d0d0"/>
<circle cx="251.76" cy="666.97" r="2" stroke="#333333" stroke-width="1.0" fill="#d0d0d0"/>
<circle cx="253.95" cy="666.36" r="2" stroke="#333333" stroke-width="1.0" fill="#d0d0d0"/>
<circle cx="256.14" cy="669.2" r="2" stroke="#333333" stroke-width="1.0" fill="#d0d0d0"/>
<circle cx="258.33" cy="672.23" r="2" stroke="#333333" stroke-width="1.0" fill="#d0d0d0"/>
<circle cx="260.52" cy="667.84" r="2" stroke="#333333" stroke-width="1.0" fill="#d0d0d0"/>
<circle cx="262.71" cy="670.47" r="2" stroke="#333333" stroke-width="1.0" fill="#d0d0d0"/>
<circle cx="264.9" cy="669.97" r="2" stroke="#333333" stroke-width="1.0" fill="#d0d0d0"/>
<circle cx="267.09" cy="667.23" r="2" stroke="#333333" stroke-width="1.0" fill="#d0d0d0"/>
<circle cx="269.28" cy="671.22" r="2" stroke="#333333" stroke-width="1.0" fill="#d0d0d0"/>
<circle cx="271.47" cy="668.74" r="2" stroke="#333333" stroke-width="1.0" fill="#d0d0d0"/>
<circle cx="273.66" cy="665.53" r="2" stroke="#333333" stroke-width="1.0" fill="#d0d0d0"/>
<circle cx="275.85" cy="667.16" r="2" stroke="#333333" stroke-width="1.0" fill="#d0d0d0"/>
<circle cx="278.04" cy="667.21" r="2" stroke="#333333" stroke-width="1.0" fill="#d0d0d0"/>
<circle cx="280.23" cy="667.51" r="2" stroke="#333333" stroke-width="1.0" fill="#d0d0d0"/>
<circle cx="282.42" cy="668.57" r="2" stroke="#333333" stroke-width="1.0" fill="#d0d0d0"/>
<circle cx="284.61" cy="669.78" r="2" stroke="#333333" stroke-width="1.0" fill="#d0d0d0"/>
<circle cx="286.8" cy="669.37" r="2" stroke="#333333" stroke-width="1.0" fill="#d0d0d0"/>
<circle cx="288.99" cy="670.64" r="2" stroke="#333333" stroke-width="1.0" fill="#d0d0d0"/>
<circle cx="291.18" cy="669.21" r="2" stroke="#333333" stroke-width="1.0" fill="#d0d0d0"/>
<circle cx="293.37" cy="670.55" r="2" stroke="#333333" stroke-width="1.0" fill="#d0d0d0"/>
<circle cx="295.56" cy="670.56" r="2" stroke="#333333" stroke-width="1.0" fill="#d0d0d0"/>
<circle cx="297.75" cy="667.84" r="2" stroke="#333333" stroke-width="1.0" fill="#d0d0d0"/>
<circle cx="299.94" cy="667.45" r="2" stroke="#333333" stroke-width="1.0" fill="#d0d0d0"/>
<circle cx="302.13" cy="670.83" r="2" stroke="#333333" stroke-width="1.0" fill="#d0d0d0"/>
<circle cx="304.32" cy="672.41" r="2" stroke="#333333" stroke-width="1.0" fill="#d0d0d0"/>
<circle cx="306.51" cy="668.21" r="2" stroke="#333333" stroke-width="1.0" fill="#d0d0d0"/>
<circle cx="308.7" cy="666.01" r="2" stroke="#333333" stroke-width="1.0" fill="#d0d0d0"/>
<circle cx="310.89" cy="669.39" r="2" stroke="#333333" stroke-width="1.0" fill="#d0d0d0"/>
<circle cx="313.08" cy="670.72" r="2" stroke="#333333" stroke-width="1.0" fill="#d0d0d0"/>
<circle cx="315.27" cy="667.03" r="2" stroke="#333333" stroke-width="1.0" fill="#d0d0d0"/>
<circle cx="317.46" cy="667.4" r="2" stroke="#333333" stroke-width="1.0" fill="#d0d0d0"/>
<circle cx="319.65" cy="664.76" r="2" stroke="#333333" stroke-width="1.0" fill="#d0d0d0"/>
<circle cx="321.84" cy="666.99" r="2" stroke="#333333" stroke-width="1.0" fill="#d0d0d0"/>
<circle cx="324.03" cy="668.78" r="2" stroke="#333333" stroke-width="1.0" fill="#d0d0d0"/>
<circle cx="326.22" cy="666.85" r="2" stroke="#333333" stroke-width="1.0" fill="#d0d0d0"/>
<circle cx="328.41" cy="666.25" r="2" stroke="#333333" stroke-width="1.0" fill="#d0d0d0"/>
<circle cx="330.6" cy="663.74" r="2" stroke="#333333" stroke-width="1.0" fill="#d0d0d0"/>
<circle cx="332.79" cy="667.53" r="2" stroke="#333333" stroke-width="1.0" fill="#d0d0d0"/>
<circle cx="334.98" cy="666.66" r="2" stroke="#333333" stroke-width="1.0" fill="#d0d0d0"/>
<circle cx="337.17" cy="664.16" r="2" stroke="#333333" stroke-width="1.0" fill="#d0d0d0"/>
<circle cx="339.36" cy="664.49" r="2" stroke="#333333" stroke-width="1.0" fill="#d0d0d0"/>
<circle cx="341.55" cy="668.14" r="2" stroke="#333333" stroke-width="1.0" fill="#d0d0d0"/>
<circle cx="343.74" cy="665.73" r="2" stroke="#333333" stroke-width="1.0" fill="#d0d0d0"/>
<circle cx="345.93" cy="665.13" r="2" stroke="#333333" stroke-width="1.0" fill="#d0d0d0"/>
<circle cx="348.12" cy="665.44" r="2" stroke="#333333" stroke-width="1.0" fill="#d0d0d0"/>
<circle cx="350.31" cy="663.83" r="2" stroke="#333333" stroke-width="1.0" fill="#d0d0d0"/>
<circle cx="352.5" cy="662.84" r="2" stroke="#333333" stroke-width="1.0" fill="#d0d0d0"/>
<circle cx="354.69" cy="661.24" r="2" stroke="#333333" stroke-width="1.0" fill="#d0d0d0"/>
<circle cx="356.88" cy="661.09" r="2" stroke="#333333" stroke-width="1.0" fill="#d0d0d0"/>
<circle cx="359.07" cy="660.69" r="2" stroke="#333333" stroke-width="1.0" fill="#d0d0d0"/>
<circle cx="361.26" cy="663.72" r="2" stroke="#333333" stroke-width="1.0" fill="#d0d0d0"/>
<circle cx="363.45" cy="663.4" r="2" stroke="#333333" stroke-width="1.0" fill="#d0d0d0"/>
<circle cx="396.3" cy="695.88" r="2" stroke="#333333" stroke-width="1.0" fill="#d0d0d0"/>
<circle cx="398.49" cy="693.89" r="2" stroke="#333333" stroke-width="1.0" fill="#d0d0d0"/>
<circle cx="400.68" cy="692.97" r="2" stroke="#333333" stroke-width="1.0" fill="#d0d0d0"/>
<circle cx="402.87" cy="691.42" r="2" stroke="#333333" stroke-width="1.0" fill="#d0d0d0"/>
<circle cx="405.06" cy="690.3" r="2" stroke="#333333" stroke-width="1.0" fill="#d0d0d0"/>
<circle cx="407.25" cy="690.04" r="2" stroke="#333333" stroke-width="1.0" fill="#d0d0d0"/>
<circle cx="409.44" cy="688.11" r="2" stroke="#333333" stroke-width="1.0" fill="#d0d0d0"/>
<circle cx="411.63" cy="687.3" r="2" stroke="#333333" stroke-width="1.0" fill="#d0d0d0"/>
<circle cx="413.82" cy="686.67" r="2" stroke="#333333" stroke-width="1.0" fill="#d0d0d0"/>
<circle cx="416.01" cy="684.43" r="2" stroke="#333333" stroke-width="1.0" fill="#d0d0d0"/>
<circle cx="418.2" cy="686.68" r="2" stroke="#333333" stroke-width="1.0" fill="#d0d0d0"/>
<circle cx="420.39" cy="684.7" r="2" stroke="#333333" stroke-width="1.0" fill="#d0d0d0"/>
<circle cx="422.58" cy="685.52" r="2" stroke="#333333" stroke-width="1.0" fill="#d0d0d0"/>
<circle cx="424.77" cy="685.13" r="2" stroke="#333333" stroke-width="1.0" fill="#d0d0d0"/>
<circle cx="426.96" cy="685.5" r="2" stroke="#333333" stroke-width="1.0" fill="#d0d0d0"/>
<circle cx="429.15" cy="684.93" r="2" stroke="#333333" stroke-width="1.0" fill="#d0d0d0"/>
<circle cx="431.34" cy="685.67" r="2" stroke="#333333" stroke-width="1.0" fill="#d0d0d0"/>
<circle cx="433.53" cy="684.35" r="2" stroke="#333333" stroke-width="1.0" fill="#d0d0d0"/>
<circle cx="435.72" cy="684.59" r="2" stroke="#333333" stroke-width="1.0" fill="#d0d0d0"/>
<circle cx="437.91" cy="685.13" r="2" stroke="#333333" stroke-width="1.0" fill="#d0d0d0"/>
<circle cx="440.1" cy="683.26" r="2" stroke="#333333" stroke-width="1.0" fill="#d0d0d0"/>
<circle cx="442.29" cy="684.08" r="2" stroke="#333333" stroke-width="1.0" fill="#d0d0d0"/>
<circle cx="444.48" cy="684.07" r="2" stroke="#333333" stroke-width="1.0" fill="#d0d0d0"/>
<circle cx="446.67" cy="681.48" r="2" stroke="#333333" stroke-width="1.0" fill="#d0d0d0"/>
<circle cx="448.86" cy="684.91" r="2" stroke="#333333" stroke-width="1.0" fill="#d0d0d0"/>
<circle cx="451.05" cy="682.97" r="2" stroke="#333333" stroke-width="1.0" fill="#d0d0d0"/>
<circle cx="453.24" cy="683.46" r="2" stroke="#333333" stroke-width="1.0" fill="#d0d0d0"/>
<circle cx="455.43" cy="685.1" r="2" stroke="#333333" stroke-width="1.0" fill="#d0d0d0"/>
<circle cx="457.62" cy="684.15" r="2" stroke="#333333" stroke-width="1.0" fill="#d0d0d0"/>
<circle cx="459.81" cy="683.49" r="2" stroke="#333333" stroke-width="1.0" fill="#d0d0d0"/>
<circle cx="462" cy="682.38" r="2" stroke="#333333" stroke-width="1.0" fill="#d0d0d0"/>
<circle cx="464.19" cy="683.5" r="2" stroke="#333333" stroke-width="1.0" fill="#d0d0d0"/>
<circle cx="466.38" cy="684.91" r="2" stroke="#333333" stroke-width="1.0" fill="#d0d0d0"/>
<circle cx="468.57" cy="683.85" r="2" stroke="#333333" stroke-width="1.0" fill="#d0d0d0"/>
<circle cx="470.76" cy="684.06" r="2" stroke="#333333" stroke-width="1.0" fill="#d0d0d0"/>
<circle cx="472.95" cy="683.72" r="2" stroke="#333333" stroke-width="1.0" fill="#d0d0d0"/>
<circle cx="475.14" cy="683.66" r="2" stroke="#333333" stroke-width="1.0" fill="#d0d0d0"/>
<circle cx="477.33" cy="685.07" r="2" stroke="#333333" stroke-width="1.0" fill="#d0d0d0"/>
<circle cx="479.52" cy="683.92" r="2" stroke="#333333" stroke-width="1.0" fill="#d0d0d0"/>
<circle cx="481.71" cy="683.19" r="2" stroke="#333333" stroke-width="1.0" fill="#d0d0d0"/>
<circle cx="483.9" cy="683.8" r="2" stroke="#333333" stroke-width="1.0" fill="#d0d0d0"/>
<circle cx="486.09" cy="683.41" r="2" stroke="#333333" stroke-width="1.0" fill="#d0d0d0"/>
<circle cx="488.28" cy="682.22" r="2" stroke="#333333" stroke-width="1.0" fill="#d0d0d0"/>
<circle cx="490.47" cy="684.54" r="2" stroke="#333333" stroke-width="1.0" fill="#d0d0d0"/>
<circle cx="492.66" cy="685.27" r="2" stroke="#333333" stroke-width="1.0" fill="#d0d0d0"/>
<circle cx="494.85" cy="684.29" r="2" stroke="#333333" stroke-width="1.0" fill="#d0d0d0"/>
<circle cx="497.04" cy="682.12" r="2" stroke="#333333" stroke-width="1.0" fill="#d0d0d0"/>
<circle cx="499.23" cy="682.79" r="2" stroke="#333333" stroke-width="1.0" fill="#d0d0d0"/>
<circle cx="501.42" cy="683.46" r="2" stroke="#333333" stroke-width="1.0" fill="#d0d0d0"/>
<circle cx="503.61" cy="684.08" r="2" stroke="#333333" stroke-width="1.0" fill="#d0d0d0"/>
<circle cx="505.8" cy="681.19" r="2" stroke="#333333" stroke-width="1.0" fill="#d0d0d0"/>
<circle cx="507.99" cy="685.69" r="2" stroke="#333333" stroke-width="1.0" fill="#d0d0d0"/>
<circle cx="510.18" cy="683.82" r="2" stroke="#333333" stroke-width="1.0" fill="#d0d0d0"/>
<circle cx="512.37" cy="683.7" r="2" stroke="#333333" stroke-width="1.0" fill="#d0d0d0"/>
<circle cx="514.56" cy="681.87" r="2" stroke="#333333" stroke-width="1.0" fill="#d0d0d0"/>
<circle cx="516.75" cy="684.14" r="2" stroke="#333333" stroke-width="1.0" fill="#d0d0d0"/>
<circle cx="518.94" cy="683.13" r="2" stroke="#333333" stroke-width="1.0" fill="#d0d0d0"/>
<circle cx="521.13" cy="683.18" r="2" stroke="#333333" stroke-width="1.0" fill="#d0d0d0"/>
<circle cx="523.32" cy="684.49" r="2" stroke="#333333" stroke-width="1.0" fill="#d0d0d0"/>
<circle cx="525.51" cy="683.8" r="2" stroke="#333333" stroke-width="1.0" fill="#d0d0d0"/>
<circle cx="527.7" cy="683.32" r="2" stroke="#333333" stroke-width="1.0" fill="#d0d0d0"/>
<circle cx="462.9" cy="731.7" r="2.3" stroke="#333333" stroke-width="1.0" fill="#c4c4c4"/>
<text transform="translate(485.6 736.8) scale(1 1.0)" font-size="13.1" text-anchor="start" font-weight="normal" font-style="normal" fill="#1a1a1a" >CTL</text>
<circle cx="462.9" cy="753.5" r="2.3" stroke="#5c1a78" stroke-width="1.0" fill="#efd6ff"/>
<text transform="translate(485.6 758.4) scale(1 1.0)" font-size="13.1" text-anchor="start" font-weight="normal" font-style="normal" fill="#1a1a1a" >cKO</text>
<rect x="625.2" y="712.8" width="19.4" height="56.2" fill="#808080" stroke="#404040" stroke-width="1.0"/>
<rect x="655.4" y="699.21" width="18.6" height="69.79" fill="#a000e6" stroke="#4b0072" stroke-width="1.0"/>
<line x1="634.9" y1="711.36" x2="634.9" y2="714.24" stroke="#333" stroke-width="1.0" />
<line x1="630.4" y1="711.36" x2="639.4" y2="711.36" stroke="#333" stroke-width="1.2" />
<line x1="630.4" y1="714.24" x2="639.4" y2="714.24" stroke="#333" stroke-width="1.2" />
<line x1="664.4" y1="696.05" x2="664.4" y2="702.3" stroke="#3a0058" stroke-width="1.0" />
<line x1="659.9" y1="696.05" x2="668.9" y2="696.05" stroke="#3a0058" stroke-width="1.2" />
<line x1="659.9" y1="702.3" x2="668.9" y2="702.3" stroke="#3a0058" stroke-width="1.2" />
<line x1="616.5" y1="697.53" x2="685" y2="697.53" stroke="#111" stroke-width="1.2" stroke-dasharray="3.4,2.4"/>
<line x1="615.9" y1="660.59" x2="615.9" y2="769.6" stroke="#222" stroke-width="1.3" />
<line x1="615.3" y1="769" x2="685" y2="769" stroke="#222" stroke-width="1.3" />
<line x1="609.9" y1="769" x2="615.9" y2="769" stroke="#222" stroke-width="1.2" />
<text transform="translate(606.8 773.4) scale(1 1.0)" font-size="11.6" text-anchor="end" font-weight="normal" font-style="normal" fill="#1a1a1a" >0</text>
<line x1="609.9" y1="733.07" x2="615.9" y2="733.07" stroke="#222" stroke-width="1.2" />
<text transform="translate(606.8 737.47) scale(1 1.0)" font-size="11.6" text-anchor="end" font-weight="normal" font-style="normal" fill="#1a1a1a" >50</text>
<line x1="609.9" y1="697.13" x2="615.9" y2="697.13" stroke="#222" stroke-width="1.2" />
<text transform="translate(606.8 701.53) scale(1 1.0)" font-size="11.6" text-anchor="end" font-weight="normal" font-style="normal" fill="#1a1a1a" >100</text>
<line x1="609.9" y1="661.19" x2="615.9" y2="661.19" stroke="#222" stroke-width="1.2" />
<text transform="translate(606.8 665.59) scale(1 1.0)" font-size="11.6" text-anchor="end" font-weight="normal" font-style="normal" fill="#1a1a1a" >150</text>
<line x1="634.9" y1="769" x2="634.9" y2="774.4" stroke="#222" stroke-width="1.2" />
<line x1="664.4" y1="769" x2="664.4" y2="774.4" stroke="#222" stroke-width="1.2" />
<text transform="translate(634.9 792) scale(1 1.06)" font-size="11.7" text-anchor="middle" font-weight="normal" font-style="normal" fill="#1a1a1a" >CTL</text>
<text transform="translate(664.4 792) scale(1 1.06)" font-size="11.7" text-anchor="middle" font-weight="normal" font-style="normal" fill="#1a1a1a" >cKO</text>
<text transform="translate(562.8 718.0) rotate(-90) scale(1.1 1)" font-size="12.36" text-anchor="middle" fill="#1a1a1a">Last 10 min</text>
<text transform="translate(577.2 717.5) rotate(-90) scale(1.1 1)" font-size="12.36" text-anchor="middle" fill="#1a1a1a">amplitude (%)</text>
<circle cx="634.9" cy="704.2" r="2.3" stroke="#555" stroke-width="1.0" fill="#dcdcdc"/>
<circle cx="630.9" cy="711.5" r="2.3" stroke="#555" stroke-width="1.0" fill="#dcdcdc"/>
<circle cx="642.3" cy="710.6" r="2.3" stroke="#555" stroke-width="1.0" fill="#dcdcdc"/>
<circle cx="627.4" cy="715.4" r="2.3" stroke="#555" stroke-width="1.0" fill="#dcdcdc"/>
<circle cx="634.9" cy="715" r="2.3" stroke="#555" stroke-width="1.0" fill="#dcdcdc"/>
<circle cx="638.8" cy="715" r="2.3" stroke="#555" stroke-width="1.0" fill="#dcdcdc"/>
<circle cx="642.6" cy="715.4" r="2.3" stroke="#555" stroke-width="1.0" fill="#dcdcdc"/>
<circle cx="656.8" cy="693.5" r="2.3" stroke="#7a2a9a" stroke-width="1.0" fill="#f0d4ff"/>
<circle cx="664.2" cy="693.5" r="2.3" stroke="#7a2a9a" stroke-width="1.0" fill="#f0d4ff"/>
<circle cx="672.1" cy="690" r="2.3" stroke="#7a2a9a" stroke-width="1.0" fill="#f0d4ff"/>
<circle cx="672.1" cy="697" r="2.3" stroke="#7a2a9a" stroke-width="1.0" fill="#f0d4ff"/>
<circle cx="664.2" cy="700.5" r="2.3" stroke="#7a2a9a" stroke-width="1.0" fill="#f0d4ff"/>
<circle cx="668" cy="707.5" r="2.3" stroke="#7a2a9a" stroke-width="1.0" fill="#f0d4ff"/>
<circle cx="660.5" cy="711.9" r="2.3" stroke="#7a2a9a" stroke-width="1.0" fill="#f0d4ff"/>
<path d="M634.9,695.8 L634.9,671.2 L664.4,671.2 L664.4,683.7" stroke="#111" stroke-width="1.1" fill="none" />
<path d="M645.4,660.1 L645.4,665.9 M642.89,661.55 L647.91,664.45 M642.89,664.45 L647.91,661.55" stroke="#000" stroke-width="1.2" stroke-linecap="round" fill="none"/>
<circle cx="645.4" cy="663" r="1.1" fill="#000"/>
<path d="M653.9,660.1 L653.9,665.9 M651.39,661.55 L656.41,664.45 M651.39,664.45 L656.41,661.55" stroke="#000" stroke-width="1.2" stroke-linecap="round" fill="none"/>
<circle cx="653.9" cy="663" r="1.1" fill="#000"/>
</svg>
</body></html>
